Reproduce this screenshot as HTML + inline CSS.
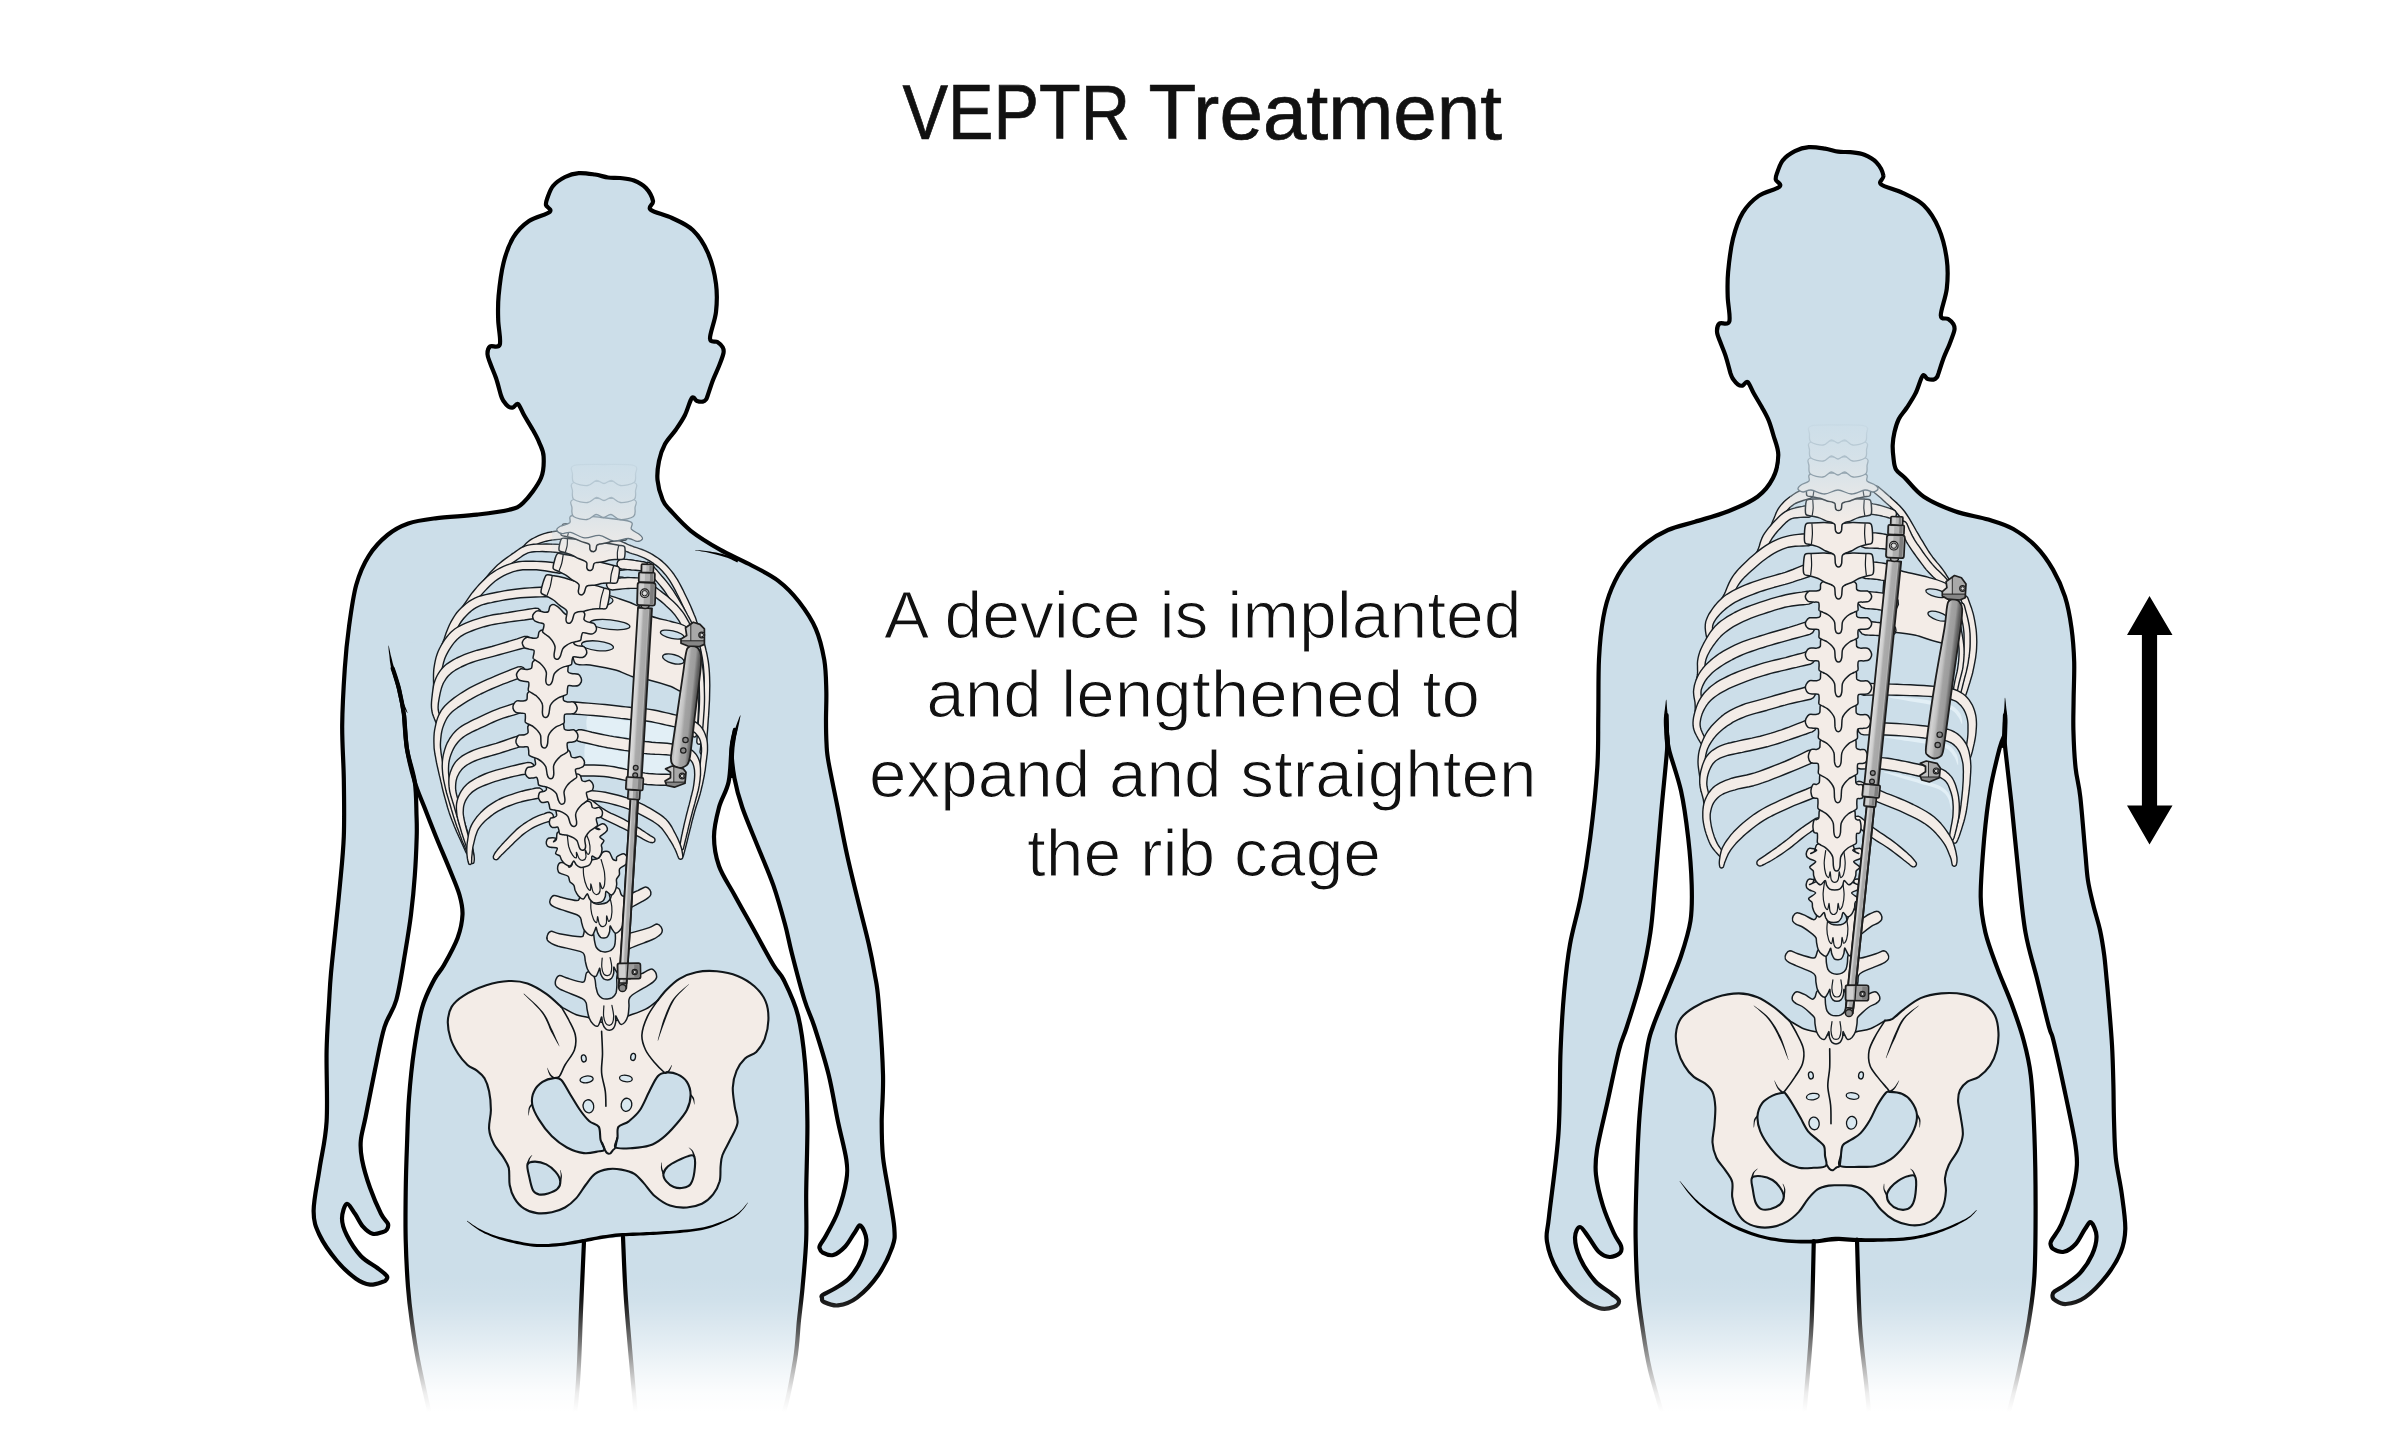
<!DOCTYPE html>
<html lang="en"><head><meta charset="utf-8"><title>VEPTR Treatment</title>
<style>
html,body{margin:0;padding:0;background:#fff}
body{width:2400px;height:1440px;overflow:hidden;position:relative;font-family:"Liberation Sans",sans-serif}
svg{position:absolute;left:0;top:0;display:block}
text{font-family:"Liberation Sans",sans-serif;fill:#111}
</style></head><body>
<svg width="2400" height="1440" viewBox="0 0 2400 1440">
<defs>
<linearGradient id="fade" x1="0" y1="1276" x2="0" y2="1412" gradientUnits="userSpaceOnUse">
<stop offset="0" stop-color="#fff" stop-opacity="0"/><stop offset="0.18" stop-color="#fff" stop-opacity="0.09"/><stop offset="0.32" stop-color="#fff" stop-opacity="0.25"/><stop offset="0.5" stop-color="#fff" stop-opacity="0.48"/><stop offset="0.68" stop-color="#fff" stop-opacity="0.72"/><stop offset="0.86" stop-color="#fff" stop-opacity="0.93"/><stop offset="1" stop-color="#fff" stop-opacity="1"/>
</linearGradient>
</defs>

<g fill="#ccdee9" stroke="none"><path d="M392.7 668.3C393.8 671.8 397.1 681.2 399 689C400.9 696.8 402.7 705 404 715C405.3 725 405.2 737.8 407 749C408.8 760.2 413.2 771 414.8 782C416.4 793 416.2 805.9 416.5 815C416.8 824.1 417 826.6 416.7 836.7C416.4 846.8 415.8 862.6 414.8 875.6C413.9 888.6 412.6 901.5 411 914.5C409.4 927.5 407.4 939.2 405 953.5C402.6 967.8 399.7 987.8 396.3 1000C392.9 1012.2 388.1 1015.4 384.5 1027C380.9 1038.6 378.1 1054.7 375 1069.7C371.9 1084.7 368 1105.2 365.6 1117C363.2 1128.8 361.4 1133.5 360.8 1140.6C360.2 1147.7 360.5 1151.6 362 1159.5C363.5 1167.4 366.8 1178.8 370 1187.8C373.2 1196.8 378 1207.8 381 1213.8C384 1219.8 387.1 1221.3 388 1224C388.9 1226.7 387.3 1228.7 386.5 1230C385.7 1231.3 385.3 1231.4 383 1232C380.7 1232.6 375.9 1234.7 372.6 1233.8C369.3 1232.9 365.9 1230 363 1226.7C360.1 1223.4 357.7 1217.6 355 1213.8C352.3 1210 348.9 1203.2 346.7 1204C344.5 1204.8 342 1213.3 342 1218.5C342 1223.7 343.6 1228.8 346.7 1235C349.8 1241.2 355.7 1250.5 360.8 1256C365.9 1261.5 373.1 1264.7 377.4 1268C381.7 1271.3 385.4 1274 386.8 1276C388.2 1278 386.6 1279 386 1280C385.4 1281 385.7 1281 383 1281.8C380.3 1282.6 374.5 1285.1 370 1284.6C365.5 1284.1 361.5 1282.6 356 1278.7C350.5 1274.8 343.1 1268.3 337 1261C330.9 1253.7 323.4 1243.3 319.5 1235C315.6 1226.7 313.6 1222 313.6 1211C313.6 1200 317.3 1183.9 319.5 1169C321.7 1154.1 325.4 1141.4 326.6 1121.7C327.8 1102 326.2 1071.1 326.6 1050.8C327 1030.5 328.5 1013 329.2 1000C329.9 987 330 984 331 973C332 962 333.5 948.6 335 934C336.5 919.4 338.4 901.6 339.9 885.4C341.4 869.2 343.1 854.5 343.8 836.7C344.5 818.9 344.1 797 343.8 778.4C343.5 759.8 342 743.4 342.2 725C342.4 706.6 343.7 684.7 344.8 668.3C345.9 651.9 347.1 640.6 349 626.7C350.9 612.8 353 596.8 356.2 585C359.5 573.2 363.5 564.1 368.8 555.8C374 547.5 380.9 540.4 387.5 535C394.1 529.6 400.3 526.3 408.3 523.5C416.3 520.7 423.9 519.8 435.4 518.3C446.8 516.8 464.9 516 477 514.6C489.1 513.2 500.6 511.9 508.3 510C516 508.1 517.5 508.3 523 503C528.5 497.7 537.6 485.8 541 478C544.4 470.2 543.9 462.3 543.6 456.3C543.3 450.3 540.8 446.5 539 442C537.2 437.5 535.1 434 532.6 429.5C530.1 425 526.4 419.2 524 415C521.6 410.8 519.8 405.2 518 404C516.2 402.8 514.6 407.1 513 407.5C511.4 407.9 509.9 407.5 508.3 406.4C506.7 405.3 504.7 402.8 503.5 401C502.3 399.2 502.2 399.3 501 395.5C499.8 391.7 497.8 383.2 496 378C494.2 372.8 491.9 368 490.5 364C489.1 360 487.6 357.1 487.5 354.2C487.4 351.3 487.9 348.1 490 346.5C492.1 344.9 498.4 348.9 499.8 344.5C501.2 340.1 498.4 328.1 498.2 320C498 311.9 497.7 305.3 498.6 295.8C499.5 286.3 501.1 272.7 503.5 263C505.9 253.3 509 244.5 513.2 237.5C517.5 230.5 522.9 225.2 529 221C535.1 216.8 546.9 214.7 549.7 212C552.5 209.3 546.4 207.2 546 205C545.6 202.8 546 201.8 547.2 198.6C548.4 195.4 550 189.6 553 186C556 182.4 560.7 179.2 565 177C569.3 174.8 573.8 173.5 578.8 173.1C583.8 172.7 590.1 173.8 595 174.5C599.9 175.2 603.8 176.9 608 177.5C612.2 178.1 615.8 177.5 620.1 178C624.4 178.5 629.7 178.8 634 180.5C638.3 182.2 642.8 184.6 646 188C649.2 191.4 652.2 197.4 653 201C653.8 204.6 647.3 206.8 650.5 209.6C653.7 212.4 664.9 214.6 672 218C679.1 221.4 687 224.4 693 230.2C699 236 704.2 244.1 708 253C711.8 261.9 714.7 273.9 716 283.7C717.3 293.5 717 302.9 716 312C715 321.1 709.8 333.4 710 338.4C710.2 343.4 715.3 340.6 717.4 342C719.5 343.4 721.5 345.2 722.5 347C723.5 348.8 724.1 349.8 723.5 353C722.9 356.2 720.8 361.5 719 366C717.2 370.5 714.9 375.1 713 380C711.1 384.9 708.9 392.2 707.7 395.5C706.5 398.8 706.8 398.5 706 399.5C705.2 400.5 704.3 401.4 702.8 401.6C701.3 401.9 698.8 401.6 697 401C695.2 400.4 693.9 395.7 691.9 398C689.9 400.3 687.6 409.8 685 415C682.4 420.2 679.3 424.7 676 429.5C672.7 434.3 667.8 438.8 665 444C662.2 449.2 660.2 455 659 461C657.8 467 656.9 473.5 657.5 480C658.1 486.5 660.6 495 662.7 500C664.8 505 665.3 504.9 670 510C674.7 515.1 682.5 524.2 690.8 530.8C699.1 537.4 710.3 544.1 720 549.6C729.7 555.1 739.3 558.8 749 564C758.7 569.2 770 574.5 778.3 580.8C786.6 587.1 792.8 593.7 799 601.7C805.2 609.7 811.6 619 815.8 628.8C820 638.5 822.5 649.8 824.3 660C826 670.2 826 680 826.3 690C826.6 700 826 710.8 826 720C826 729.2 826.2 738 826.6 745C827 752 826.7 751.6 828.5 762C830.3 772.4 834.5 791.8 837.6 807.5C840.7 823.2 843.7 839.8 847.3 856C850.9 872.2 855.4 890.2 859 904.8C862.6 919.4 866.1 932.3 868.7 943.7C871.3 955.1 872.9 963.6 874.5 973C876.1 982.4 877 983.1 878.4 1000C879.8 1016.9 882.5 1054.2 883 1074.5C883.5 1094.8 881.7 1108 881.7 1121.7C881.7 1135.5 881.8 1145.2 883 1157C884.2 1168.8 886.9 1180.7 888.8 1192.5C890.7 1204.3 893.7 1219 894.3 1228C894.9 1237 895.1 1239 892.4 1246.8C889.7 1254.6 884.1 1266.5 878.2 1275C872.3 1283.5 863.7 1292.5 857 1297.6C850.3 1302.7 843.5 1304.7 838 1305.4C832.5 1306.1 826.6 1303.2 823.9 1302C821.2 1300.8 822.2 1299.2 822 1298C821.8 1296.8 820.4 1296.7 822.7 1295C825 1293.3 831.2 1290.9 835.7 1288C840.2 1285.1 845.6 1282.4 849.9 1277.5C854.2 1272.6 859 1264.9 861.7 1258.6C864.5 1252.3 866.6 1245.2 866.4 1239.7C866.2 1234.2 862.5 1226.8 860.5 1225.6C858.5 1224.4 857.2 1229.2 854.6 1232.7C852 1236.2 848.5 1243.1 845 1246.8C841.5 1250.5 837 1254 833.3 1255C829.6 1256 825 1253.9 822.7 1252.7C820.4 1251.5 819.9 1249.4 819.5 1248C819.1 1246.6 819.3 1246.7 820.4 1244.5C821.5 1242.3 823.4 1240.5 826.3 1235C829.2 1229.5 834.7 1220.5 838 1211.4C841.3 1202.4 844.9 1189.4 846.3 1180.7C847.7 1172 847.7 1169.3 846.3 1159.5C844.9 1149.7 841 1135.9 838 1121.7C835 1107.5 832.5 1090.3 828.6 1074.5C824.7 1058.7 818.5 1039.4 814.5 1027C810.5 1014.6 808.3 1012.2 804.5 1000C800.7 987.8 795.1 966.1 791.9 953.5C788.6 940.9 788.1 935.6 785 924.3C781.9 912.9 777.9 898.4 773.4 885.4C768.9 872.4 763 859.5 757.8 846.5C752.6 833.5 746.2 818.9 742.3 807.5C738.4 796.1 736.3 788.1 734.5 778.4C732.7 768.6 731.5 757.1 731.6 749C731.7 740.9 734.4 733.2 735 730"/><path d="M404 715C404.5 720.7 405.2 737.8 407 749C408.8 760.2 411.9 772.2 414.8 782C417.7 791.8 421 798.4 424.5 807.5C428 816.6 431.8 826.3 436 836.7C440.2 847.1 445.9 860.1 449.8 869.8C453.7 879.5 457.4 887.5 459.5 895C461.6 902.5 462.8 907.4 462.5 914.5C462.2 921.6 460.7 929.5 457.6 937.9C454.5 946.3 447.9 958 444 965C440.1 972 437.7 972.8 434 980C430.3 987.2 425.3 996.2 422 1008C418.7 1019.8 416.2 1035.8 414 1050.8C411.8 1065.8 410.2 1082.3 409 1098C407.8 1113.7 407.6 1129.2 407 1145C406.4 1160.8 405.9 1176.7 405.7 1192.5C405.5 1208.3 405.3 1224 405.7 1239.7C406.1 1255.5 407 1273.6 408 1287C409 1300.4 409.9 1307.8 411.6 1320C413.3 1332.2 414.9 1344.2 418 1360C421.1 1375.8 426.3 1398.3 430 1415C433.7 1431.7 438.3 1452.5 440 1460L570 1460C571.3 1447.1 576.1 1407.8 577.9 1382.8C579.7 1357.8 580 1333.6 581 1310C582 1286.4 583.5 1252.5 584 1241L623 1237C623.5 1247.5 624.3 1275.7 626 1300C627.7 1324.3 630.7 1356.1 633 1382.8C635.3 1409.5 638.8 1447.1 640 1460L760 1460C763.8 1452.6 777 1432.3 782.8 1415.6C788.6 1398.9 792.3 1375.9 795 1360C797.7 1344.1 797.7 1332.2 799 1320C800.3 1307.8 801.4 1300.4 802.6 1287C803.8 1273.6 805.6 1255.5 806.2 1239.7C806.8 1224 806 1212.2 806.2 1192.5C806.4 1172.8 807.6 1143.4 807.4 1121.7C807.2 1100 806.6 1080.3 805 1062.6C803.4 1044.9 801.5 1029.2 798 1015.4C794.5 1001.6 787.9 988.4 783.8 980C779.6 971.6 778.4 973.3 773.4 965C768.4 956.7 760.5 941.7 754 930C747.5 918.3 740.3 905.7 734.5 895C728.7 884.3 722.4 875.7 719 866C715.6 856.3 714 846.5 714 836.7C714 827 716.6 816.6 719 807.5C721.4 798.4 726.5 791.8 728.6 782C730.7 772.2 730.5 757.7 731.6 749C732.7 740.3 734.4 733.2 735 730"/><path d="M387.7 638.3L740 700L740 734L399 719Z"/></g>
<g fill="#ccdee9" stroke="none"><path d="M1666.6 715C1666.7 718.3 1666.9 729 1667 735C1667.1 741 1668 737.5 1667 750.7C1666 763.9 1663 792 1661 814.4C1659 836.8 1656.8 865.3 1655 885C1653.2 904.7 1652.7 916.7 1650.4 932.5C1648.1 948.3 1644.9 964 1641 979.7C1637.1 995.5 1630.5 1015.3 1626.8 1027C1623.1 1038.7 1622.2 1037.5 1619 1050C1615.8 1062.5 1611.2 1085.3 1607.5 1102C1603.8 1118.7 1598.9 1137.8 1597 1150C1595.1 1162.2 1595 1165.7 1596 1175C1597 1184.3 1600 1196.3 1603 1206C1606 1215.7 1610.8 1226.4 1613.8 1233C1616.8 1239.6 1620 1242.5 1621 1245.8C1622 1249.1 1621.9 1251.1 1620 1253C1618.1 1254.9 1613.1 1257.2 1609.6 1257C1606.1 1256.8 1602.5 1255.2 1599 1252C1595.5 1248.8 1591.9 1241.7 1588.8 1237.5C1585.6 1233.3 1582.3 1227 1580 1227C1577.7 1227 1575 1232.3 1575 1237.5C1575 1242.7 1576.7 1250.8 1580 1258C1583.3 1265.2 1589.7 1275 1595 1281C1600.3 1287 1607.7 1290.4 1611.7 1293.8C1615.7 1297.1 1618.7 1298.8 1619 1301C1619.3 1303.2 1617.1 1305.8 1613.8 1307C1610.4 1308.2 1605 1309.9 1599 1308C1593 1306.1 1584.9 1302 1578 1295.8C1571.1 1289.6 1562.7 1279.8 1557.5 1270.8C1552.3 1261.8 1548.4 1250.7 1547 1241.7C1545.6 1232.7 1547.1 1234.8 1549 1216.7C1550.9 1198.6 1556.6 1160.8 1558.5 1133C1560.4 1105.2 1559.6 1073.6 1560.6 1050C1561.5 1026.4 1562.6 1009.1 1564.2 991.5C1565.8 973.9 1567.2 960 1570 944.3C1572.8 928.5 1577.4 914.7 1580.8 897C1584.2 879.3 1587.5 859.6 1590.2 838C1593 816.4 1596 787.7 1597.3 767.2C1598.6 746.7 1598 733 1598.3 715C1598.6 697 1598.2 675.2 1599 659C1599.8 642.8 1601.2 629.3 1603.3 617.5C1605.4 605.7 1607.9 597.3 1611.7 588.3C1615.5 579.3 1620.1 570.9 1626 563.3C1631.9 555.7 1640 548 1647 542.5C1654 537 1660 533.5 1668 530C1676 526.5 1685 524.8 1695 521.7C1705 518.6 1717.9 515.4 1728.3 511.2C1738.7 507.1 1750 502.2 1757.5 496.7C1765 491.2 1769.5 484.9 1773 478C1776.5 471.1 1778.2 462.1 1778.3 455C1778.4 447.9 1775 440.9 1773.4 435.2C1771.8 429.5 1770.6 425.2 1768.8 420.7C1766.9 416.1 1764.8 412.5 1762.3 408C1759.8 403.4 1756.1 397.5 1753.7 393.2C1751.2 388.9 1749.5 383.3 1747.6 382C1745.8 380.8 1744.2 385.2 1742.6 385.6C1741 386 1739.5 385.6 1737.9 384.5C1736.3 383.4 1734.3 380.8 1733 379C1731.8 377.1 1731.8 377.3 1730.5 373.4C1729.3 369.5 1727.3 360.9 1725.5 355.6C1723.7 350.2 1721.4 345.4 1720 341.3C1718.5 337.3 1717 334.3 1717 331.4C1716.9 328.4 1717.4 325.2 1719.5 323.5C1721.5 321.9 1728 326 1729.3 321.5C1730.7 317 1727.9 304.9 1727.7 296.6C1727.5 288.3 1727.2 281.6 1728.1 272C1729 262.3 1730.6 248.5 1733 238.6C1735.5 228.7 1738.5 219.8 1742.8 212.7C1747.1 205.6 1752.6 200.2 1758.7 195.9C1764.8 191.6 1776.7 189.5 1779.5 186.8C1782.4 184 1776.2 181.9 1775.8 179.6C1775.4 177.4 1775.8 176.4 1777 173.1C1778.2 169.9 1779.9 164 1782.8 160.3C1785.8 156.7 1790.6 153.4 1794.9 151.2C1799.2 149 1803.8 147.6 1808.8 147.2C1813.8 146.8 1820.2 147.9 1825.1 148.6C1830 149.4 1834 151.1 1838.2 151.7C1842.4 152.3 1846 151.7 1850.3 152.2C1854.7 152.7 1860 153 1864.3 154.7C1868.7 156.4 1873.2 158.9 1876.4 162.4C1879.6 165.8 1882.7 171.9 1883.4 175.6C1884.2 179.2 1877.7 181.4 1880.9 184.3C1884.1 187.2 1895.4 189.4 1902.6 192.9C1909.7 196.4 1917.6 199.3 1923.7 205.3C1929.7 211.2 1934.9 219.4 1938.8 228.5C1942.6 237.5 1945.5 249.7 1946.8 259.7C1948.2 269.7 1947.8 279.2 1946.8 288.5C1945.8 297.7 1940.6 310.2 1940.8 315.3C1941 320.4 1946.1 317.5 1948.2 319C1950.3 320.4 1952.3 322.2 1953.4 324.1C1954.4 325.9 1955 326.9 1954.4 330.2C1953.8 333.4 1951.6 338.8 1949.8 343.4C1948.1 348 1945.7 352.6 1943.8 357.6C1941.9 362.6 1939.6 370.1 1938.5 373.4C1937.3 376.7 1937.6 376.4 1936.8 377.4C1935.9 378.5 1935.1 379.3 1933.5 379.6C1932 379.8 1929.5 379.6 1927.7 379C1925.9 378.4 1924.6 373.6 1922.6 375.9C1920.6 378.3 1918.3 387.9 1915.6 393.2C1913 398.6 1909.4 403.7 1906.6 408C1903.8 412.3 1900.8 415 1898.8 419C1896.8 423 1895.5 427.7 1894.5 432C1893.5 436.3 1892.9 440.7 1892.7 445C1892.5 449.3 1893 453.9 1893.5 458C1894 462.1 1894.1 466.2 1896 469.5C1897.9 472.8 1900.4 473.5 1905 478C1909.6 482.5 1915.4 491.2 1923.8 496.7C1932.1 502.2 1944.2 507.4 1955 511.2C1965.8 515.1 1978.6 516.6 1988.3 519.6C1998 522.6 2005.3 524.5 2013.3 529C2021.3 533.5 2029.6 539.9 2036.2 546.7C2042.9 553.5 2048.2 561.3 2053 569.6C2057.8 577.9 2061.9 587 2065 596.7C2068.1 606.4 2070 617.1 2071.5 628C2073 638.9 2073.8 650 2074.2 662C2074.5 674 2073.7 688.7 2073.6 700C2073.5 711.3 2073.1 718.7 2073.4 730C2073.7 741.3 2074.4 756.8 2075.6 768C2076.8 779.2 2078.7 782.9 2080.3 797C2081.9 811.1 2084 839 2085.3 852.8C2086.6 866.6 2086.6 871.3 2087.9 880C2089.2 888.7 2091.3 896.7 2093.3 905C2095.3 913.3 2098.2 921.7 2100 930C2101.8 938.3 2103.1 946.7 2104.2 955C2105.3 963.3 2105.9 972 2106.7 980C2107.5 988 2107.9 992.5 2108.8 1003.3C2109.7 1014.1 2111.2 1031.4 2112 1045C2112.8 1058.6 2113.1 1072.5 2113.4 1085C2113.7 1097.5 2113.6 1107.8 2114 1120C2114.4 1132.2 2114.5 1145.8 2115.8 1158C2117.1 1170.2 2120.1 1181.7 2121.7 1193.5C2123.3 1205.3 2125.5 1219.2 2125.3 1229C2125.1 1238.8 2123.8 1244.7 2120.6 1252.5C2117.4 1260.3 2112.3 1268.5 2106.4 1276C2100.5 1283.5 2091.7 1292.7 2085 1297.4C2078.3 1302.1 2071.1 1303.6 2066 1304C2060.9 1304.4 2056.8 1301.1 2054.5 1299.7C2052.2 1298.3 2052.5 1296.9 2052.5 1295.5C2052.5 1294.1 2052.2 1293.3 2054.5 1291.5C2056.8 1289.7 2061.7 1287.6 2066 1284.4C2070.3 1281.2 2076.1 1277.5 2080.4 1272.6C2084.7 1267.7 2089.3 1261 2092 1254.9C2094.7 1248.8 2096.7 1241.4 2096.5 1236C2096.3 1230.6 2092.9 1223.5 2091 1222.3C2089.1 1221.1 2087.6 1225.4 2085 1229C2082.4 1232.6 2079.2 1240.2 2075.7 1244C2072.2 1247.8 2067.6 1251 2063.9 1251.8C2060.2 1252.6 2055.5 1250.3 2053.3 1249C2051.1 1247.7 2050.7 1245.6 2050.5 1244C2050.3 1242.4 2050.2 1242.8 2052 1239.5C2053.8 1236.2 2058.2 1231.7 2061.5 1224C2064.8 1216.3 2069.4 1203.3 2072 1193.5C2074.6 1183.7 2076.5 1174 2076.9 1165C2077.3 1156 2076.7 1152.2 2074.5 1139.2C2072.3 1126.2 2067.4 1103.7 2063.9 1087.2C2060.4 1070.7 2055.8 1050 2053.3 1040C2050.8 1030 2051.7 1037 2049 1027C2046.3 1017 2041.2 995.5 2037.3 979.7C2033.4 964 2028.6 950.2 2025.5 932.5C2022.4 914.8 2020.8 895 2018.5 873.4C2016.2 851.8 2013.6 823 2011.4 802.6C2009.2 782.2 2006.7 762 2005.5 750.7C2004.3 739.4 2004.6 741 2004.5 735C2004.4 729 2004.9 718.3 2005 715"/><path d="M1667 735C1667.4 737.6 1667 741.4 1669.3 750.7C1671.6 760 1677.8 776.2 1681 790.8C1684.2 805.3 1686.4 822.3 1688.2 838C1690 853.7 1691.3 871.2 1691.7 885C1692.1 898.8 1692.3 908.9 1690.5 920.7C1688.7 932.5 1684.9 944.2 1681 956C1677.1 967.8 1671.7 979.7 1667 991.5C1662.3 1003.3 1656.1 1017.2 1652.8 1027C1649.5 1036.8 1649.2 1035.8 1647 1050C1644.8 1064.2 1641.5 1091.7 1639.8 1112.5C1638.1 1133.3 1637.4 1154.2 1636.7 1175C1636 1195.8 1635.4 1218.4 1635.6 1237.5C1635.8 1256.6 1636.5 1274 1637.7 1289.6C1638.9 1305.2 1641 1317.6 1643 1331C1645 1344.4 1646.5 1355.2 1650 1370C1653.5 1384.8 1659.8 1405 1664 1420C1668.2 1435 1673.2 1453.3 1675 1460L1800 1460C1801.1 1447.8 1804.8 1409.5 1806.7 1387C1808.6 1364.5 1810.3 1349.3 1811.5 1325C1812.7 1300.7 1813.4 1255 1813.8 1241L1857 1239.7C1857.5 1253.9 1858.4 1300.5 1860 1325C1861.6 1349.5 1864.2 1364.5 1866.5 1387C1868.8 1409.5 1872.8 1447.8 1874 1460L1995 1460C1997.2 1452.5 2004 1429.9 2008 1415C2012 1400.1 2015.6 1385.9 2019 1370.6C2022.4 1355.3 2025.9 1339.2 2028.5 1323.4C2031.1 1307.6 2033.2 1295.7 2034.4 1276C2035.6 1256.3 2035.6 1228.9 2035.6 1205.3C2035.6 1181.7 2035.2 1156.2 2034.4 1134.5C2033.6 1112.8 2032.7 1091.4 2030.8 1075.4C2028.9 1059.4 2026.4 1050.7 2023.2 1038.7C2020 1026.7 2015.7 1015.1 2011.4 1003.3C2007.1 991.5 2001.5 979.7 1997.2 967.9C1992.9 956.1 1988.2 944.3 1985.4 932.5C1982.7 920.7 1980.9 912.8 1980.7 897C1980.5 881.2 1982.7 855.7 1984.2 838C1985.8 820.3 1987.4 805.8 1990 790.8C1992.6 775.8 1997.2 757.6 1999.6 748.3C2002 739 2003.7 737.2 2004.5 735"/><path d="M1661.6 685L2010 685L2009.5 739L1662 739Z"/></g>
<path d="M561.3 1006.9C558.8 1004.7 551.9 997.7 546.3 993.8C540.6 989.8 533.8 985.6 527.5 983.4C521.3 981.3 515.6 980.7 508.8 981C501.9 981.3 493.8 982.9 486.3 985.3C478.8 987.8 469.5 992 463.8 995.6C458 999.2 454.2 1002.5 451.6 1006.9C448.9 1011.3 448 1016.6 447.8 1021.9C447.7 1027.2 448.9 1033.4 450.6 1038.8C452.3 1044.1 455.3 1049.4 458.1 1053.8C460.9 1058.1 464.4 1062.2 467.5 1065C470.6 1067.8 474.1 1068.4 476.9 1070.6C479.7 1072.8 482.3 1074.7 484.4 1078.1C486.4 1081.6 488 1085.9 489.1 1091.3C490.2 1096.6 490.9 1103.8 490.9 1110C490.9 1116.3 488.6 1123.1 489.1 1128.8C489.5 1134.4 491.4 1139.1 493.8 1143.8C496.1 1148.4 500.6 1152.8 503.1 1156.9C505.6 1160.9 507.7 1163.4 508.8 1168.1C509.8 1172.8 508.8 1180 509.7 1185C510.6 1190 512 1194.2 514.4 1198.1C516.7 1202 520 1205.9 523.8 1208.4C527.5 1210.9 532.2 1212.5 536.9 1213.1C541.6 1213.8 547.2 1213.1 551.9 1212.2C556.6 1211.3 560.9 1209.8 565 1207.5C569.1 1205.2 572.8 1201.9 576.3 1198.1C579.7 1194.4 582.5 1189.1 585.6 1185C588.8 1180.9 591.3 1176.4 595 1173.8C598.8 1171.1 603.8 1169.8 608.1 1169.1C612.5 1168.4 616.9 1168.8 621.3 1169.6C625.6 1170.4 630.6 1171.5 634.4 1173.8C638.1 1176 640.3 1179.4 643.8 1183.1C647.2 1186.9 650.6 1192.5 655 1196.3C659.4 1200 664.7 1203.8 670 1205.6C675.3 1207.5 681.6 1207.8 686.9 1207.5C692.2 1207.2 697.5 1205.9 701.9 1203.8C706.3 1201.6 710.2 1198.1 713.1 1194.4C716.1 1190.6 718.4 1185.9 719.7 1181.3C720.9 1176.6 720.2 1170.6 720.6 1166.3C721.1 1161.9 720.9 1159.4 722.5 1155C724.1 1150.6 727.5 1145.3 730 1140C732.5 1134.7 736.7 1128.8 737.5 1123.1C738.3 1117.5 735.5 1112.2 734.7 1106.3C733.9 1100.3 732.5 1093.4 732.8 1087.5C733.1 1081.6 734.5 1075.5 736.6 1070.6C738.6 1065.8 741.7 1061.6 745 1058.4C748.3 1055.3 753 1055.2 756.3 1051.9C759.5 1048.6 762.7 1044.1 764.7 1038.8C766.7 1033.4 768.3 1026.3 768.4 1020C768.6 1013.8 768 1006.9 765.6 1001.3C763.3 995.6 759.1 990.5 754.4 986.3C749.7 982 743.8 978.4 737.5 975.9C731.3 973.4 723.8 971.9 716.9 971.3C710 970.6 702.5 970.9 696.3 972.2C690 973.4 684.4 975.8 679.4 978.8C674.4 981.7 669.8 986.4 666.3 990C662.7 993.6 659.2 998.6 657.8 1000.3L657.8 1000.3C655.8 1001.8 650.8 1006.5 645.6 1009.1C640.5 1011.8 633.4 1014.4 626.9 1016.3C620.3 1018.1 612.8 1019.8 606.3 1020C599.7 1020.2 592.5 1018.1 587.5 1017.2C582.5 1016.3 580.6 1016.5 576.3 1014.8C571.9 1013 563.8 1008.2 561.3 1006.9ZM553.8 1078.1C550.6 1078.4 545.8 1079.7 542.5 1081.9C539.2 1084.1 535.8 1087.5 534.1 1091.3C532.3 1095 531.4 1099.7 532.2 1104.4C533 1109.1 535.5 1114.1 538.8 1119.4C542 1124.7 547.2 1131.6 551.9 1136.3C556.6 1140.9 561.6 1144.7 566.9 1147.5C572.2 1150.3 578.4 1152.5 583.8 1153.1C589.1 1153.8 595.3 1151.9 598.8 1151.3C602.2 1150.6 604.1 1151.3 604.4 1149.4C604.7 1147.5 601.6 1143.8 600.6 1140C599.7 1136.3 600.6 1130 598.8 1126.9C596.9 1123.8 592.5 1124.1 589.4 1121.3C586.3 1118.4 583.1 1114.4 580 1110C576.9 1105.6 573.8 1100 570.6 1095C567.5 1090 564.1 1082.8 561.3 1080C558.4 1077.2 556.9 1077.8 553.8 1078.1ZM666.3 1072.5C669.5 1072.2 674.1 1072.8 677.5 1074.4C680.9 1075.9 684.7 1078.4 686.9 1081.9C689.1 1085.3 690.6 1090.3 690.6 1095C690.6 1099.7 689.4 1105 686.9 1110C684.4 1115 679.7 1120.3 675.6 1125C671.6 1129.7 666.9 1134.7 662.5 1138.1C658.1 1141.6 654.4 1144 649.4 1145.6C644.4 1147.3 638.1 1147.8 632.5 1148.1C626.9 1148.4 618.1 1149.2 615.6 1147.5C613.1 1145.8 617 1141.6 617.5 1138.1C618 1134.7 616.6 1129.7 618.4 1126.9C620.3 1124.1 625.2 1124.1 628.8 1121.3C632.3 1118.4 636.6 1115 640 1110C643.4 1105 646.4 1096.9 649.4 1091.3C652.3 1085.6 655 1079.4 657.8 1076.3C660.6 1073.1 663 1072.8 666.3 1072.5ZM527.5 1164.4C528.4 1161.7 531.9 1161.6 535 1161.6C538.1 1161.6 542.8 1162.7 546.3 1164.4C549.7 1166.1 553.3 1169.1 555.6 1171.9C558 1174.7 560 1178.4 560.3 1181.3C560.6 1184.1 559.5 1186.7 557.5 1188.8C555.5 1190.8 551.3 1192.5 548.1 1193.4C545 1194.4 541.3 1194.8 538.8 1194.4C536.3 1193.9 534.7 1193.4 533.1 1190.6C531.6 1187.8 530.3 1181.9 529.4 1177.5C528.4 1173.1 526.6 1167 527.5 1164.4ZM694.4 1156.9C693.4 1154.2 691.6 1155.3 688.8 1155.9C685.9 1156.6 680.9 1158.9 677.5 1160.6C674.1 1162.3 670.5 1164.1 668.1 1166.3C665.8 1168.4 663.8 1171.3 663.4 1173.8C663.1 1176.3 664.5 1179.1 666.3 1181.3C668 1183.4 670.9 1185.8 673.8 1186.9C676.6 1188 680.3 1188.3 683.1 1187.8C685.9 1187.3 688.8 1186.7 690.6 1184.1C692.5 1181.4 693.8 1176.4 694.4 1171.9C695 1167.3 695.3 1159.5 694.4 1156.9Z" fill="#f3ece7" fill-rule="evenodd" stroke="none"/>
<path d="M597.8 1125C598.1 1126.6 599 1131.4 599.7 1134.4C600.4 1137.3 601.3 1140.3 602.1 1142.8C603 1145.4 603.9 1148 604.8 1149.8C605.6 1151.5 606.3 1152.5 607.2 1153.1C608.1 1153.7 609.4 1153.8 610.4 1153.3C611.3 1152.8 612 1151.3 612.8 1150.3C613.6 1149.3 614.5 1149.5 615.3 1147.5C616 1145.5 616.6 1141.6 617.1 1138.1C617.7 1134.7 618.2 1128.8 618.4 1126.9" fill="#f3ece7" stroke="none"/>
<path d="M602.1 1142.8C602.6 1144 603.9 1148 604.8 1149.8C605.6 1151.5 606.3 1152.5 607.2 1153.1C608.1 1153.7 609.4 1153.8 610.4 1153.3C611.3 1152.8 612 1151.3 612.8 1150.3C613.6 1149.3 614.5 1149.5 615.3 1147.5C616 1145.5 616.8 1139.7 617.1 1138.1" fill="none" stroke="#10161a" stroke-width="2" stroke-linejoin="round" stroke-linecap="round"/>
<g fill="none" stroke="#10161a" stroke-width="2.1" stroke-linecap="round" stroke-linejoin="round">
<path d="M561.3 1006.9C558.8 1004.7 551.9 997.7 546.3 993.8C540.6 989.8 533.8 985.6 527.5 983.4C521.3 981.3 515.6 980.7 508.8 981C501.9 981.3 493.8 982.9 486.3 985.3C478.8 987.8 469.5 992 463.8 995.6C458 999.2 454.2 1002.5 451.6 1006.9C448.9 1011.3 448 1016.6 447.8 1021.9C447.7 1027.2 448.9 1033.4 450.6 1038.8C452.3 1044.1 455.3 1049.4 458.1 1053.8C460.9 1058.1 464.4 1062.2 467.5 1065C470.6 1067.8 474.1 1068.4 476.9 1070.6C479.7 1072.8 482.3 1074.7 484.4 1078.1C486.4 1081.6 488 1085.9 489.1 1091.3C490.2 1096.6 490.9 1103.8 490.9 1110C490.9 1116.3 488.6 1123.1 489.1 1128.8C489.5 1134.4 491.4 1139.1 493.8 1143.8C496.1 1148.4 500.6 1152.8 503.1 1156.9C505.6 1160.9 507.7 1163.4 508.8 1168.1C509.8 1172.8 508.8 1180 509.7 1185C510.6 1190 512 1194.2 514.4 1198.1C516.7 1202 520 1205.9 523.8 1208.4C527.5 1210.9 532.2 1212.5 536.9 1213.1C541.6 1213.8 547.2 1213.1 551.9 1212.2C556.6 1211.3 560.9 1209.8 565 1207.5C569.1 1205.2 572.8 1201.9 576.3 1198.1C579.7 1194.4 582.5 1189.1 585.6 1185C588.8 1180.9 591.3 1176.4 595 1173.8C598.8 1171.1 603.8 1169.8 608.1 1169.1C612.5 1168.4 616.9 1168.8 621.3 1169.6C625.6 1170.4 630.6 1171.5 634.4 1173.8C638.1 1176 640.3 1179.4 643.8 1183.1C647.2 1186.9 650.6 1192.5 655 1196.3C659.4 1200 664.7 1203.8 670 1205.6C675.3 1207.5 681.6 1207.8 686.9 1207.5C692.2 1207.2 697.5 1205.9 701.9 1203.8C706.3 1201.6 710.2 1198.1 713.1 1194.4C716.1 1190.6 718.4 1185.9 719.7 1181.3C720.9 1176.6 720.2 1170.6 720.6 1166.3C721.1 1161.9 720.9 1159.4 722.5 1155C724.1 1150.6 727.5 1145.3 730 1140C732.5 1134.7 736.7 1128.8 737.5 1123.1C738.3 1117.5 735.5 1112.2 734.7 1106.3C733.9 1100.3 732.5 1093.4 732.8 1087.5C733.1 1081.6 734.5 1075.5 736.6 1070.6C738.6 1065.8 741.7 1061.6 745 1058.4C748.3 1055.3 753 1055.2 756.3 1051.9C759.5 1048.6 762.7 1044.1 764.7 1038.8C766.7 1033.4 768.3 1026.3 768.4 1020C768.6 1013.8 768 1006.9 765.6 1001.3C763.3 995.6 759.1 990.5 754.4 986.3C749.7 982 743.8 978.4 737.5 975.9C731.3 973.4 723.8 971.9 716.9 971.3C710 970.6 702.5 970.9 696.3 972.2C690 973.4 684.4 975.8 679.4 978.8C674.4 981.7 669.8 986.4 666.3 990C662.7 993.6 659.2 998.6 657.8 1000.3"/>
<path d="M553.8 1078.1C550.6 1078.4 545.8 1079.7 542.5 1081.9C539.2 1084.1 535.8 1087.5 534.1 1091.3C532.3 1095 531.4 1099.7 532.2 1104.4C533 1109.1 535.5 1114.1 538.8 1119.4C542 1124.7 547.2 1131.6 551.9 1136.3C556.6 1140.9 561.6 1144.7 566.9 1147.5C572.2 1150.3 578.4 1152.5 583.8 1153.1C589.1 1153.8 595.3 1151.9 598.8 1151.3C602.2 1150.6 604.1 1151.3 604.4 1149.4C604.7 1147.5 601.6 1143.8 600.6 1140C599.7 1136.3 600.6 1130 598.8 1126.9C596.9 1123.8 592.5 1124.1 589.4 1121.3C586.3 1118.4 583.1 1114.4 580 1110C576.9 1105.6 573.8 1100 570.6 1095C567.5 1090 564.1 1082.8 561.3 1080C558.4 1077.2 556.9 1077.8 553.8 1078.1Z"/>
<path d="M666.3 1072.5C669.5 1072.2 674.1 1072.8 677.5 1074.4C680.9 1075.9 684.7 1078.4 686.9 1081.9C689.1 1085.3 690.6 1090.3 690.6 1095C690.6 1099.7 689.4 1105 686.9 1110C684.4 1115 679.7 1120.3 675.6 1125C671.6 1129.7 666.9 1134.7 662.5 1138.1C658.1 1141.6 654.4 1144 649.4 1145.6C644.4 1147.3 638.1 1147.8 632.5 1148.1C626.9 1148.4 618.1 1149.2 615.6 1147.5C613.1 1145.8 617 1141.6 617.5 1138.1C618 1134.7 616.6 1129.7 618.4 1126.9C620.3 1124.1 625.2 1124.1 628.8 1121.3C632.3 1118.4 636.6 1115 640 1110C643.4 1105 646.4 1096.9 649.4 1091.3C652.3 1085.6 655 1079.4 657.8 1076.3C660.6 1073.1 663 1072.8 666.3 1072.5Z"/>
<path d="M527.5 1164.4C528.4 1161.7 531.9 1161.6 535 1161.6C538.1 1161.6 542.8 1162.7 546.3 1164.4C549.7 1166.1 553.3 1169.1 555.6 1171.9C558 1174.7 560 1178.4 560.3 1181.3C560.6 1184.1 559.5 1186.7 557.5 1188.8C555.5 1190.8 551.3 1192.5 548.1 1193.4C545 1194.4 541.3 1194.8 538.8 1194.4C536.3 1193.9 534.7 1193.4 533.1 1190.6C531.6 1187.8 530.3 1181.9 529.4 1177.5C528.4 1173.1 526.6 1167 527.5 1164.4Z"/>
<path d="M694.4 1156.9C693.4 1154.2 691.6 1155.3 688.8 1155.9C685.9 1156.6 680.9 1158.9 677.5 1160.6C674.1 1162.3 670.5 1164.1 668.1 1166.3C665.8 1168.4 663.8 1171.3 663.4 1173.8C663.1 1176.3 664.5 1179.1 666.3 1181.3C668 1183.4 670.9 1185.8 673.8 1186.9C676.6 1188 680.3 1188.3 683.1 1187.8C685.9 1187.3 688.8 1186.7 690.6 1184.1C692.5 1181.4 693.8 1176.4 694.4 1171.9C695 1167.3 695.3 1159.5 694.4 1156.9Z"/>
</g>
<g fill="none" stroke="#10161a" stroke-width="1.6" stroke-linecap="round">
<path d="M561.3 1006.9C563.8 1008.2 571.9 1013 576.3 1014.8C580.6 1016.5 582.5 1015.8 587.5 1017.2C592.5 1018.6 599.7 1023.2 606.3 1023C612.8 1022.8 620.3 1018.6 626.9 1016.3C633.4 1013.9 640.5 1011.8 645.6 1009.1C650.8 1006.5 655.8 1001.8 657.8 1000.3"/>
<path d="M561.3 1006.9C562.5 1009.1 566.4 1015.3 568.8 1020C571.1 1024.7 574.4 1030 575.3 1035C576.3 1040 576.1 1045 574.4 1050C572.7 1055 567.5 1060.6 565 1065C562.5 1069.4 561.3 1074.1 559.4 1076.3C557.5 1078.4 554.7 1077.8 553.8 1078.1"/>
<path d="M657.8 1000.3C656.1 1003 650.2 1010.5 647.5 1016.3C644.8 1022 642.2 1029.4 641.9 1035C641.6 1040.6 643.4 1045.3 645.6 1050C647.8 1054.7 651.9 1059.4 655 1063.1C658.1 1066.9 662.5 1070.9 664.4 1072.5C666.3 1074.1 665.9 1072.5 666.3 1072.5"/>
<path d="M601.6 1031.3C601.7 1035 602.5 1046.9 602.5 1053.8C602.5 1060.6 601.1 1066.3 601.6 1072.5C602 1078.8 604.6 1085.6 605.3 1091.3C606 1096.9 605.8 1103.8 605.9 1106.3"/>
</g>
<g fill="#10161a" stroke="none">
<path d="M523.6 993.9L525.7 996L528.7 998.9L532.2 1002.3L535.8 1006L539.2 1009.6L541.9 1013L543.9 1016.1L545.6 1019.3L547.1 1022.5L548.4 1025.6L549.6 1028.7L551 1031.7L552.6 1034.5L554.2 1037.4L555.7 1040.2L557.1 1042.7L558.3 1044.8L559.2 1046.3L559.5 1046.2L558.8 1044.5L557.9 1042.3L556.7 1039.7L555.4 1036.8L554.1 1033.8L552.8 1030.8L551.4 1028L550.1 1024.9L548.7 1021.7L547.2 1018.5L545.3 1015.2L543.1 1012L540.2 1008.7L536.7 1005.1L532.9 1001.6L529.2 998.3L526.1 995.6L523.9 993.6Z"/>
<path d="M688.6 984.3L686.9 985.7L684.4 987.8L681.5 990.2L678.5 993L675.6 995.9L673.1 998.9L671.1 1002.1L669.3 1005.5L667.7 1009L666.2 1012.6L664.8 1016.2L663.4 1019.7L662.2 1023.4L661.1 1027.4L660 1031.4L659 1035.2L658.2 1038.3L657.7 1040.6L658 1040.7L658.8 1038.5L659.8 1035.4L661.1 1031.8L662.4 1027.9L663.9 1024L665.3 1020.3L666.6 1016.8L668 1013.3L669.4 1009.7L670.9 1006.2L672.6 1002.9L674.4 999.8L676.6 996.8L679.3 993.8L682.2 990.9L684.9 988.3L687.2 986.1L688.9 984.5Z"/>
<path d="M547 1067.9L547.3 1068.6L547.6 1069.7L548 1071L548.4 1072.4L548.9 1073.6L549.4 1074.8L550 1075.7L550.8 1076.5L551.5 1077.3L552.2 1077.9L552.7 1078.5L553.1 1078.9L554.4 1077.4L554 1077L553.3 1076.6L552.6 1076L551.9 1075.4L551.2 1074.7L550.6 1074L550 1073.1L549.4 1071.9L548.8 1070.7L548.2 1069.5L547.7 1068.5L547.3 1067.8Z"/>
<path d="M671.7 1064.9L671.4 1065.6L670.8 1066.5L670.3 1067.5L669.6 1068.6L669 1069.5L668.5 1070.2L668.1 1070.6L667.6 1070.9L667.1 1071.2L666.6 1071.3L666.1 1071.5L665.8 1071.6L666.7 1073.4L667 1073.2L667.4 1073L667.9 1072.7L668.5 1072.3L669.1 1071.7L669.6 1071L670.1 1070.1L670.6 1069.1L671 1067.9L671.5 1066.7L671.8 1065.8L672 1065.1Z"/>
<path d="M531.4 1103.7L531.2 1104.1L530.7 1104.6L530.2 1105.2L529.6 1106L529.1 1106.9L528.7 1107.9L528.5 1109.1L528.4 1110.6L528.3 1112.1L528.3 1113.5L528.3 1114.7L528.3 1115.6L528.6 1115.6L528.8 1114.8L528.9 1113.6L529.2 1112.2L529.4 1110.7L529.7 1109.4L530 1108.3L530.4 1107.6L530.9 1106.9L531.5 1106.3L532 1105.8L532.5 1105.4L532.9 1105Z"/>
<path d="M689.9 1095.6L690.2 1096L690.8 1096.5L691.3 1097.1L691.9 1097.7L692.4 1098.4L692.8 1099L693.1 1099.8L693.4 1100.8L693.7 1101.9L693.9 1102.9L694.1 1103.8L694.2 1104.4L694.5 1104.4L694.5 1103.7L694.5 1102.8L694.5 1101.7L694.4 1100.6L694.3 1099.5L694.1 1098.5L693.7 1097.6L693.2 1096.7L692.6 1096L692.1 1095.3L691.7 1094.8L691.4 1094.4Z"/>
<path d="M528.5 1164.7L528.6 1164L528.8 1163.1L529 1162L529.3 1160.9L529.6 1159.9L529.9 1159L530.3 1158.3L530.7 1157.5L531.2 1156.8L531.7 1156.1L532 1155.5L532.3 1155.1L532.1 1154.9L531.7 1155.2L531.2 1155.7L530.6 1156.3L530 1157L529.4 1157.7L528.8 1158.5L528.4 1159.4L527.9 1160.5L527.5 1161.6L527.1 1162.6L526.8 1163.5L526.5 1164.1Z"/>
<path d="M695.3 1156.6L695.1 1156L694.8 1155.1L694.4 1154.1L694 1153L693.6 1151.9L693 1150.9L692.3 1150.1L691.6 1149.4L690.8 1148.7L690 1148.2L689.3 1147.7L688.9 1147.4L688.7 1147.6L689 1148.1L689.6 1148.6L690.3 1149.3L690.9 1150L691.5 1150.8L692 1151.6L692.3 1152.4L692.6 1153.4L692.9 1154.5L693.1 1155.6L693.3 1156.5L693.4 1157.2Z"/>
<path d="M561.3 1181.4L561.3 1180.8L561.5 1180L561.6 1178.9L561.8 1177.8L561.9 1176.7L561.9 1175.6L561.7 1174.6L561.5 1173.5L561.2 1172.4L560.9 1171.4L560.7 1170.6L560.5 1170L560.2 1170L560.2 1170.7L560.3 1171.5L560.5 1172.5L560.6 1173.6L560.7 1174.7L560.7 1175.6L560.5 1176.6L560.3 1177.6L560.1 1178.6L559.8 1179.6L559.5 1180.4L559.3 1181.1Z"/>
<path d="M664.4 1173.4L664.1 1172.8L663.7 1172L663.3 1171L662.8 1170L662.4 1169L662.2 1168L662 1167.1L661.9 1166L661.8 1165L661.8 1164L661.8 1163.1L661.7 1162.5L661.4 1162.5L661.3 1163.1L661.2 1163.9L661.1 1164.9L661 1166L660.9 1167.2L661 1168.2L661.1 1169.3L661.4 1170.4L661.8 1171.6L662.1 1172.6L662.3 1173.5L662.5 1174.1Z"/>
</g>
<ellipse cx="583.8" cy="1058.4" rx="2.4" ry="3.6" transform="rotate(-10 583.8 1058.4)" fill="#d9e8f0" stroke="#10161a" stroke-width="1.3"/>
<ellipse cx="586.6" cy="1079.4" rx="6.6" ry="3.4" transform="rotate(-8 586.6 1079.4)" fill="#d9e8f0" stroke="#10161a" stroke-width="1.3"/>
<ellipse cx="588.4" cy="1106.3" rx="5.3" ry="6.6" transform="rotate(-10 588.4 1106.3)" fill="#d9e8f0" stroke="#10161a" stroke-width="1.3"/>
<ellipse cx="633.1" cy="1056.9" rx="2.4" ry="3.6" transform="rotate(10 633.1 1056.9)" fill="#d9e8f0" stroke="#10161a" stroke-width="1.3"/>
<ellipse cx="625.9" cy="1078.5" rx="6.4" ry="3.2" transform="rotate(8 625.9 1078.5)" fill="#d9e8f0" stroke="#10161a" stroke-width="1.3"/>
<ellipse cx="626.5" cy="1104.8" rx="5.3" ry="6.6" transform="rotate(10 626.5 1104.8)" fill="#d9e8f0" stroke="#10161a" stroke-width="1.3"/>
<path d="M1789.4 1020.6C1786.9 1018.4 1779.7 1011.4 1774.4 1007.5C1769.1 1003.6 1763.4 999.5 1757.5 997.2C1751.6 994.8 1745.6 993.4 1738.8 993.4C1731.9 993.4 1723.8 994.8 1716.3 997.2C1708.8 999.5 1699.7 1003.9 1693.8 1007.5C1687.8 1011.1 1683.6 1014.4 1680.6 1018.8C1677.7 1023.1 1676.4 1028.4 1675.9 1033.8C1675.5 1039.1 1676.4 1045.3 1677.8 1050.6C1679.2 1055.9 1681.7 1061.3 1684.4 1065.6C1687 1070 1690.3 1073.9 1693.8 1076.9C1697.2 1079.8 1701.9 1080.9 1705 1083.4C1708.1 1085.9 1710.8 1088 1712.5 1091.9C1714.2 1095.8 1715 1101.3 1715.3 1106.9C1715.6 1112.5 1714.8 1119.7 1714.4 1125.6C1713.9 1131.6 1712.2 1137.2 1712.5 1142.5C1712.8 1147.8 1714.1 1152.8 1716.3 1157.5C1718.4 1162.2 1723 1166.6 1725.6 1170.6C1728.3 1174.7 1731.1 1177.5 1732.2 1181.9C1733.3 1186.3 1731.6 1192.2 1732.2 1196.9C1732.8 1201.6 1733.9 1205.9 1735.9 1210C1738 1214.1 1740.8 1218.4 1744.4 1221.3C1748 1224.1 1752.8 1225.9 1757.5 1226.9C1762.2 1227.8 1767.5 1227.8 1772.5 1226.9C1777.5 1225.9 1783.1 1223.8 1787.5 1221.3C1791.9 1218.8 1795.3 1215.6 1798.8 1211.9C1802.2 1208.1 1805 1202.5 1808.1 1198.8C1811.3 1195 1814.1 1191.6 1817.5 1189.4C1820.9 1187.2 1825.1 1186.3 1828.8 1185.6C1832.4 1184.9 1835.9 1185.3 1839.6 1185.3C1843.4 1185.3 1847.4 1184.9 1851.3 1185.6C1855.1 1186.3 1859.1 1187.3 1862.5 1189.4C1865.9 1191.4 1868.8 1194.4 1871.9 1197.8C1875 1201.3 1877.5 1206.3 1881.3 1210C1885 1213.8 1889.7 1217.8 1894.4 1220.3C1899.1 1222.8 1904.4 1224.4 1909.4 1225C1914.4 1225.6 1920 1225.3 1924.4 1224.1C1928.8 1222.8 1932.5 1220.5 1935.6 1217.5C1938.8 1214.5 1941.4 1210.6 1943.1 1206.3C1944.8 1201.9 1945.6 1195.9 1945.9 1191.3C1946.3 1186.6 1944.5 1182.5 1945 1178.1C1945.5 1173.8 1946.6 1169.7 1948.8 1165C1950.9 1160.3 1955.8 1155 1958.1 1150C1960.5 1145 1962.3 1140.3 1962.8 1135C1963.3 1129.7 1961.7 1123.8 1960.9 1118.1C1960.2 1112.5 1958.3 1105.9 1958.1 1101.3C1958 1096.6 1958.4 1093.3 1960 1090C1961.6 1086.7 1964.4 1083.8 1967.5 1081.6C1970.6 1079.4 1975 1079.5 1978.8 1076.9C1982.5 1074.2 1987 1070 1990 1065.6C1993 1061.3 1995.2 1056.3 1996.6 1050.6C1998 1045 1998.8 1037.8 1998.4 1031.9C1998.1 1025.9 1997.3 1020 1994.7 1015C1992 1010 1987.7 1005.3 1982.5 1001.9C1977.3 998.4 1970.6 995.8 1963.8 994.4C1956.9 993 1948.4 992.8 1941.3 993.4C1934.1 994.1 1926.9 995.5 1920.6 998.1C1914.4 1000.8 1908.4 1005.9 1903.8 1009.4C1899.1 1012.8 1895.6 1016.9 1892.5 1018.8C1889.4 1020.6 1886.3 1020.3 1885 1020.6L1885 1020.6C1882.7 1021.9 1875.8 1026.6 1870.9 1028.5C1866.1 1030.4 1861.7 1031 1855.9 1031.9C1850.2 1032.8 1842.8 1033.8 1836.3 1033.8C1829.7 1033.8 1821.9 1032.7 1816.6 1031.9C1811.3 1031.1 1808.9 1030.9 1804.4 1029.1C1799.8 1027.2 1791.9 1022 1789.4 1020.6ZM1782.8 1092.8C1780.6 1093.1 1775.9 1093.9 1772.5 1095.6C1769.1 1097.3 1764.7 1099.7 1762.2 1103.1C1759.7 1106.6 1757.8 1111.6 1757.5 1116.3C1757.2 1120.9 1758.1 1125.9 1760.3 1131.3C1762.5 1136.6 1766.7 1143.1 1770.6 1148.1C1774.5 1153.1 1779.1 1158 1783.8 1161.3C1788.4 1164.5 1793.8 1166.7 1798.8 1167.8C1803.8 1168.9 1809.2 1168.1 1813.8 1167.8C1818.3 1167.5 1824.1 1168 1825.9 1165.9C1827.8 1163.9 1825.3 1158.9 1825 1155.6C1824.7 1152.3 1825.3 1148.9 1824.1 1146.3C1822.8 1143.6 1820.2 1142.2 1817.5 1139.7C1814.8 1137.2 1810.9 1134.8 1808.1 1131.3C1805.3 1127.7 1803.1 1122.5 1800.6 1118.1C1798.1 1113.8 1795.6 1109.1 1793.1 1105C1790.6 1100.9 1787.3 1095.8 1785.6 1093.8C1783.9 1091.7 1785 1092.5 1782.8 1092.8ZM1889.7 1091.9C1892.3 1092 1898.3 1092.2 1901.9 1093.8C1905.5 1095.3 1908.8 1097.8 1911.3 1101.3C1913.8 1104.7 1916.4 1109.7 1916.9 1114.4C1917.3 1119.1 1916.3 1124.1 1914.1 1129.4C1911.9 1134.7 1907.7 1141.3 1903.8 1146.3C1899.8 1151.3 1895.3 1156.1 1890.6 1159.4C1885.9 1162.7 1880.9 1164.7 1875.6 1165.9C1870.3 1167.2 1864.7 1166.9 1858.8 1166.9C1852.8 1166.9 1843 1167.8 1840 1165.9C1837 1164.1 1840.5 1159.1 1840.9 1155.6C1841.4 1152.2 1841.1 1148 1842.8 1145.3C1844.5 1142.7 1848.3 1141.7 1851.3 1139.7C1854.2 1137.7 1857.5 1136.4 1860.6 1133.1C1863.8 1129.8 1867.2 1124.7 1870 1120C1872.8 1115.3 1874.8 1109.5 1877.5 1105C1880.2 1100.5 1883.9 1095 1885.9 1092.8C1888 1090.6 1887 1091.7 1889.7 1091.9ZM1751.9 1178.1C1753.3 1175.9 1757.8 1175.9 1761.3 1176.3C1764.7 1176.6 1769.4 1178.1 1772.5 1180C1775.6 1181.9 1778.1 1184.7 1780 1187.5C1781.9 1190.3 1783.8 1194.1 1783.8 1196.9C1783.8 1199.7 1782.2 1202.3 1780 1204.4C1777.8 1206.4 1773.8 1208.3 1770.6 1209.1C1767.5 1209.8 1763.8 1210.2 1761.3 1209.1C1758.8 1208 1757 1205.8 1755.6 1202.5C1754.2 1199.2 1753.4 1193.4 1752.8 1189.4C1752.2 1185.3 1750.5 1180.3 1751.9 1178.1ZM1915 1176.3C1913.6 1174.1 1910.3 1175.5 1907.5 1176.3C1904.7 1177 1900.9 1179.1 1898.1 1180.9C1895.3 1182.8 1892.5 1185.2 1890.6 1187.5C1888.8 1189.8 1887 1192.3 1886.9 1195C1886.7 1197.7 1887.8 1201.1 1889.7 1203.4C1891.6 1205.8 1895.2 1208.1 1898.1 1209.1C1901.1 1210 1905 1210 1907.5 1209.1C1910 1208.1 1911.7 1206.7 1913.1 1203.4C1914.5 1200.2 1915.6 1193.9 1915.9 1189.4C1916.3 1184.8 1916.4 1178.4 1915 1176.3Z" fill="#f3ece7" fill-rule="evenodd" stroke="none"/>
<path d="M1823.1 1144.4C1823.4 1146.3 1824.4 1152.2 1825 1155.6C1825.6 1159.1 1826.1 1162.8 1826.9 1165C1827.7 1167.3 1828.7 1168.3 1829.7 1169.1C1830.7 1170 1831.7 1170.6 1832.9 1170.3C1834 1169.9 1835.5 1168 1836.6 1167.3C1837.8 1166.5 1838.9 1167.9 1839.6 1165.9C1840.3 1164 1840.3 1159.2 1840.9 1155.6C1841.6 1152 1843 1146.3 1843.4 1144.4" fill="#f3ece7" stroke="none"/>
<path d="M1826.9 1165C1827.3 1165.7 1828.7 1168.3 1829.7 1169.1C1830.7 1170 1831.7 1170.6 1832.9 1170.3C1834 1169.9 1835.5 1168 1836.6 1167.3C1837.8 1166.5 1838.9 1167.9 1839.6 1165.9C1840.3 1164 1840.7 1157.3 1840.9 1155.6" fill="none" stroke="#10161a" stroke-width="2" stroke-linejoin="round" stroke-linecap="round"/>
<g fill="none" stroke="#10161a" stroke-width="2.1" stroke-linecap="round" stroke-linejoin="round">
<path d="M1789.4 1020.6C1786.9 1018.4 1779.7 1011.4 1774.4 1007.5C1769.1 1003.6 1763.4 999.5 1757.5 997.2C1751.6 994.8 1745.6 993.4 1738.8 993.4C1731.9 993.4 1723.8 994.8 1716.3 997.2C1708.8 999.5 1699.7 1003.9 1693.8 1007.5C1687.8 1011.1 1683.6 1014.4 1680.6 1018.8C1677.7 1023.1 1676.4 1028.4 1675.9 1033.8C1675.5 1039.1 1676.4 1045.3 1677.8 1050.6C1679.2 1055.9 1681.7 1061.3 1684.4 1065.6C1687 1070 1690.3 1073.9 1693.8 1076.9C1697.2 1079.8 1701.9 1080.9 1705 1083.4C1708.1 1085.9 1710.8 1088 1712.5 1091.9C1714.2 1095.8 1715 1101.3 1715.3 1106.9C1715.6 1112.5 1714.8 1119.7 1714.4 1125.6C1713.9 1131.6 1712.2 1137.2 1712.5 1142.5C1712.8 1147.8 1714.1 1152.8 1716.3 1157.5C1718.4 1162.2 1723 1166.6 1725.6 1170.6C1728.3 1174.7 1731.1 1177.5 1732.2 1181.9C1733.3 1186.3 1731.6 1192.2 1732.2 1196.9C1732.8 1201.6 1733.9 1205.9 1735.9 1210C1738 1214.1 1740.8 1218.4 1744.4 1221.3C1748 1224.1 1752.8 1225.9 1757.5 1226.9C1762.2 1227.8 1767.5 1227.8 1772.5 1226.9C1777.5 1225.9 1783.1 1223.8 1787.5 1221.3C1791.9 1218.8 1795.3 1215.6 1798.8 1211.9C1802.2 1208.1 1805 1202.5 1808.1 1198.8C1811.3 1195 1814.1 1191.6 1817.5 1189.4C1820.9 1187.2 1825.1 1186.3 1828.8 1185.6C1832.4 1184.9 1835.9 1185.3 1839.6 1185.3C1843.4 1185.3 1847.4 1184.9 1851.3 1185.6C1855.1 1186.3 1859.1 1187.3 1862.5 1189.4C1865.9 1191.4 1868.8 1194.4 1871.9 1197.8C1875 1201.3 1877.5 1206.3 1881.3 1210C1885 1213.8 1889.7 1217.8 1894.4 1220.3C1899.1 1222.8 1904.4 1224.4 1909.4 1225C1914.4 1225.6 1920 1225.3 1924.4 1224.1C1928.8 1222.8 1932.5 1220.5 1935.6 1217.5C1938.8 1214.5 1941.4 1210.6 1943.1 1206.3C1944.8 1201.9 1945.6 1195.9 1945.9 1191.3C1946.3 1186.6 1944.5 1182.5 1945 1178.1C1945.5 1173.8 1946.6 1169.7 1948.8 1165C1950.9 1160.3 1955.8 1155 1958.1 1150C1960.5 1145 1962.3 1140.3 1962.8 1135C1963.3 1129.7 1961.7 1123.8 1960.9 1118.1C1960.2 1112.5 1958.3 1105.9 1958.1 1101.3C1958 1096.6 1958.4 1093.3 1960 1090C1961.6 1086.7 1964.4 1083.8 1967.5 1081.6C1970.6 1079.4 1975 1079.5 1978.8 1076.9C1982.5 1074.2 1987 1070 1990 1065.6C1993 1061.3 1995.2 1056.3 1996.6 1050.6C1998 1045 1998.8 1037.8 1998.4 1031.9C1998.1 1025.9 1997.3 1020 1994.7 1015C1992 1010 1987.7 1005.3 1982.5 1001.9C1977.3 998.4 1970.6 995.8 1963.8 994.4C1956.9 993 1948.4 992.8 1941.3 993.4C1934.1 994.1 1926.9 995.5 1920.6 998.1C1914.4 1000.8 1908.4 1005.9 1903.8 1009.4C1899.1 1012.8 1895.6 1016.9 1892.5 1018.8C1889.4 1020.6 1886.3 1020.3 1885 1020.6"/>
<path d="M1782.8 1092.8C1780.6 1093.1 1775.9 1093.9 1772.5 1095.6C1769.1 1097.3 1764.7 1099.7 1762.2 1103.1C1759.7 1106.6 1757.8 1111.6 1757.5 1116.3C1757.2 1120.9 1758.1 1125.9 1760.3 1131.3C1762.5 1136.6 1766.7 1143.1 1770.6 1148.1C1774.5 1153.1 1779.1 1158 1783.8 1161.3C1788.4 1164.5 1793.8 1166.7 1798.8 1167.8C1803.8 1168.9 1809.2 1168.1 1813.8 1167.8C1818.3 1167.5 1824.1 1168 1825.9 1165.9C1827.8 1163.9 1825.3 1158.9 1825 1155.6C1824.7 1152.3 1825.3 1148.9 1824.1 1146.3C1822.8 1143.6 1820.2 1142.2 1817.5 1139.7C1814.8 1137.2 1810.9 1134.8 1808.1 1131.3C1805.3 1127.7 1803.1 1122.5 1800.6 1118.1C1798.1 1113.8 1795.6 1109.1 1793.1 1105C1790.6 1100.9 1787.3 1095.8 1785.6 1093.8C1783.9 1091.7 1785 1092.5 1782.8 1092.8Z"/>
<path d="M1889.7 1091.9C1892.3 1092 1898.3 1092.2 1901.9 1093.8C1905.5 1095.3 1908.8 1097.8 1911.3 1101.3C1913.8 1104.7 1916.4 1109.7 1916.9 1114.4C1917.3 1119.1 1916.3 1124.1 1914.1 1129.4C1911.9 1134.7 1907.7 1141.3 1903.8 1146.3C1899.8 1151.3 1895.3 1156.1 1890.6 1159.4C1885.9 1162.7 1880.9 1164.7 1875.6 1165.9C1870.3 1167.2 1864.7 1166.9 1858.8 1166.9C1852.8 1166.9 1843 1167.8 1840 1165.9C1837 1164.1 1840.5 1159.1 1840.9 1155.6C1841.4 1152.2 1841.1 1148 1842.8 1145.3C1844.5 1142.7 1848.3 1141.7 1851.3 1139.7C1854.2 1137.7 1857.5 1136.4 1860.6 1133.1C1863.8 1129.8 1867.2 1124.7 1870 1120C1872.8 1115.3 1874.8 1109.5 1877.5 1105C1880.2 1100.5 1883.9 1095 1885.9 1092.8C1888 1090.6 1887 1091.7 1889.7 1091.9Z"/>
<path d="M1751.9 1178.1C1753.3 1175.9 1757.8 1175.9 1761.3 1176.3C1764.7 1176.6 1769.4 1178.1 1772.5 1180C1775.6 1181.9 1778.1 1184.7 1780 1187.5C1781.9 1190.3 1783.8 1194.1 1783.8 1196.9C1783.8 1199.7 1782.2 1202.3 1780 1204.4C1777.8 1206.4 1773.8 1208.3 1770.6 1209.1C1767.5 1209.8 1763.8 1210.2 1761.3 1209.1C1758.8 1208 1757 1205.8 1755.6 1202.5C1754.2 1199.2 1753.4 1193.4 1752.8 1189.4C1752.2 1185.3 1750.5 1180.3 1751.9 1178.1Z"/>
<path d="M1915 1176.3C1913.6 1174.1 1910.3 1175.5 1907.5 1176.3C1904.7 1177 1900.9 1179.1 1898.1 1180.9C1895.3 1182.8 1892.5 1185.2 1890.6 1187.5C1888.8 1189.8 1887 1192.3 1886.9 1195C1886.7 1197.7 1887.8 1201.1 1889.7 1203.4C1891.6 1205.8 1895.2 1208.1 1898.1 1209.1C1901.1 1210 1905 1210 1907.5 1209.1C1910 1208.1 1911.7 1206.7 1913.1 1203.4C1914.5 1200.2 1915.6 1193.9 1915.9 1189.4C1916.3 1184.8 1916.4 1178.4 1915 1176.3Z"/>
</g>
<g fill="none" stroke="#10161a" stroke-width="1.6" stroke-linecap="round">
<path d="M1789.4 1020.6C1791.9 1022 1799.8 1027.2 1804.4 1029.1C1808.9 1030.9 1811.3 1030.7 1816.6 1031.9C1821.9 1033 1829.7 1036 1836.3 1036C1842.8 1036 1850.2 1033.1 1855.9 1031.9C1861.7 1030.6 1866.1 1030.4 1870.9 1028.5C1875.8 1026.6 1882.7 1021.9 1885 1020.6"/>
<path d="M1789.4 1020.6C1790.6 1022.8 1794.5 1029.1 1796.9 1033.8C1799.2 1038.4 1802.5 1043.8 1803.4 1048.8C1804.4 1053.8 1803.9 1059.1 1802.5 1063.8C1801.1 1068.4 1797.8 1072.5 1795 1076.9C1792.2 1081.3 1787.7 1087.3 1785.6 1090C1783.6 1092.7 1783.3 1092.3 1782.8 1092.8"/>
<path d="M1885 1020.6C1883.4 1023.1 1878.3 1030.6 1875.6 1035.6C1873 1040.6 1870 1045.6 1869.1 1050.6C1868.1 1055.6 1868.6 1061.3 1870 1065.6C1871.4 1070 1874.7 1073.1 1877.5 1076.9C1880.3 1080.6 1884.8 1085.6 1886.9 1088.1C1888.9 1090.6 1889.2 1091.3 1889.7 1091.9"/>
<path d="M1829.7 1048.8C1829.7 1051.9 1830 1061.3 1829.7 1067.5C1829.4 1073.8 1827.7 1080 1827.8 1086.3C1828 1092.5 1830.1 1098.8 1830.6 1105C1831.2 1111.3 1830.9 1120.6 1831 1123.8"/>
</g>
<g fill="#10161a" stroke="none">
<path d="M1753.7 1005.7L1755.3 1007.2L1757.6 1009.1L1760.2 1011.4L1763.1 1013.9L1765.8 1016.6L1768.1 1019.3L1770.2 1022L1772.2 1024.9L1774 1028L1775.8 1031.2L1777.5 1034.5L1779.1 1037.9L1780.9 1041.6L1782.7 1045.8L1784.4 1050.1L1785.9 1054.2L1787.3 1057.6L1788.3 1060.1L1788.6 1060L1787.8 1057.4L1786.8 1053.9L1785.5 1049.7L1784 1045.3L1782.5 1041L1780.9 1037.1L1779.2 1033.7L1777.4 1030.3L1775.6 1027.1L1773.6 1024L1771.5 1021L1769.4 1018.2L1766.8 1015.6L1763.9 1013L1760.8 1010.6L1758 1008.5L1755.6 1006.8L1753.8 1005.5Z"/>
<path d="M1918.7 1005.5L1916.9 1006.8L1914.4 1008.5L1911.5 1010.6L1908.5 1013L1905.6 1015.6L1903.1 1018.3L1901.1 1021.1L1899.4 1024.1L1897.8 1027.3L1896.4 1030.5L1894.9 1033.8L1893.5 1037.1L1892 1040.7L1890.5 1044.7L1889 1048.8L1887.7 1052.5L1886.6 1055.8L1885.8 1058.1L1886.1 1058.2L1887.1 1056L1888.5 1052.9L1890.1 1049.2L1891.8 1045.3L1893.6 1041.4L1895.3 1037.9L1896.7 1034.6L1898.1 1031.3L1899.5 1028L1900.9 1024.9L1902.6 1022L1904.4 1019.2L1906.6 1016.6L1909.3 1013.9L1912.1 1011.4L1914.9 1009.1L1917.2 1007.2L1918.8 1005.7Z"/>
<path d="M1774.2 1080.7L1774.6 1081.6L1775 1082.8L1775.6 1084.3L1776.2 1085.8L1776.9 1087.3L1777.6 1088.5L1778.3 1089.6L1779.2 1090.6L1780.1 1091.6L1781 1092.4L1781.7 1093L1782.1 1093.6L1783.5 1092.1L1782.9 1091.6L1782.2 1091L1781.3 1090.3L1780.4 1089.5L1779.5 1088.6L1778.7 1087.7L1777.9 1086.7L1777.1 1085.3L1776.3 1083.9L1775.6 1082.5L1775 1081.4L1774.5 1080.6Z"/>
<path d="M1898.9 1080.5L1898.3 1081.4L1897.6 1082.5L1896.6 1083.9L1895.7 1085.4L1894.7 1086.7L1893.8 1087.7L1893 1088.5L1892.1 1089.2L1891.2 1089.8L1890.4 1090.3L1889.7 1090.7L1889.1 1091.1L1890.3 1092.7L1890.7 1092.3L1891.4 1091.8L1892.2 1091.2L1893.1 1090.4L1894.1 1089.6L1894.9 1088.6L1895.7 1087.4L1896.5 1085.9L1897.4 1084.4L1898.1 1082.9L1898.8 1081.6L1899.2 1080.7Z"/>
<path d="M1756.8 1115.6L1756.5 1116L1756.1 1116.5L1755.5 1117.1L1754.9 1117.9L1754.4 1118.8L1754 1119.8L1753.8 1121L1753.7 1122.4L1753.6 1123.9L1753.6 1125.4L1753.6 1126.6L1753.6 1127.5L1753.9 1127.5L1754.1 1126.7L1754.3 1125.4L1754.5 1124L1754.7 1122.6L1755 1121.2L1755.4 1120.2L1755.7 1119.5L1756.2 1118.8L1756.8 1118.2L1757.3 1117.7L1757.9 1117.3L1758.2 1116.9Z"/>
<path d="M1916 1114.9L1916.4 1115.5L1916.9 1116.2L1917.5 1117.1L1918.1 1118.1L1918.6 1119.2L1919 1120.1L1919.2 1121.3L1919.4 1122.6L1919.4 1124.1L1919.5 1125.5L1919.5 1126.7L1919.5 1127.5L1919.8 1127.5L1920 1126.7L1920.1 1125.5L1920.3 1124.1L1920.4 1122.6L1920.5 1121.2L1920.4 1119.9L1920.1 1118.6L1919.6 1117.4L1919 1116.3L1918.5 1115.3L1918 1114.5L1917.7 1113.9Z"/>
<path d="M1752.8 1178.4L1753 1177.7L1753.1 1176.8L1753.3 1175.8L1753.6 1174.7L1753.9 1173.7L1754.3 1172.8L1754.7 1172.1L1755.3 1171.3L1756 1170.6L1756.7 1169.9L1757.2 1169.3L1757.6 1168.9L1757.4 1168.6L1756.9 1169L1756.3 1169.4L1755.5 1170L1754.7 1170.7L1753.9 1171.4L1753.2 1172.2L1752.7 1173.1L1752.2 1174.2L1751.8 1175.3L1751.5 1176.4L1751.2 1177.2L1750.9 1177.8Z"/>
<path d="M1915.9 1175.9L1915.7 1175.4L1915.4 1174.7L1915 1173.8L1914.6 1172.9L1914.1 1172L1913.6 1171.2L1913.1 1170.6L1912.5 1170.1L1911.9 1169.6L1911.3 1169.2L1910.8 1168.9L1910.4 1168.6L1910.2 1168.9L1910.5 1169.2L1910.9 1169.6L1911.4 1170.1L1911.8 1170.7L1912.3 1171.3L1912.6 1171.9L1912.9 1172.6L1913.2 1173.4L1913.5 1174.4L1913.7 1175.3L1913.9 1176L1914.1 1176.6Z"/>
<path d="M1784.7 1197L1784.8 1196.2L1785 1195L1785.1 1193.6L1785.3 1192.1L1785.3 1190.6L1785.3 1189.3L1785 1188.2L1784.6 1187L1784.2 1186L1783.7 1185L1783.3 1184.3L1783 1183.7L1782.7 1183.8L1782.8 1184.4L1783.1 1185.3L1783.5 1186.2L1783.8 1187.3L1784 1188.4L1784.1 1189.4L1784 1190.6L1783.8 1191.9L1783.5 1193.4L1783.2 1194.7L1783 1195.9L1782.8 1196.7Z"/>
<path d="M1887.8 1194.5L1887.3 1193.9L1886.8 1193.1L1886.2 1192.2L1885.6 1191.1L1885 1190.1L1884.6 1189.2L1884.4 1188.3L1884.3 1187.3L1884.3 1186.2L1884.3 1185.2L1884.3 1184.4L1884.2 1183.8L1883.9 1183.7L1883.8 1184.3L1883.7 1185.2L1883.5 1186.2L1883.4 1187.3L1883.4 1188.4L1883.5 1189.5L1883.8 1190.6L1884.2 1191.8L1884.8 1192.9L1885.3 1194L1885.7 1194.9L1886 1195.5Z"/>
</g>
<ellipse cx="1810.9" cy="1075.4" rx="2.4" ry="3.6" transform="rotate(-10 1810.9 1075.4)" fill="#d9e8f0" stroke="#10161a" stroke-width="1.3"/>
<ellipse cx="1812.8" cy="1096.6" rx="6.4" ry="3.2" transform="rotate(-8 1812.8 1096.6)" fill="#d9e8f0" stroke="#10161a" stroke-width="1.3"/>
<ellipse cx="1814.1" cy="1123.4" rx="5.1" ry="6.4" transform="rotate(-10 1814.1 1123.4)" fill="#d9e8f0" stroke="#10161a" stroke-width="1.3"/>
<ellipse cx="1861" cy="1075.4" rx="2.4" ry="3.6" transform="rotate(10 1861 1075.4)" fill="#d9e8f0" stroke="#10161a" stroke-width="1.3"/>
<ellipse cx="1852.6" cy="1096" rx="6.4" ry="3.2" transform="rotate(8 1852.6 1096)" fill="#d9e8f0" stroke="#10161a" stroke-width="1.3"/>
<ellipse cx="1851.6" cy="1122.8" rx="5.1" ry="6.4" transform="rotate(10 1851.6 1122.8)" fill="#d9e8f0" stroke="#10161a" stroke-width="1.3"/>
<path d="M587.8 716C589.7 714.4 599.6 716.6 604.4 717.2C609.2 717.8 623.8 720.4 628.9 721C634 721.6 642.9 721.6 647.8 722.2C652.7 722.8 668.3 723.6 671 726C673.7 728.4 673.7 741.1 671 742.8C668.3 744.5 652.7 741.2 647.8 740.6C642.9 740 634 738.2 628.9 737.4C623.8 736.6 609.2 734.8 604.4 734C599.6 733.2 589.7 732.6 587.8 730.5C585.9 728.4 585.9 717.6 587.8 716Z" fill="#e2eff6"/>
<path d="M586 743C588.1 741.2 599.4 747.2 604.4 748.3C609.4 749.4 623.8 751.8 628.9 752.6C634 753.4 643.1 754.4 647.8 754.8C652.5 755.2 666.7 753.8 668.9 756C671.1 758.2 669.2 771.6 666.7 773.5C664.2 775.4 652.2 773 647.8 772.5C643.4 772 634 770.4 628.9 769.5C623.8 768.6 609.4 765.6 604.4 765C599.4 764.4 588.1 766.6 586 764C583.9 761.4 583.9 744.8 586 743Z" fill="#e2eff6"/>
<path d="M700.1 646.5L700.4 648.5L701 651.2L701.6 654.5L702.3 658L702.8 661.7L703.3 665.3L703.6 669L703.9 672.9L704.1 676.9L704.2 681.1L704.3 685.5L704.3 690L704.2 694.7L704 699.7L703.7 704.8L703.4 710L703.1 715.1L702.8 719.8L702.4 724.5L702.1 729.2L701.7 733.7L701.4 737.9L701 741.7L700.8 744.7L700.6 747L700.4 748.6L700.3 749.6L700.2 750.3L700.1 751L700 751.6L700.2 752.9L700.9 753.9L702.1 754.5L703.4 754.3L704.4 753.6L705 752.4L705.1 751.9L705.3 751.4L705.5 750.5L705.7 749.3L706 747.6L706.2 745.3L706.5 742.2L706.9 738.4L707.2 734.2L707.6 729.6L707.9 724.9L708.2 720.2L708.6 715.4L708.9 710.4L709.2 705.2L709.5 699.9L709.6 694.9L709.7 690L709.8 685.5L709.7 681L709.6 676.7L709.4 672.5L709.1 668.5L708.7 664.7L708.2 660.9L707.5 657L706.8 653.4L706 650.2L705.4 647.5L704.9 645.5L704.4 644.3L703.3 643.6L702 643.6L700.8 644.1L700.1 645.2Z" fill="#f3ece7" stroke="#161d22" stroke-width="1.4" stroke-linejoin="round"/>
<path d="M695.5 652.3L695.9 654.8L696.4 658.2L697 662.3L697.6 666.7L698.1 671.1L698.5 675.2L698.8 679.2L699.1 683.3L699.3 687.5L699.4 691.7L699.5 695.8L699.5 700L699.4 704.2L699.2 708.5L698.9 712.8L698.6 717.1L698.3 721.1L698 724.8L697.8 728.3L697.5 731.7L697.3 734.8L697.1 737.7L696.9 740L696.8 741.8L697 742.9L697.7 743.8L698.8 744.2L699.9 744L700.8 743.3L701.2 742.2L701.4 740.5L701.7 738.1L702 735.3L702.4 732.1L702.7 728.7L703 725.2L703.3 721.5L703.6 717.4L703.9 713.2L704.2 708.8L704.4 704.4L704.5 700L704.5 695.8L704.4 691.5L704.3 687.3L704.1 683L703.8 678.9L703.5 674.8L703.1 670.5L702.5 666L701.9 661.6L701.3 657.5L700.8 654.1L700.5 651.7L700 650.5L698.9 649.7L697.7 649.5L696.5 650L695.7 651.1Z" fill="#f3ece7" stroke="#161d22" stroke-width="1.4" stroke-linejoin="round"/>
<path d="M691.8 662.2L692.1 665.3L692.5 669.6L693 674.7L693.6 680L694 685.3L694.3 690.1L694.4 694.4L694.3 698.7L694.3 702.9L694.1 707.1L693.9 711.1L693.8 714.9L693.6 718.7L693.4 722.6L693.1 726.4L692.9 729.8L692.6 732.7L692.5 734.8L692.7 735.9L693.4 736.6L694.3 737L695.4 736.8L696.1 736.1L696.5 735.2L696.7 733.1L697 730.2L697.3 726.7L697.7 722.9L698 719L698.2 715.1L698.4 711.3L698.6 707.2L698.7 703.1L698.8 698.8L698.9 694.4L698.7 689.9L698.5 685L698 679.7L697.5 674.2L697 669.1L696.5 664.9L696.2 661.8L695.8 660.7L694.9 659.9L693.8 659.8L692.7 660.2L691.9 661.1Z" fill="#f3ece7" stroke="#161d22" stroke-width="1.4" stroke-linejoin="round"/>
<path d="M610.6 544.2L611.7 544.7L613.2 545.4L615 546.2L616.9 547.1L618.8 547.9L620.6 548.7L622 549.4L623.4 550L624.7 550.6L626.2 551.3L627.8 552L629.7 552.8L632 553.6L634.5 554.4L637.1 555.2L639.6 556.1L642.1 557.1L644.5 558.1L646.8 559.4L649.2 560.7L651.5 562.2L653.8 563.7L656.1 565.4L658.2 567.1L660.2 569L662.2 571L664.1 573.2L666 575.4L667.8 577.8L669.6 580.4L671.4 583.3L673.1 586.3L674.9 589.6L676.6 593L678.3 596.3L679.9 599.5L681.4 602.7L682.8 605.9L684.3 609.1L685.6 612.1L686.8 614.9L687.8 617.3L688.6 619.3L689.2 621L689.7 622.4L690.1 623.7L690.4 624.7L690.7 625.5L691.7 627L693.3 627.8L695.1 627.7L696.6 626.7L697.4 625.1L697.3 623.3L697.1 622.5L696.7 621.5L696.3 620.2L695.8 618.6L695.1 616.8L694.2 614.7L693.2 612.2L692 609.4L690.7 606.3L689.2 603L687.7 599.7L686.1 596.5L684.5 593.2L682.9 589.8L681.1 586.4L679.3 583L677.4 579.6L675.4 576.6L673.5 573.7L671.5 571.1L669.4 568.6L667.3 566.2L665.1 564L662.8 561.9L660.4 559.9L657.9 558L655.3 556.3L652.7 554.7L650.1 553.2L647.5 551.9L644.8 550.6L642 549.5L639.3 548.6L636.7 547.7L634.3 547L632.3 546.2L630.5 545.5L629 544.9L627.6 544.3L626.3 543.6L625 543L623.4 542.3L621.7 541.5L619.8 540.7L617.9 539.8L616.1 539L614.5 538.3L613.4 537.8L611.6 537.5L610 538.2L608.8 539.6L608.5 541.4L609.2 543Z" fill="#f3ece7" stroke="#161d22" stroke-width="1.4" stroke-linejoin="round"/>
<path d="M645.2 568.5L646 569.4L647 570.5L648.3 571.9L649.6 573.4L651.1 575.1L652.7 576.9L654.3 578.8L656.2 580.9L658.1 583.1L660 585.4L661.9 587.7L663.7 590L665.4 592.4L667 594.9L668.7 597.4L670.3 600L671.9 602.6L673.5 605.2L675.1 607.9L676.6 610.6L678.2 613.4L679.7 616.1L681 618.5L682.2 620.7L683.2 622.5L684 624L684.6 625.4L685.2 626.6L685.6 627.6L686 628.3L687.3 629.8L689.1 630.4L691 630.1L692.5 628.8L693.1 627L692.8 625.1L692.4 624.3L692 623.4L691.4 622.1L690.7 620.7L689.8 619L688.8 617.1L687.6 615L686.3 612.5L684.8 609.8L683.2 606.9L681.5 604.1L679.9 601.4L678.3 598.7L676.7 596.1L675 593.4L673.3 590.7L671.5 588.1L669.7 585.6L667.8 583.1L665.8 580.6L663.8 578.2L661.8 576L660 573.9L658.3 571.9L656.8 570.1L655.2 568.4L653.8 566.8L652.6 565.5L651.6 564.3L650.8 563.5L649.2 562.4L647.2 562.3L645.5 563.2L644.4 564.8L644.3 566.8Z" fill="#f3ece7" stroke="#161d22" stroke-width="1.4" stroke-linejoin="round"/>
<path d="M645.6 589.7L646.4 590.3L647.4 591.1L648.6 592L650 593L651.5 594.2L653.1 595.4L654.7 596.7L656.6 598L658.4 599.4L660.4 600.9L662.2 602.4L664.1 604L665.9 605.7L667.8 607.4L669.7 609.2L671.5 611.1L673.2 612.9L674.7 614.7L676.1 616.6L677.5 618.6L678.9 620.7L680.1 622.8L681.1 624.6L681.9 626.1L682.3 627.1L682.5 627.8L682.6 628.4L682.6 629L682.7 629.7L682.7 630.4L683.5 632.3L685.1 633.7L687.1 634L689 633.2L690.4 631.6L690.7 629.6L690.6 629.2L690.6 628.6L690.6 627.5L690.3 626.1L689.9 624.4L689.1 622.7L688.1 620.8L687 618.8L685.7 616.6L684.2 614.2L682.6 611.9L680.9 609.7L679.1 607.6L677.3 605.5L675.3 603.5L673.3 601.6L671.3 599.8L669.3 598L667.4 596.3L665.3 594.6L663.3 593.1L661.4 591.6L659.6 590.3L657.9 589L656.4 587.8L654.9 586.7L653.5 585.6L652.2 584.7L651.2 583.9L650.4 583.3L648.5 582.5L646.4 582.8L644.8 584.1L644 586L644.3 588.1Z" fill="#f3ece7" stroke="#161d22" stroke-width="1.4" stroke-linejoin="round"/>
<path d="M597 594C602.3 591.9 614.3 597.3 620 599C625.7 600.7 635.7 604.7 640 607C644.3 609.3 648.1 614.6 652.2 616.5C656.3 618.4 666.4 620 671 621.5C675.6 623 684.2 623.7 686.5 627.5C688.8 631.3 688.6 643.7 688.5 650C688.4 656.3 686.9 668.9 686 674.4C685.1 679.9 684 689.4 682 691C680 692.6 675.4 688 671 686.5C666.6 685 654.2 681.3 649 680C643.8 678.7 636.5 677.8 632 676.5C627.5 675.2 621.1 671.5 615.5 670C609.9 668.5 595.4 665.9 590 665C584.6 664.1 577.4 666.3 575 663C572.6 659.7 571.3 646.4 572 640C572.7 633.6 576.7 621.1 580 615C583.3 608.9 591.7 596.1 597 594Z" fill="#f3ece7" stroke="#161d22" stroke-width="1.4" stroke-linejoin="round"/>
<ellipse cx="672.2" cy="634.6" rx="12" ry="3.8" transform="rotate(12 672.2 634.6)" fill="#ccdee9" stroke="#161d22" stroke-width="1.3"/>
<ellipse cx="673.3" cy="659" rx="11" ry="4.4" transform="rotate(15 673.3 659)" fill="#ccdee9" stroke="#161d22" stroke-width="1.3"/>
<ellipse cx="610" cy="624.6" rx="20" ry="4.8" transform="rotate(6 610 624.6)" fill="#ccdee9" stroke="#161d22" stroke-width="1.3"/>
<ellipse cx="597.5" cy="645.8" rx="16" ry="4.8" transform="rotate(6 597.5 645.8)" fill="#ccdee9" stroke="#161d22" stroke-width="1.3"/>
<ellipse cx="604.5" cy="601" rx="8.5" ry="4.2" transform="rotate(-5 604.5 601)" fill="#ccdee9" stroke="#161d22" stroke-width="1.3"/>
<ellipse cx="616" cy="581" rx="10" ry="4" transform="rotate(-8 616 581)" fill="#ccdee9" stroke="#161d22" stroke-width="1.3"/>
<ellipse cx="623" cy="567.5" rx="8" ry="2.6" transform="rotate(-5 623 567.5)" fill="#ccdee9" stroke="#161d22" stroke-width="1.3"/>
<path d="M621.5 569L622.6 569.1L624 569.2L625.8 569.4L627.6 569.6L629.6 569.8L631.4 570L633.4 570.1L635.7 570.3L638 570.5L640.2 570.7L642.1 570.9L643.4 571L645.7 570.6L647.6 569.2L648.5 567.1L648.1 564.8L646.7 562.9L644.6 562L643.3 561.8L641.4 561.5L639.2 561.1L636.9 560.7L634.6 560.4L632.6 560L630.6 559.8L628.6 559.6L626.7 559.4L625 559.3L623.5 559.1L622.5 559L619.9 559.4L617.9 561.1L617 563.5L617.4 566.1L619.1 568.1Z" fill="#f3ece7" stroke="#161d22" stroke-width="1.4" stroke-linejoin="round"/>
<path d="M612.6 590L614.4 589.8L616.8 589.5L619.6 589.2L622.6 588.9L625.5 588.6L628.2 588.5L630.8 588.4L633.8 588.4L636.8 588.4L639.6 588.5L642 588.5L643.8 588.5L646.3 587.9L648.2 586.2L649 583.7L648.4 581.2L646.7 579.3L644.2 578.5L642.5 578.3L640.1 578.1L637.2 577.9L634.1 577.7L630.9 577.6L627.8 577.5L624.8 577.7L621.6 577.9L618.4 578.2L615.5 578.6L613.1 578.8L611.4 579L608.8 580.1L607 582.3L606.5 585.1L607.6 587.7L609.8 589.5Z" fill="#f3ece7" stroke="#161d22" stroke-width="1.4" stroke-linejoin="round"/>
<path d="M573.5 714L576.9 714.3L581.6 714.6L587.2 715.1L593.1 715.5L598.8 716L603.8 716.5L608.2 716.9L612.5 717.4L616.6 717.9L620.6 718.4L624.5 718.8L628.3 719.3L631.9 719.6L635.3 719.9L638.6 720.2L641.7 720.4L644.7 720.8L648 721.2L651.4 721.8L655.2 722.6L659 723.4L662.8 724.3L666.4 725.1L669.7 725.8L672.5 726.4L675.1 726.9L677.3 727.4L679.4 727.8L681.4 728.2L683.4 728.8L685.5 729.2L687.5 729.7L689.2 730.1L690.8 730.5L692.1 731L693.3 731.6L694.4 732.3L695.5 733.3L696.5 734.4L697.5 735.6L698.5 737L699.3 738.3L699.9 739.7L700.4 741.2L700.8 742.8L701.1 744.5L701.3 746.3L701.5 748.1L701.5 749.8L701.5 751.6L701.3 753.4L701.1 755.4L700.9 757.5L700.6 759.7L700.4 762L700.1 764.3L699.9 766.8L699.5 769.3L699.2 771.8L698.7 774.5L698.2 777.3L697.6 780.2L697 783.2L696.3 786.2L695.6 789.3L694.8 792.3L694 795.2L693.1 798.2L692.2 801.2L691.2 804.2L690.3 807.2L689.4 810.3L688.6 813.3L687.8 816.4L687.1 819.4L686.4 822.5L685.7 825.4L685 828.4L684.3 831.4L683.6 834.5L682.9 837.5L682.3 840.4L681.7 843.1L681.2 845.5L680.8 847.6L680.4 849.4L680.1 851.1L679.9 852.5L679.7 853.7L679.5 854.6L679.6 855.6L680.2 856.5L681.1 857L682.1 856.9L683 856.3L683.5 855.4L683.7 854.6L684 853.4L684.4 852L684.8 850.4L685.3 848.6L685.8 846.5L686.4 844.2L687.1 841.5L687.8 838.6L688.5 835.6L689.3 832.6L690 829.6L690.8 826.7L691.5 823.7L692.2 820.7L693 817.7L693.8 814.7L694.6 811.7L695.5 808.8L696.4 805.8L697.4 802.8L698.4 799.8L699.3 796.8L700.2 793.7L701 790.6L701.7 787.5L702.5 784.4L703.1 781.3L703.7 778.4L704.3 775.5L704.7 772.7L705.2 770.1L705.5 767.5L705.8 765L706.1 762.6L706.4 760.3L706.7 758.2L706.9 756.1L707.2 754.1L707.4 752L707.5 750L707.5 747.9L707.5 745.9L707.4 743.8L707.2 741.8L706.9 739.7L706.4 737.7L705.7 735.7L705 733.7L704.1 731.7L703.1 729.8L701.9 727.9L700.4 726.1L698.7 724.4L696.8 722.9L694.8 721.7L692.7 720.7L690.6 719.8L688.6 719L686.6 718.2L684.5 717.5L682.3 716.8L680 716.2L677.7 715.5L675.1 714.9L672.3 714.2L669.1 713.4L665.5 712.6L661.6 711.7L657.6 710.8L653.7 710L649.8 709.4L646.2 708.9L642.8 708.5L639.5 708.2L636.3 707.9L633 707.7L629.5 707.3L625.8 706.9L622 706.5L618 706L613.9 705.5L609.5 705L605 704.5L599.8 704.1L594.1 703.6L588.1 703.1L582.6 702.7L577.8 702.3L574.5 702L571.4 702.6L569.1 704.6L568 707.5L568.6 710.6L570.6 712.9Z" fill="#f3ece7" stroke="#161d22" stroke-width="1.4" stroke-linejoin="round"/>
<path d="M578.6 741.3L581.3 742L584.9 742.8L589.3 743.8L594 744.9L598.8 746L603.2 746.9L607.5 747.7L611.8 748.4L616.1 749.1L620.2 749.7L624.2 750.4L628 750.9L631.4 751.5L634.5 752L637.6 752.5L640.6 752.9L643.8 753.4L647.2 753.8L650.9 754.1L654.8 754.3L658.8 754.4L662.6 754.6L666.1 754.8L669.4 755.1L672.4 755.4L675.3 755.6L677.9 755.9L680.3 756.3L682.4 756.7L684.2 757.2L685.8 757.6L687.2 758.2L688.4 758.7L689.4 759.4L690.4 760.1L691.3 761L692.1 762.1L692.8 763.4L693.3 764.8L693.8 766.4L694.2 768.3L694.5 770.2L694.6 772.3L694.7 774.6L694.6 777L694.4 779.6L694.1 782.1L693.8 784.6L693.4 787L693 789.3L692.4 791.7L691.8 794.2L691.1 796.7L690.5 799.4L689.8 802.1L689.1 804.9L688.3 807.7L687.6 810.6L686.8 813.5L686.1 816.4L685.4 819.3L684.7 822.2L684 825.1L683.4 828L682.7 830.8L682.2 833.5L681.6 836.2L681.1 838.9L680.6 841.6L680.2 844L679.8 846.1L679.5 847.6L679.6 848.6L680.2 849.5L681.1 850L682.1 849.9L683 849.3L683.5 848.4L683.8 846.9L684.3 844.9L684.9 842.5L685.5 839.9L686.2 837.2L686.8 834.5L687.5 831.9L688.1 829.1L688.8 826.2L689.5 823.3L690.2 820.5L690.9 817.6L691.7 814.8L692.4 811.9L693.2 809L694 806.2L694.8 803.4L695.5 800.6L696.2 798L696.9 795.5L697.5 793L698.2 790.5L698.7 788L699.2 785.4L699.6 782.8L700 780.1L700.2 777.5L700.5 774.8L700.5 772.2L700.5 769.8L700.4 767.5L700.2 765.3L699.9 763.1L699.4 761L698.6 758.9L697.7 757L696.6 755.1L695.3 753.4L693.7 751.8L692 750.3L690 749L687.8 747.8L685.3 746.9L682.6 746L679.8 745.4L676.9 744.8L673.8 744.2L670.6 743.7L667.1 743.3L663.3 743L659.4 742.7L655.5 742.5L651.8 742.2L648.4 741.8L645.3 741.5L642.3 741.1L639.4 740.6L636.5 740.1L633.3 739.6L629.8 739.1L626 738.5L622.1 737.9L617.9 737.2L613.7 736.6L609.6 735.9L605.6 735.1L601.3 734.2L596.7 733.2L592 732.2L587.7 731.1L584 730.3L581.4 729.7L578.3 729.8L575.6 731.4L574.2 734.1L574.3 737.2L575.9 739.9Z" fill="#f3ece7" stroke="#161d22" stroke-width="1.4" stroke-linejoin="round"/>
<path d="M575 776L578.3 776L582.8 776L588.2 776L593.8 776L599.2 776.2L603.9 776.5L608.1 777L612.2 777.7L616.2 778.4L620.2 779.3L624.1 780.1L627.8 780.9L631.2 781.6L634.3 782.2L637.3 782.9L640.3 783.5L643.6 784L647.2 784.5L651.5 784.8L656.1 785.1L660.9 785.2L665.4 785.3L669.2 785.4L671.8 785.5L674.6 784.8L676.7 782.9L677.5 780.2L676.8 777.4L674.9 775.3L672.2 774.5L669.4 774.4L665.7 774.3L661.2 774.2L656.6 774.1L652.2 773.8L648.4 773.5L645.2 773.1L642.3 772.6L639.5 772.1L636.6 771.5L633.4 770.8L630 770.1L626.3 769.4L622.5 768.5L618.4 767.7L614.1 766.8L609.6 766.1L604.9 765.5L599.7 765.2L594 765L588.2 765L582.8 765L578.2 765L575 765L572.3 765.7L570.2 767.7L569.5 770.5L570.2 773.2L572.2 775.3Z" fill="#f3ece7" stroke="#161d22" stroke-width="1.4" stroke-linejoin="round"/>
<path d="M582.6 800L584.9 800.2L588.1 800.4L591.8 800.7L595.7 801L599.7 801.5L603.5 802.1L607.3 802.9L611.3 803.9L615.5 805L619.6 806.1L623.6 807.4L627.2 808.6L630.6 809.9L633.7 811.2L636.8 812.6L639.7 814.1L642.6 815.6L645.4 817.2L648.1 818.7L650.8 820.2L653.4 821.7L655.7 823.3L657.8 824.8L659.7 826.4L661.4 828L662.9 829.8L664.4 831.8L665.8 833.8L667.2 835.9L668.5 838L669.8 840L671 841.9L672.2 843.9L673.2 845.7L674.1 847.5L675 849.2L675.7 850.8L676.4 852.4L677 853.9L677.5 855.4L678 856.6L678.4 857.6L679 858.6L680 859.2L681.2 859.2L682.2 858.6L682.8 857.6L682.8 856.4L682.7 855.5L682.6 854.2L682.3 852.6L682 850.7L681.6 848.8L681 846.8L680.3 844.8L679.5 842.8L678.6 840.6L677.7 838.4L676.6 836.2L675.5 834L674.3 831.8L673.1 829.5L671.8 827L670.2 824.5L668.4 822L666.3 819.6L663.9 817.4L661.3 815.4L658.7 813.6L655.9 811.8L653.1 810.1L650.2 808.4L647.3 806.8L644.3 805.2L641.1 803.6L637.8 802.1L634.3 800.6L630.6 799.2L626.7 797.8L622.5 796.5L618.1 795.3L613.8 794.2L609.5 793.2L605.3 792.3L601.1 791.6L596.8 791.1L592.6 790.7L588.8 790.4L585.7 790.2L583.4 790L580.9 790.5L578.9 792.2L578 794.6L578.5 797.1L580.2 799.1Z" fill="#f3ece7" stroke="#161d22" stroke-width="1.4" stroke-linejoin="round"/>
<path d="M586.4 806.9L587.9 808L590 809.6L592.5 811.6L595.3 813.7L598.2 815.7L601.2 817.6L604.3 819.3L607.4 820.9L610.6 822.4L613.8 823.9L616.9 825.3L619.8 826.8L622.6 828.2L625.6 829.7L628.4 831.2L631.2 832.6L633.8 834L636.1 835.3L638.2 836.4L640.2 837.4L641.9 838.4L643.5 839.3L645 840.1L646.4 840.8L647.6 841.4L648.7 841.8L649.6 842.1L650.3 842.3L650.8 842.5L651.2 842.5L652.6 842.7L654 842.2L654.8 841.1L655 839.7L654.5 838.3L653.4 837.5L653 837.2L652.5 836.9L652 836.6L651.3 836.2L650.5 835.8L649.6 835.2L648.4 834.4L647.1 833.5L645.6 832.5L643.9 831.3L642 830.1L639.9 828.7L637.6 827.3L635 825.8L632.3 824.2L629.5 822.5L626.6 820.9L623.6 819.2L620.6 817.7L617.4 816.2L614.2 814.7L611.1 813.3L608.2 811.8L605.6 810.4L603 808.7L600.3 806.8L597.6 804.8L595.2 802.9L593.1 801.3L591.6 800.1L589.5 799.3L587.4 799.6L585.6 800.9L584.8 803L585.1 805.1Z" fill="#f3ece7" stroke="#161d22" stroke-width="1.4" stroke-linejoin="round"/>
<path d="M565.5 529.9L563.5 530.2L560.7 530.6L557.4 531L553.7 531.5L550.2 532.1L546.9 532.8L544 533.7L541.2 534.6L538.6 535.7L536.1 536.8L533.8 538L531.6 539.1L529.7 540.4L528 541.7L526.5 543.1L525.3 544.3L524.2 545.4L523 546.5L521.8 547.6L520.4 548.8L519.1 550L517.9 551.1L516.8 552L516.1 552.7L515.4 553.7L515.2 555L515.7 556.2L516.8 557L518.1 557.1L519.2 556.6L520.1 556L521.2 555.2L522.5 554.3L523.9 553.3L525.4 552.2L526.9 551.1L528.3 550.1L529.6 549L530.8 547.9L532.1 547L533.4 546.1L535 545.3L536.9 544.4L539 543.5L541.3 542.7L543.7 541.9L546.2 541.2L548.7 540.6L551.5 540.1L554.8 539.7L558.3 539.4L561.6 539.2L564.4 539L566.5 538.9L568.6 538L570.1 536.2L570.5 533.9L569.6 531.8L567.8 530.3Z" fill="#f3ece7" stroke="#161d22" stroke-width="1.4" stroke-linejoin="round"/>
<path d="M566.2 544.7L563.6 544.6L559.8 544.4L555.3 544.3L550.6 544.1L546.1 544L542.2 544.1L539.1 544.1L536.2 544.1L533.5 544.3L530.9 544.6L528.2 545.1L525.4 545.9L522.7 547L520.1 548.4L517.8 550L515.5 551.6L513.3 553.2L511.1 554.7L508.9 556.3L506.6 557.9L504.2 559.6L501.9 561.4L499.7 563.2L497.5 565L495.5 566.9L493.6 568.9L491.7 570.9L490 572.8L488.4 574.7L486.8 576.6L485.2 578.5L483.6 580.5L482.1 582.5L480.7 584.3L479.6 585.8L478.8 586.9L478.2 588.3L478.3 589.8L479.2 591.1L480.6 591.7L482.2 591.6L483.4 590.7L484.4 589.7L485.6 588.3L487.1 586.6L488.7 584.8L490.4 583L492 581.2L493.6 579.5L495.3 577.6L497 575.8L498.8 574L500.6 572.3L502.5 570.6L504.4 568.9L506.5 567.3L508.7 565.6L510.9 564L513.2 562.4L515.5 560.9L517.7 559.3L519.9 557.7L522 556.2L524 554.9L526 553.8L528 552.9L529.9 552.4L532 552L534.1 551.7L536.5 551.6L539.2 551.6L542.2 551.5L545.9 551.7L550.2 551.9L554.8 552.2L559.3 552.6L563.1 552.9L565.8 553.1L567.9 552.7L569.6 551.2L570.2 549.1L569.8 547L568.3 545.3Z" fill="#f3ece7" stroke="#161d22" stroke-width="1.4" stroke-linejoin="round"/>
<path d="M560.7 563.3L558.1 563.1L554.5 562.8L550.3 562.3L545.7 561.8L541.1 561.5L536.9 561.4L533.2 561.2L529.5 561.1L525.8 561.2L522.1 561.4L518.4 561.8L514.6 562.6L510.9 563.6L507.2 564.9L503.5 566.4L500 568.2L496.5 570L493.2 572.1L490.1 574.3L487.1 576.8L484.3 579.4L481.7 582L479.2 584.6L476.9 587.1L474.7 589.7L472.7 592.2L470.8 594.7L469.1 597.1L467.4 599.6L465.7 602.1L463.9 604.7L462 607.5L460.2 610.2L458.4 613L456.7 615.5L455.2 617.9L453.8 620.1L452.5 622.3L451.3 624.4L450.2 626.2L449.3 627.7L448.7 628.8L448.2 630.3L448.6 631.8L449.6 633L451.1 633.4L452.6 633.1L453.7 632.1L454.5 631L455.5 629.6L456.7 627.9L458.1 626L459.5 623.9L461 621.8L462.6 619.6L464.4 617.1L466.3 614.5L468.3 611.9L470.2 609.3L472.1 606.7L474 604.3L475.7 601.9L477.5 599.6L479.2 597.3L481.1 595.1L483.1 592.9L485.4 590.4L487.7 588L490.2 585.5L492.7 583.2L495.3 581L498 579.1L500.8 577.4L503.8 575.7L507 574.2L510.2 572.9L513.4 571.7L516.6 570.8L519.7 570.2L522.8 569.8L526.1 569.7L529.4 569.6L532.9 569.7L536.5 569.8L540.4 570.2L544.7 570.8L549.1 571.5L553.2 572.2L556.8 572.8L559.3 573.3L561.9 572.9L564 571.3L565 569L564.6 566.4L563 564.3Z" fill="#f3ece7" stroke="#161d22" stroke-width="1.4" stroke-linejoin="round"/>
<path d="M547.8 586.7L544.7 586.9L540.3 587.2L535.2 587.5L529.7 587.9L524.3 588.3L519.6 588.8L515.4 589.3L511.5 589.8L507.8 590.3L504.1 590.9L500.5 591.6L496.9 592.3L493.3 593L489.5 593.8L485.7 594.6L482 595.5L478.3 596.7L474.8 598.1L471.6 599.8L468.6 601.7L465.9 603.7L463.4 605.9L461.1 608L458.9 610.2L456.9 612.5L455.2 614.9L453.6 617.3L452.1 619.8L450.8 622.2L449.5 624.8L448.3 627.5L447.1 630.4L446 633.3L445 636.2L444.1 638.9L443.1 641.6L442.1 644.3L441 647.1L440 649.9L439 652.4L438.2 654.6L437.6 656.2L437.4 657.9L438.1 659.4L439.4 660.4L441.1 660.7L442.6 660L443.6 658.7L444.4 657.1L445.3 655L446.4 652.5L447.6 649.8L448.9 647L450.1 644.4L451.2 641.7L452.4 639L453.5 636.2L454.6 633.5L455.8 631L457.1 628.6L458.4 626.3L459.6 624.1L460.9 622L462.3 620.1L463.8 618.2L465.5 616.4L467.4 614.5L469.4 612.6L471.5 610.8L473.7 609.1L476.1 607.6L478.6 606.3L481.3 605.2L484.4 604.2L487.8 603.3L491.4 602.6L495 601.8L498.7 601.1L502.2 600.4L505.7 599.8L509.2 599.2L512.7 598.7L516.5 598.2L520.4 597.8L525 597.5L530.2 597.2L535.6 597L540.7 596.9L545.1 596.8L548.2 596.7L550.7 595.9L552.4 594L553 591.5L552.2 589L550.3 587.3Z" fill="#f3ece7" stroke="#161d22" stroke-width="1.4" stroke-linejoin="round"/>
<path d="M535.3 608.1L532.3 608.6L528.1 609.3L523.1 610.1L517.9 610.9L512.7 611.7L508.2 612.5L504.2 613.1L500.4 613.7L496.7 614.2L493.1 614.8L489.3 615.6L485.5 616.5L481.5 617.6L477.5 618.8L473.4 620.2L469.4 621.6L465.7 623.1L462.4 624.6L459.5 626.1L457 627.5L454.7 629L452.6 630.7L450.6 632.5L448.7 634.6L446.7 637L444.7 639.7L442.8 642.6L441.1 645.5L439.5 648.5L438.1 651.5L437 654.5L436 657.6L435.3 660.6L434.7 663.6L434.2 666.6L433.8 669.4L433.6 672.3L433.5 675.1L433.5 677.8L433.5 680.4L433.6 682.9L433.5 685.3L433.5 687.8L433.3 690.6L433.1 693.4L433 696L432.9 698.2L432.8 699.8L433 701.1L433.8 702.2L435.1 702.7L436.4 702.5L437.5 701.7L438 700.4L438.3 698.9L438.7 696.7L439.2 694.1L439.7 691.4L440.1 688.5L440.5 685.8L440.7 683.1L440.9 680.5L441 678L441.1 675.5L441.4 673L441.8 670.6L442.3 668L442.9 665.3L443.5 662.7L444.3 660.1L445.2 657.5L446.3 655.1L447.6 652.7L449 650.1L450.6 647.6L452.3 645.1L454 642.9L455.7 641L457.3 639.3L458.8 637.9L460.3 636.7L462 635.6L464 634.4L466.4 633.2L469.4 631.9L472.8 630.5L476.5 629.2L480.3 627.9L484.2 626.7L487.9 625.7L491.4 624.9L494.8 624.2L498.3 623.6L501.8 623.1L505.6 622.5L509.6 621.9L514.2 621.3L519.3 620.6L524.5 620L529.5 619.3L533.7 618.8L536.7 618.5L539.2 617.4L540.9 615.3L541.2 612.6L540.1 610.1L538 608.4Z" fill="#f3ece7" stroke="#161d22" stroke-width="1.4" stroke-linejoin="round"/>
<path d="M524.4 636.4L521.4 637.4L517.2 638.8L512.1 640.3L506.8 642L501.4 643.7L496.4 645.2L491.8 646.5L487 647.7L482.1 649L477.3 650.2L472.7 651.6L468.3 653.1L464.2 654.7L460.4 656.3L456.7 658L453.2 659.9L450 661.8L447 663.8L444.4 666L442.2 668.3L440.3 670.6L438.6 673.1L437.2 675.5L436 678L434.9 680.7L434 683.6L433.4 686.4L433 689.1L432.6 691.8L432.3 694.4L432 697L431.7 699.6L431.5 702.3L431.4 705L431.5 707.7L431.8 710.5L432.4 713.4L433.4 716.3L434.5 719.1L435.6 721.6L436.5 723.6L437.2 725.1L438.1 726.3L439.5 726.9L441 726.7L442.2 725.8L442.8 724.4L442.6 722.9L442.1 721.4L441.2 719.2L440.3 716.8L439.4 714.2L438.6 711.7L438.2 709.5L438.1 707.4L438.2 705.2L438.4 702.9L438.8 700.5L439.2 698.1L439.7 695.6L440.2 693.1L440.8 690.7L441.4 688.3L442.2 686L443 683.9L444 682L445.2 680.1L446.4 678.2L447.7 676.5L449.2 674.9L450.9 673.4L453 671.8L455.3 670.2L458.1 668.6L461.1 667L464.4 665.5L468 663.9L471.7 662.5L475.7 661.1L480 659.9L484.7 658.6L489.5 657.4L494.3 656.1L499.2 654.8L504.2 653.4L509.7 651.9L515.1 650.4L520.2 649L524.5 647.8L527.6 647L530 645.5L531.3 643L531.3 640.1L529.8 637.7L527.3 636.4Z" fill="#f3ece7" stroke="#161d22" stroke-width="1.4" stroke-linejoin="round"/>
<path d="M518 666.9L515.5 667.9L512.1 669.2L507.9 670.9L503.5 672.6L499.1 674.4L495 676.2L491.2 677.8L487.4 679.4L483.5 681.1L479.8 682.8L476.1 684.6L472.6 686.3L469.2 688.2L465.9 690.1L462.7 692.1L459.7 694L456.8 696L454.1 697.9L451.6 699.9L449.3 701.7L447.1 703.7L445 705.7L443.1 708L441.3 710.4L439.8 713.1L438.5 715.8L437.4 718.6L436.5 721.4L435.8 724.3L435.2 727.1L434.6 730.1L434.2 733L434 736.1L433.9 739.1L433.9 742.1L434 745.1L434.1 748.1L434.5 751.1L434.9 754L435.5 756.9L436 759.8L436.5 762.5L437.1 765.3L437.7 768L438.3 770.7L438.9 773.3L439.5 775.9L440.2 778.6L440.8 781.4L441.5 784.2L442.1 787.1L442.8 790L443.5 792.8L444.3 795.7L445.1 798.6L445.9 801.5L446.7 804.3L447.5 807.2L448.4 810.1L449.3 812.9L450.3 815.7L451.3 818.4L452.3 821.1L453.4 823.8L454.4 826.4L455.5 829L456.6 831.7L457.8 834.3L459 837L460.2 839.5L461.3 841.9L462.2 844L463.1 845.9L463.8 847.6L464.6 849.2L465.2 850.7L465.7 851.8L466.1 852.7L466.7 853.6L467.7 854L468.7 853.9L469.6 853.3L470 852.3L469.9 851.3L469.6 850.4L469.2 849.1L468.8 847.6L468.2 845.9L467.5 844.1L466.8 842L465.9 839.8L464.9 837.4L463.8 834.9L462.7 832.2L461.5 829.6L460.5 827L459.5 824.4L458.5 821.8L457.5 819.2L456.5 816.5L455.6 813.8L454.7 811.1L453.8 808.4L452.9 805.6L452.1 802.8L451.3 799.9L450.5 797.1L449.7 794.3L449 791.5L448.3 788.6L447.7 785.8L447.1 783L446.4 780.1L445.8 777.4L445.2 774.6L444.6 772L444 769.3L443.5 766.7L442.9 764.1L442.5 761.5L442 758.7L441.5 755.9L441.1 753.1L440.8 750.3L440.5 747.6L440.4 744.9L440.5 742.2L440.7 739.4L441 736.7L441.3 734L441.8 731.4L442.4 728.9L443.2 726.4L444.1 724L445.1 721.7L446.2 719.5L447.4 717.4L448.7 715.6L450.1 713.9L451.7 712.3L453.4 710.8L455.4 709.3L457.5 707.7L459.9 706.1L462.5 704.3L465.2 702.6L468 700.8L471.1 699.1L474.2 697.3L477.4 695.7L480.7 694L484.2 692.3L487.8 690.7L491.5 689L495.3 687.4L499 685.8L503 684.2L507.4 682.6L511.8 680.9L515.9 679.4L519.4 678.1L522 677.1L524.3 675.5L525.4 672.9L525.1 670L523.5 667.7L520.9 666.6Z" fill="#f3ece7" stroke="#161d22" stroke-width="1.4" stroke-linejoin="round"/>
<path d="M516.4 702.8L514.2 703.5L511.2 704.4L507.6 705.6L503.7 706.9L499.8 708.2L496.1 709.6L492.8 710.9L489.4 712.4L486.1 713.8L482.9 715.3L479.8 716.8L476.7 718.3L473.7 719.7L470.7 721.2L467.6 722.8L464.6 724.4L461.7 726.1L459.1 728L456.7 730L454.7 732L452.8 734.1L451.2 736.3L449.7 738.5L448.4 740.8L447.1 743.2L446 745.8L445.1 748.4L444.3 751.1L443.6 753.7L443.1 756.2L442.7 758.7L442.4 761.2L442.3 763.7L442.2 766.1L442.3 768.6L442.5 771.2L442.7 773.8L443.1 776.6L443.5 779.3L444.1 782.1L444.7 784.9L445.3 787.6L445.9 790.3L446.6 793L447.4 795.7L448.2 798.4L449 801.1L449.8 803.8L450.6 806.5L451.4 809.4L452.3 812.2L453.1 815.1L454 818L454.9 820.8L455.9 823.7L456.9 826.7L458 829.6L459.1 832.5L460.1 835.3L461.1 837.9L462 840.4L463 842.8L464 845L464.9 847.1L465.7 849.1L466.3 850.8L466.9 852.3L467.4 853.6L467.9 854.8L468.2 855.9L468.5 856.8L468.8 857.4L469.3 858.2L470 858.7L470.9 858.7L471.7 858.2L472.2 857.5L472.2 856.6L472.1 855.9L472 854.9L471.8 853.8L471.5 852.5L471.1 850.9L470.7 849.2L470.1 847.4L469.3 845.4L468.5 843.2L467.7 840.9L466.8 838.6L465.9 836.1L465 833.5L464 830.7L463 827.9L462 824.9L461 822L460.1 819.2L459.2 816.4L458.4 813.5L457.5 810.7L456.8 807.8L456 805L455.2 802.2L454.4 799.5L453.6 796.8L452.8 794.1L452 791.5L451.3 789L450.7 786.4L450.2 783.7L449.7 781.1L449.3 778.4L448.9 775.8L448.6 773.3L448.5 770.8L448.5 768.5L448.6 766.2L448.7 764.1L449 762L449.4 759.9L449.9 757.8L450.6 755.6L451.4 753.4L452.3 751.2L453.3 749.1L454.4 747.1L455.6 745.2L456.9 743.5L458.3 741.8L459.7 740.3L461.3 738.8L463 737.4L464.9 736L467.1 734.7L469.5 733.3L472.2 731.9L475.2 730.5L478.2 729.2L481.3 727.7L484.3 726.3L487.4 724.8L490.5 723.4L493.6 722L496.7 720.7L499.9 719.4L503.2 718.2L507 717L510.8 715.8L514.4 714.8L517.4 713.9L519.6 713.2L522 711.7L523.4 709.2L523.2 706.4L521.7 704L519.2 702.6Z" fill="#f3ece7" stroke="#161d22" stroke-width="1.4" stroke-linejoin="round"/>
<path d="M519.3 735.4L516.7 736.3L513.2 737.5L509.1 738.9L504.6 740.5L500.2 742L496.2 743.3L492.5 744.4L488.6 745.5L484.7 746.6L480.9 747.7L477.2 748.8L473.7 750.1L470.6 751.5L467.7 752.9L464.9 754.3L462.3 755.9L459.9 757.7L457.6 759.7L455.6 761.9L453.9 764.4L452.5 766.8L451.4 769.4L450.4 771.9L449.7 774.4L449.1 776.9L448.9 779.5L448.8 782L448.9 784.5L449.1 786.9L449.4 789.3L449.8 791.8L450.4 794.2L451 796.6L451.8 798.9L452.5 801.3L453.3 803.8L454.1 806.4L454.9 809.2L455.7 812.1L456.6 815L457.5 817.9L458.4 820.8L459.3 823.7L460.3 826.6L461.3 829.5L462.2 832.4L463.1 835.2L464 837.8L464.9 840.4L465.9 842.9L466.7 845.3L467.5 847.6L468.2 849.7L468.8 851.5L469.3 853.2L469.6 854.7L469.9 856L470.1 857.3L470.2 858.3L470.4 859.1L470.7 859.9L471.3 860.4L472.1 860.6L472.9 860.3L473.4 859.7L473.6 858.9L473.6 858.1L473.7 857L473.7 855.7L473.6 854.1L473.5 852.4L473.2 850.5L472.7 848.4L472.1 846.2L471.3 843.8L470.6 841.3L469.8 838.8L469 836.2L468.1 833.5L467.2 830.7L466.3 827.9L465.4 825L464.5 822.1L463.6 819.2L462.7 816.3L461.9 813.4L461 810.5L460.2 807.7L459.4 804.9L458.7 802.2L458 799.7L457.3 797.3L456.7 795L456.2 792.8L455.8 790.7L455.6 788.7L455.6 786.5L455.7 784.4L455.9 782.4L456.2 780.5L456.7 778.6L457.3 776.8L458.2 775L459.1 773.2L460.3 771.4L461.5 769.8L462.9 768.3L464.4 766.9L466 765.7L467.8 764.5L469.9 763.3L472.2 762.1L474.7 761L477.5 759.9L480.5 758.8L483.9 757.7L487.6 756.7L491.4 755.6L495.4 754.5L499.4 753.3L503.5 752L508 750.6L512.5 749.1L516.7 747.8L520.2 746.6L522.7 745.8L525.1 744.2L526.4 741.7L526.2 738.9L524.6 736.5L522.1 735.2Z" fill="#f3ece7" stroke="#161d22" stroke-width="1.4" stroke-linejoin="round"/>
<path d="M527.9 762.4L525.7 762.9L522.8 763.5L519.2 764.3L515.4 765.2L511.4 766.1L507.6 767.1L503.9 768.1L500.1 769.1L496.1 770.2L492.2 771.4L488.4 772.7L484.8 774L481.5 775.5L478.3 777L475.2 778.6L472.3 780.3L469.5 782.1L466.9 784.2L464.7 786.4L462.8 788.8L461.2 791.2L459.8 793.7L458.7 796.1L457.8 798.6L457.1 801L456.6 803.5L456.4 805.9L456.4 808.3L456.5 810.7L456.8 813.3L457.1 815.9L457.7 818.7L458.4 821.5L459.2 824.3L460 827L460.8 829.7L461.6 832.5L462.5 835.3L463.4 838.1L464.4 840.9L465.2 843.4L466 845.8L466.8 848L467.6 850L468.3 851.9L469 853.6L469.5 855.1L470 856.5L470.3 857.7L470.5 858.8L470.7 859.8L470.8 860.6L470.9 861.4L471 862L471.2 862.8L471.8 863.3L472.5 863.5L473.3 863.3L473.8 862.7L474 862L474.1 861.4L474.2 860.6L474.3 859.6L474.3 858.4L474.2 857L474 855.5L473.7 853.9L473.3 852.2L472.8 850.4L472.2 848.4L471.6 846.4L471 844.2L470.2 841.8L469.4 839.2L468.6 836.5L467.7 833.7L466.9 830.9L466.2 828.3L465.5 825.6L464.9 822.8L464.3 820.1L463.8 817.5L463.4 815L463.2 812.7L463.3 810.6L463.4 808.5L463.6 806.6L464 804.9L464.5 803.2L465.2 801.4L466.1 799.6L467.2 797.8L468.4 796.1L469.8 794.4L471.3 792.9L473.1 791.4L475 790.1L477.3 788.7L479.8 787.4L482.6 786.2L485.5 785L488.6 783.8L491.8 782.6L495.4 781.4L499.1 780.3L502.8 779.2L506.6 778.2L510.2 777.3L513.8 776.4L517.6 775.6L521.4 774.8L525 774.2L527.9 773.6L530.1 773.2L532.7 771.9L534.2 769.5L534.4 766.7L533.1 764.1L530.7 762.6Z" fill="#f3ece7" stroke="#161d22" stroke-width="1.4" stroke-linejoin="round"/>
<path d="M536.9 787.9L535 788.3L532.4 788.9L529.2 789.5L525.6 790.3L522 791.2L518.6 792.2L515.4 793.2L512 794.3L508.6 795.4L505.2 796.7L501.9 798L498.8 799.5L495.8 801.1L493 802.8L490.3 804.6L487.7 806.4L485.2 808.4L482.9 810.4L480.7 812.6L478.6 814.9L476.5 817.3L474.7 819.8L473 822.4L471.5 825.1L470.2 828.1L469.3 831.2L468.6 834.2L468.1 837.1L467.7 839.9L467.3 842.4L467 844.8L466.9 847.1L466.8 849.3L466.8 851.3L466.9 853.2L467 855L467.2 856.7L467.4 858.4L467.7 859.9L468 861.3L468.3 862.3L468.5 863.1L468.8 863.9L469.4 864.4L470.1 864.5L470.9 864.2L471.4 863.6L471.5 862.9L471.6 862L471.6 860.9L471.7 859.6L471.7 858.1L471.8 856.6L472 855L472.2 853.3L472.3 851.6L472.6 849.7L472.8 847.7L473.2 845.7L473.7 843.6L474.3 841.2L474.9 838.6L475.6 835.9L476.5 833.4L477.4 831L478.5 828.9L479.9 826.9L481.4 824.9L483.1 823L485 821.1L487 819.3L489.1 817.6L491.2 815.9L493.4 814.2L495.7 812.7L498.1 811.2L500.6 809.8L503.2 808.5L506 807.2L508.9 806L512 804.8L515.2 803.7L518.3 802.7L521.4 801.8L524.5 801L527.9 800.3L531.2 799.6L534.4 799L537.1 798.5L539.1 798.1L541.5 796.9L543 794.7L543.1 791.9L541.9 789.5L539.7 788Z" fill="#f3ece7" stroke="#161d22" stroke-width="1.4" stroke-linejoin="round"/>
<path d="M547.5 812.5L546 813L544 813.8L541.4 814.7L538.6 815.7L535.8 816.9L533.1 818.2L530.6 819.6L528.2 821L525.7 822.6L523.3 824.2L520.9 826L518.5 827.9L516.1 829.9L513.8 832.2L511.5 834.5L509.3 836.7L507.2 838.9L505.3 840.9L503.6 842.8L501.9 844.6L500.3 846.4L498.9 848L497.6 849.5L496.6 850.9L495.7 852L495 853L494.5 853.9L494.1 854.6L493.9 855.1L493.7 855.4L493.3 856.8L493.5 858.2L494.4 859.3L495.8 859.7L497.2 859.5L498.3 858.6L498.6 858.2L499 857.8L499.4 857.3L499.9 856.7L500.6 856L501.4 855.1L502.6 854L503.9 852.7L505.4 851.2L507.1 849.6L508.8 847.9L510.7 846.1L512.6 844.2L514.7 842.1L516.9 840L519.1 837.9L521.3 835.9L523.5 834.1L525.7 832.5L527.9 831L530.2 829.5L532.4 828.2L534.7 826.9L536.9 825.8L539.2 824.8L541.7 823.8L544.3 822.9L546.8 822.1L548.9 821.5L550.5 820.9L552.4 819.6L553.4 817.5L553.2 815.2L551.9 813.3L549.8 812.3Z" fill="#f3ece7" stroke="#161d22" stroke-width="1.4" stroke-linejoin="round"/>
<path d="M1888 697.2L1890.4 697.8L1893.7 698.4L1897.7 699.1L1901.9 699.8L1906.1 700.5L1909.8 701.2L1913.1 701.7L1916.3 702.2L1919.4 702.7L1922.6 703.3L1925.7 703.8L1928.9 704.5L1932.5 705.1L1936.2 705.7L1939.9 706.4L1943.5 707.1L1946.6 707.9L1949.2 708.8L1951.3 709.8L1952.9 710.9L1954.3 712.1L1955.5 713.3L1956.5 714.6L1957.5 715.9L1958.5 717.2L1959.4 718.7L1960.1 720.3L1960.7 721.8L1961.3 723.1L1961.8 724.1L1962.2 723.9L1962.2 722.9L1962.2 721.5L1962 719.7L1961.7 717.9L1961.2 715.9L1960.5 714.1L1959.4 712.5L1958.3 711L1956.9 709.4L1955.3 707.9L1953.2 706.4L1950.8 705.2L1947.8 704.1L1944.4 703.2L1940.7 702.5L1936.9 701.8L1933.1 701.2L1929.7 700.5L1926.4 700L1923.2 699.5L1920 699L1916.8 698.6L1913.6 698.2L1910.2 697.8L1906.4 697.5L1902.2 697.3L1897.9 697.1L1893.9 696.9L1890.5 696.8L1888 696.8Z" fill="#e2eff6"/>
<path d="M1884 737.2L1886.3 737.7L1889.4 738.2L1893.2 738.8L1897.2 739.5L1901.2 740.1L1904.8 740.7L1908.1 741.1L1911.4 741.5L1914.6 742L1917.8 742.4L1921 742.9L1924.4 743.5L1928 744.1L1931.8 744.7L1935.7 745.3L1939.3 746L1942.6 746.9L1945.2 747.8L1947.2 748.9L1948.9 750.1L1950.2 751.4L1951.4 752.8L1952.5 754.4L1953.5 755.9L1954.5 757.3L1955.4 759L1956.1 760.8L1956.7 762.5L1957.3 764L1957.8 765.1L1958.2 764.9L1958.2 763.8L1958.2 762.2L1958 760.3L1957.8 758.3L1957.3 756.1L1956.5 754.1L1955.5 752.4L1954.4 750.7L1953 748.9L1951.4 747.2L1949.3 745.6L1946.8 744.2L1943.7 743.1L1940.2 742.1L1936.4 741.4L1932.5 740.7L1928.6 740.1L1925 739.5L1921.6 739L1918.3 738.6L1915.1 738.2L1911.8 737.9L1908.5 737.6L1905.2 737.3L1901.5 737.1L1897.4 737L1893.4 736.8L1889.6 736.8L1886.3 736.7L1884 736.8Z" fill="#e2eff6"/>
<path d="M1883.9 772.2L1885.6 772.9L1887.8 773.6L1890.5 774.5L1893.4 775.4L1896.5 776.4L1899.6 777.4L1902.8 778.4L1906.3 779.4L1909.9 780.4L1913.5 781.5L1917.1 782.6L1920.5 783.7L1923.9 784.7L1927.4 785.6L1930.8 786.5L1933.9 787.4L1936.8 788.4L1939.2 789.6L1941.2 790.7L1942.9 791.9L1944.4 793.2L1945.6 794.6L1946.7 796.1L1947.6 797.6L1948.6 799.5L1949.3 801.7L1949.9 804.2L1950.4 806.6L1950.8 808.6L1951.3 810L1951.7 810L1951.8 808.5L1951.8 806.4L1951.7 803.9L1951.5 801.3L1951.1 798.7L1950.4 796.4L1949.3 794.4L1948.1 792.6L1946.7 790.9L1945 789.3L1943.1 787.9L1940.8 786.4L1938.1 785.2L1935 784.1L1931.7 783.1L1928.3 782.2L1924.9 781.3L1921.5 780.3L1918 779.3L1914.4 778.3L1910.8 777.3L1907.1 776.3L1903.6 775.4L1900.4 774.6L1897.2 773.9L1894 773.3L1890.9 772.8L1888.1 772.3L1885.8 772L1884.1 771.8Z" fill="#e2eff6"/>
<path d="M1961.2 600.2L1961.8 601.9L1962.7 604.1L1963.7 606.8L1964.7 609.7L1965.6 612.6L1966.4 615.4L1967.1 618.1L1967.7 621.1L1968.2 624.1L1968.7 627.1L1969.1 630.1L1969.4 633.1L1969.6 636L1969.7 639L1969.8 641.9L1969.7 644.8L1969.6 647.8L1969.4 650.7L1969.1 653.7L1968.7 656.8L1968.1 659.9L1967.6 663L1967 665.9L1966.4 668.8L1965.8 671.4L1965.2 673.9L1964.6 676.4L1964 678.7L1963.4 681L1962.9 683.1L1962.3 685.1L1961.8 687.1L1961.3 689L1960.8 690.7L1960.4 692.1L1960.1 693.1L1960.1 694.7L1960.8 696L1962.1 696.9L1963.7 696.9L1965 696.2L1965.9 694.9L1966.2 693.9L1966.7 692.5L1967.3 690.8L1967.9 688.9L1968.5 686.9L1969.1 684.9L1969.8 682.8L1970.4 680.6L1971.1 678.2L1971.9 675.6L1972.6 673L1973.2 670.2L1973.8 667.3L1974.4 664.3L1975 661.1L1975.6 657.8L1976 654.5L1976.4 651.3L1976.6 648.1L1976.7 645L1976.8 641.9L1976.7 638.8L1976.6 635.6L1976.4 632.5L1976.1 629.3L1975.6 626.1L1975.1 622.9L1974.5 619.7L1973.9 616.6L1973.2 613.6L1972.3 610.6L1971.3 607.4L1970.2 604.4L1969.2 601.7L1968.4 599.4L1967.8 597.8L1966.7 596.3L1965.1 595.6L1963.3 595.7L1961.8 596.8L1961.1 598.4Z" fill="#f3ece7" stroke="#161d22" stroke-width="1.4" stroke-linejoin="round"/>
<path d="M1958.5 606.7L1959.1 609L1959.9 612.2L1960.9 615.9L1961.9 619.8L1962.7 623.6L1963.3 627.1L1963.7 630.4L1964 633.6L1964.1 636.9L1964.1 640.1L1964.1 643.3L1964 646.5L1963.8 649.5L1963.5 652.6L1963.2 655.6L1962.7 658.6L1962.2 661.6L1961.7 664.5L1961.3 667.3L1960.7 670L1960.1 672.8L1959.4 675.4L1958.9 678L1958.3 680.4L1957.8 682.6L1957.4 684.9L1957 686.9L1956.6 688.8L1956.3 690.3L1956.1 691.4L1956.1 692.7L1956.8 693.8L1957.9 694.4L1959.2 694.4L1960.3 693.7L1960.9 692.6L1961.2 691.4L1961.6 689.9L1962.1 688.1L1962.6 686L1963.1 683.9L1963.7 681.6L1964.3 679.3L1964.9 676.8L1965.7 674.1L1966.4 671.4L1967 668.5L1967.7 665.5L1968.2 662.6L1968.6 659.6L1969.1 656.4L1969.5 653.3L1969.8 650L1970 646.7L1970.1 643.4L1970.1 640.1L1970.1 636.7L1970 633.3L1969.7 629.8L1969.3 626.3L1968.6 622.5L1967.7 618.4L1966.7 614.4L1965.7 610.6L1964.9 607.5L1964.3 605.3L1963.5 603.9L1962.2 603.1L1960.7 603.1L1959.3 603.9L1958.5 605.2Z" fill="#f3ece7" stroke="#161d22" stroke-width="1.4" stroke-linejoin="round"/>
<path d="M1956 628.4L1956.4 630.6L1957 633.7L1957.6 637.3L1958.2 641.1L1958.7 644.8L1959 648.1L1959.1 651.2L1959.1 654.3L1958.9 657.3L1958.7 660.3L1958.4 663.2L1958 666L1957.6 668.8L1957.1 671.5L1956.5 674.2L1955.9 676.7L1955.3 679.2L1954.8 681.5L1954.4 683.7L1954 685.7L1953.7 687.6L1953.4 689.2L1953.2 690.6L1953 691.6L1953.1 692.6L1953.7 693.5L1954.6 694L1955.6 693.9L1956.5 693.3L1957 692.4L1957.2 691.4L1957.5 690L1957.9 688.4L1958.3 686.5L1958.7 684.6L1959.2 682.5L1959.8 680.3L1960.4 677.9L1961.1 675.3L1961.8 672.5L1962.5 669.7L1963 666.8L1963.3 663.8L1963.7 660.8L1963.9 657.6L1964.1 654.4L1964.1 651.2L1964 647.9L1963.7 644.3L1963.2 640.3L1962.5 636.4L1961.9 632.8L1961.3 629.8L1961 627.6L1960.4 626.4L1959.4 625.7L1958.1 625.5L1956.9 626.1L1956.2 627.1Z" fill="#f3ece7" stroke="#161d22" stroke-width="1.4" stroke-linejoin="round"/>
<path d="M1873.5 491.8L1874.8 493L1876.6 494.5L1878.7 496.3L1881.1 498.3L1883.4 500.4L1885.6 502.5L1887.9 504.5L1890.2 506.5L1892.4 508.5L1894.6 510.7L1896.8 513L1899 515.7L1901.2 518.8L1903.5 522.5L1905.8 526.4L1908.1 530.5L1910.4 534.5L1912.6 538.3L1914.7 541.8L1916.8 545.3L1918.8 548.7L1920.8 552.1L1922.8 555.3L1924.9 558.4L1927.1 561.4L1929.4 564.2L1931.6 566.9L1933.7 569.4L1935.6 571.7L1937.2 573.8L1938.6 575.8L1939.9 577.7L1941 579.5L1942 581L1942.8 582.4L1943.4 583.4L1944.7 584.7L1946.5 585.1L1948.2 584.6L1949.5 583.3L1949.9 581.5L1949.4 579.8L1948.8 578.8L1947.9 577.4L1946.9 575.8L1945.7 573.9L1944.4 571.8L1942.8 569.6L1941 567.3L1939.1 564.9L1936.9 562.4L1934.8 559.8L1932.7 557.2L1930.7 554.4L1928.7 551.5L1926.8 548.4L1924.8 545.1L1922.8 541.7L1920.7 538.3L1918.6 534.7L1916.4 531L1914.2 527L1911.8 522.9L1909.5 518.9L1907 515L1904.6 511.5L1902.1 508.5L1899.6 505.8L1897.2 503.4L1894.8 501.3L1892.5 499.3L1890.4 497.3L1888.1 495.2L1885.7 493.1L1883.3 491L1881.2 489.2L1879.4 487.7L1878.1 486.6L1876.5 485.8L1874.6 485.9L1873.2 486.9L1872.4 488.5L1872.5 490.4Z" fill="#f3ece7" stroke="#161d22" stroke-width="1.4" stroke-linejoin="round"/>
<path d="M1899.3 526.6L1900 528.1L1900.9 530.1L1901.9 532.5L1903.1 535.1L1904.3 537.6L1905.5 539.9L1906.5 541.8L1907.4 543.4L1908.4 545L1909.5 546.7L1910.8 548.6L1912.3 550.8L1914.2 553.5L1916.4 556.6L1918.9 560L1921.4 563.4L1923.9 566.7L1926.2 569.6L1928.6 572.2L1931 574.7L1933.2 576.9L1935.4 578.9L1937.2 580.6L1938.6 582.1L1939.7 583.2L1940.5 584.2L1941.1 584.9L1941.5 585.4L1941.9 586L1942.2 586.5L1943.9 587.7L1945.9 588L1947.9 587.2L1949.1 585.5L1949.4 583.5L1948.6 581.5L1948.3 581.2L1947.9 580.7L1947.4 580L1946.6 579L1945.7 577.9L1944.4 576.5L1942.8 574.9L1940.9 573.1L1938.8 571.1L1936.6 569L1934.5 566.8L1932.4 564.4L1930.2 561.7L1927.8 558.6L1925.3 555.3L1922.9 552L1920.8 548.9L1918.9 546.2L1917.4 544.1L1916.2 542.3L1915.2 540.8L1914.3 539.4L1913.5 537.9L1912.5 536.1L1911.5 534.1L1910.4 531.7L1909.2 529.2L1908.2 526.8L1907.3 524.8L1906.7 523.4L1905.3 521.8L1903.4 521L1901.4 521.3L1899.8 522.7L1899 524.6Z" fill="#f3ece7" stroke="#161d22" stroke-width="1.4" stroke-linejoin="round"/>
<path d="M1886 566C1888.6 557.9 1896.2 569.5 1901.8 571C1907.4 572.5 1921.7 575.4 1927.8 577.2C1933.9 579 1944.7 581.5 1947.5 584.8C1950.3 588.1 1948.8 597.8 1948.7 602.2C1948.6 606.6 1947.3 612.1 1947 617.5C1946.7 622.9 1950.6 640.6 1946.4 643C1942.2 645.4 1922.6 636.7 1915.6 635.3C1908.6 633.9 1898.7 632.8 1894.2 632.3C1889.7 631.8 1883.1 640.3 1882 631.5C1880.9 622.7 1883.4 574.1 1886 566Z" fill="#f3ece7" stroke="#161d22" stroke-width="1.4" stroke-linejoin="round"/>
<ellipse cx="1936" cy="593.2" rx="10.5" ry="3.6" transform="rotate(15 1936 593.2)" fill="#ccdee9" stroke="#161d22" stroke-width="1.3"/>
<ellipse cx="1938" cy="616.2" rx="10.5" ry="4" transform="rotate(18 1938 616.2)" fill="#ccdee9" stroke="#161d22" stroke-width="1.3"/>
<path d="M1865.1 513.4L1866.7 513.6L1868.8 513.9L1871.4 514.2L1874 514.6L1876.6 515L1878.9 515.4L1881 515.8L1883.2 516.4L1885.5 516.9L1887.6 517.5L1889.4 518L1890.7 518.3L1893 518.4L1895.1 517.3L1896.3 515.3L1896.4 513L1895.3 510.9L1893.3 509.7L1892.1 509.2L1890.4 508.6L1888.3 507.9L1885.9 507.1L1883.5 506.3L1881.1 505.6L1878.6 505L1875.9 504.4L1873.1 503.9L1870.6 503.3L1868.4 502.9L1866.9 502.6L1864.1 502.8L1861.8 504.5L1860.6 507.1L1860.8 509.9L1862.5 512.2Z" fill="#f3ece7" stroke="#161d22" stroke-width="1.4" stroke-linejoin="round"/>
<path d="M1865.5 548L1867.1 548L1869.3 548.1L1871.9 548.1L1874.6 548.2L1877.1 548.3L1879.2 548.5L1881.1 548.6L1882.9 548.8L1884.7 549L1886.4 549.2L1887.8 549.3L1888.9 549.4L1892.5 549L1895.4 546.9L1896.9 543.6L1896.5 540L1894.4 537.1L1891.1 535.6L1890.1 535.3L1888.7 535L1887 534.7L1885.1 534.3L1883 533.9L1880.8 533.5L1878.4 533.2L1875.7 532.9L1872.9 532.7L1870.3 532.4L1868.1 532.2L1866.5 532L1862.5 532.8L1859.3 535.6L1858 539.5L1858.8 543.5L1861.6 546.7Z" fill="#f3ece7" stroke="#161d22" stroke-width="1.4" stroke-linejoin="round"/>
<path d="M1865.4 578.5L1866.7 578.6L1868.5 578.7L1870.6 578.9L1872.8 579L1875 579.2L1876.9 579.4L1878.9 579.7L1881.1 580.1L1883.3 580.4L1885.4 580.8L1887.2 581.1L1888.5 581.4L1892.9 581L1896.5 578.5L1898.4 574.5L1898 570.1L1895.5 566.5L1891.5 564.6L1890.2 564.4L1888.4 564.1L1886.2 563.7L1883.8 563.3L1881.4 562.9L1879.1 562.6L1876.7 562.3L1874.3 562.1L1871.9 561.9L1869.7 561.7L1867.9 561.6L1866.6 561.5L1862.3 562.3L1859 565.2L1857.5 569.4L1858.3 573.7L1861.2 577Z" fill="#f3ece7" stroke="#161d22" stroke-width="1.4" stroke-linejoin="round"/>
<path d="M1865.4 608.5L1866.7 608.6L1868.5 608.7L1870.6 608.9L1872.8 609L1875 609.2L1876.9 609.4L1878.9 609.7L1881.1 610.1L1883.3 610.4L1885.4 610.8L1887.2 611.1L1888.5 611.4L1892.9 611L1896.5 608.5L1898.4 604.5L1898 600.1L1895.5 596.5L1891.5 594.6L1890.2 594.4L1888.4 594.1L1886.2 593.7L1883.8 593.3L1881.4 592.9L1879.1 592.6L1876.7 592.3L1874.3 592.1L1871.9 591.9L1869.7 591.7L1867.9 591.6L1866.6 591.5L1862.3 592.3L1859 595.2L1857.5 599.4L1858.3 603.7L1861.2 607Z" fill="#f3ece7" stroke="#161d22" stroke-width="1.4" stroke-linejoin="round"/>
<path d="M1865.4 635L1866.7 635L1868.5 635.1L1870.7 635.2L1873 635.3L1875.3 635.4L1877.5 635.5L1879.6 635.6L1881.9 635.7L1884.2 635.8L1886.4 635.9L1888.2 636L1889.5 636L1892.6 635.4L1894.9 633.4L1896 630.5L1895.4 627.4L1893.4 625.1L1890.5 624L1889.2 623.8L1887.4 623.6L1885.3 623.3L1883 623.1L1880.7 622.8L1878.5 622.5L1876.4 622.3L1874.1 622L1871.8 621.7L1869.7 621.4L1867.9 621.2L1866.6 621L1863 621.7L1860.2 624L1859 627.4L1859.7 631L1862 633.8Z" fill="#f3ece7" stroke="#161d22" stroke-width="1.4" stroke-linejoin="round"/>
<path d="M1863.9 695.2L1866.8 695.1L1870.5 695.1L1875 695L1880.1 695L1885.4 695L1890.8 695.1L1896.7 695.2L1903.3 695.4L1910.2 695.6L1917 695.8L1923.3 696.1L1928.9 696.4L1933.8 696.8L1938.2 697.2L1942.1 697.6L1945.6 698.1L1948.7 698.7L1951.4 699.5L1953.7 700.3L1955.6 701.2L1957.2 702.2L1958.6 703.4L1960 704.7L1961.3 706.1L1962.5 707.7L1963.7 709.4L1964.7 711.3L1965.6 713.4L1966.4 715.6L1967 717.7L1967.5 719.8L1967.8 722L1968 724.3L1968 726.8L1968 729.3L1968 731.7L1967.9 734.2L1967.7 736.8L1967.4 739.4L1967 741.9L1966.7 744.3L1966.4 746.5L1966.1 748.6L1965.7 750.5L1965.4 752.3L1965 753.9L1964.8 755.2L1964.6 756.3L1964.6 757.8L1965.4 759.2L1966.8 759.9L1968.3 759.9L1969.7 759.1L1970.4 757.7L1970.7 756.8L1971.2 755.5L1971.7 753.8L1972.2 752L1972.7 750L1973.2 747.9L1973.7 745.6L1974.3 743.2L1974.8 740.5L1975.3 737.8L1975.7 735L1976 732.3L1976.2 729.6L1976.4 726.9L1976.5 724.2L1976.4 721.4L1976.2 718.5L1975.8 715.7L1975.2 713L1974.4 710.2L1973.4 707.5L1972.2 704.8L1970.7 702.3L1969.1 699.9L1967.3 697.8L1965.4 695.8L1963.2 694L1960.7 692.3L1957.9 690.8L1954.6 689.5L1951.1 688.5L1947.4 687.8L1943.4 687.2L1939.2 686.8L1934.7 686.4L1929.7 686L1923.9 685.5L1917.4 685.2L1910.6 684.8L1903.6 684.6L1897.1 684.3L1891.2 684.1L1885.7 683.9L1880.2 683.7L1875.2 683.6L1870.6 683.4L1866.9 683.3L1864.1 683.2L1861.1 684L1858.8 686.1L1858 689.1L1858.8 692.1L1860.9 694.4Z" fill="#f3ece7" stroke="#161d22" stroke-width="1.4" stroke-linejoin="round"/>
<path d="M1864 734.9L1866.9 734.9L1870.8 734.9L1875.4 734.9L1880.4 734.9L1885.6 735L1890.7 735.2L1896 735.5L1901.6 735.9L1907.5 736.4L1913.3 736.9L1918.9 737.4L1924.1 738L1928.8 738.4L1933.4 738.8L1937.5 739.3L1941.3 739.8L1944.5 740.4L1947.2 741.2L1949.5 742.1L1951.4 743L1953 744.1L1954.5 745.4L1955.9 746.8L1957.2 748.4L1958.4 750.1L1959.5 752.1L1960.4 754.2L1961.2 756.6L1961.9 759.1L1962.5 761.6L1963 764.1L1963.2 766.6L1963.3 769.2L1963.4 771.9L1963.3 774.8L1963.3 777.6L1963.2 780.5L1963 783.5L1962.8 786.5L1962.6 789.5L1962.3 792.6L1962 795.6L1961.7 798.7L1961.3 801.8L1961 804.9L1960.6 808L1960.2 811L1959.7 813.9L1959.1 816.8L1958.3 819.7L1957.6 822.7L1956.8 825.5L1956 828.1L1955.4 830.5L1954.8 832.6L1954.3 834.6L1953.7 836.4L1953.3 838L1952.9 839.3L1952.7 840.3L1952.6 841.4L1953.1 842.5L1954.1 843.1L1955.2 843.2L1956.3 842.7L1956.9 841.7L1957.3 840.8L1957.9 839.5L1958.5 838L1959.2 836.2L1959.9 834.2L1960.6 832.1L1961.4 829.7L1962.2 827.1L1963.1 824.2L1964 821.2L1964.8 818.2L1965.5 815.1L1966.2 812L1966.7 808.9L1967.2 805.7L1967.6 802.6L1968 799.5L1968.4 796.4L1968.8 793.3L1969.2 790.2L1969.5 787.1L1969.9 784L1970.1 781L1970.3 778L1970.5 775L1970.7 772.1L1970.8 769.2L1970.9 766.3L1970.7 763.3L1970.5 760.4L1970.1 757.5L1969.6 754.6L1969 751.6L1968.1 748.6L1967 745.7L1965.6 743L1963.9 740.5L1962.1 738.2L1960 736L1957.5 733.9L1954.6 732L1951.2 730.4L1947.4 729.2L1943.3 728.3L1939.1 727.6L1934.6 727.1L1930.1 726.6L1925.3 726L1920.1 725.5L1914.5 724.9L1908.5 724.4L1902.5 723.9L1896.7 723.5L1891.3 723.2L1886 723L1880.6 722.9L1875.4 722.9L1870.7 722.9L1866.8 722.9L1864 722.9L1861 723.7L1858.8 725.9L1858 728.9L1858.8 731.9L1861 734.1Z" fill="#f3ece7" stroke="#161d22" stroke-width="1.4" stroke-linejoin="round"/>
<path d="M1860.7 769L1862.9 769L1865.9 768.9L1869.3 768.9L1873 768.8L1876.7 768.9L1880 769L1883.1 769.3L1886.2 769.7L1889.3 770.2L1892.6 770.7L1895.9 771.3L1899.2 771.9L1902.9 772.7L1906.9 773.5L1911 774.4L1914.8 775.3L1918.1 776L1920.5 776.5L1923.4 776.4L1925.9 774.8L1927.3 772.1L1927.2 769.2L1925.6 766.7L1922.9 765.3L1920.6 764.8L1917.4 764L1913.5 763.2L1909.3 762.3L1905.2 761.4L1901.4 760.7L1897.9 760L1894.5 759.4L1891.2 758.8L1887.8 758.3L1884.3 757.9L1880.8 757.6L1877 757.4L1873.1 757.3L1869.2 757.4L1865.6 757.4L1862.6 757.5L1860.5 757.6L1857.6 758.4L1855.6 760.5L1854.9 763.4L1855.7 766.3L1857.8 768.3Z" fill="#f3ece7" stroke="#161d22" stroke-width="1.4" stroke-linejoin="round"/>
<path d="M1934.3 775.5L1935.3 775.8L1936.6 776.2L1938 776.6L1939.4 777.1L1940.6 777.7L1941.7 778.3L1942.8 779L1943.9 779.8L1944.9 780.6L1945.8 781.5L1946.7 782.6L1947.6 784L1948.5 785.8L1949.4 788L1950.3 790.5L1951.2 793L1951.9 795.7L1952.4 798.2L1952.8 800.8L1953 803.4L1953.2 806.2L1953.2 808.9L1953.1 811.6L1953 814.3L1952.8 816.8L1952.4 819.5L1952 822.1L1951.5 824.7L1951 827.1L1950.6 829.3L1950.3 831.1L1950 832.8L1949.8 834.3L1949.6 835.6L1949.4 836.7L1949.3 837.5L1949.3 838.7L1950 839.6L1951 840.2L1952.2 840.2L1953.1 839.5L1953.7 838.5L1954 837.7L1954.3 836.7L1954.7 835.4L1955.1 833.9L1955.5 832.2L1956 830.3L1956.5 828.3L1957 825.9L1957.6 823.2L1958.2 820.5L1958.7 817.6L1959 814.7L1959.2 811.9L1959.3 809L1959.3 806L1959.2 803.1L1958.9 800.1L1958.6 797.2L1958.1 794.3L1957.4 791.4L1956.6 788.5L1955.8 785.7L1954.8 783.1L1953.8 780.8L1952.7 778.7L1951.5 776.9L1950.2 775.4L1948.9 774L1947.6 772.9L1946.3 771.7L1944.7 770.6L1942.9 769.6L1941.2 768.8L1939.7 768.1L1938.5 767.5L1937.7 767.1L1935.4 766.8L1933.2 767.7L1931.8 769.6L1931.5 771.9L1932.4 774.1Z" fill="#f3ece7" stroke="#161d22" stroke-width="1.4" stroke-linejoin="round"/>
<path d="M1856.6 792.2L1858.8 793.3L1861.9 794.7L1865.6 796.5L1869.7 798.4L1874 800.3L1878.1 802.2L1882.3 803.9L1886.7 805.7L1891.1 807.4L1895.5 809.1L1899.8 810.9L1904 812.8L1908.2 814.8L1912.5 816.8L1916.6 818.9L1920.6 821.1L1924.2 823.3L1927.5 825.6L1930.5 828L1933.5 830.7L1936.2 833.6L1938.7 836.5L1941.1 839.4L1943.1 842.1L1944.8 844.6L1946.2 847.2L1947.4 849.8L1948.5 852.4L1949.4 854.8L1950.3 856.9L1950.9 858.5L1951.3 859.9L1951.5 861.1L1951.7 862.2L1951.9 863.3L1952.1 864.1L1952.4 865.2L1953.3 866L1954.4 866.2L1955.5 865.9L1956.3 865L1956.5 863.9L1956.7 863.2L1956.9 862.2L1957 860.9L1957 859.2L1956.9 857.3L1956.5 855.1L1956.1 852.8L1955.5 850.2L1954.7 847.2L1953.7 844L1952.4 840.6L1950.7 837.3L1948.7 834L1946.4 830.6L1943.9 827.1L1941 823.6L1937.8 820.2L1934.3 817L1930.4 814.1L1926.3 811.5L1921.9 809L1917.5 806.7L1913.2 804.5L1908.8 802.4L1904.4 800.4L1899.8 798.5L1895.3 796.7L1890.9 794.9L1886.6 793.3L1882.7 791.6L1878.7 789.8L1874.5 788L1870.5 786.1L1866.8 784.3L1863.7 782.9L1861.4 781.8L1858.5 781.3L1855.7 782.3L1853.8 784.6L1853.3 787.5L1854.3 790.3Z" fill="#f3ece7" stroke="#161d22" stroke-width="1.4" stroke-linejoin="round"/>
<path d="M1854.7 824.1L1856.3 825.4L1858.5 827.2L1861.2 829.4L1864.1 831.8L1867.2 834.2L1870.2 836.4L1873.2 838.5L1876.3 840.6L1879.5 842.6L1882.7 844.5L1885.7 846.5L1888.5 848.4L1891.3 850.4L1894.1 852.5L1896.9 854.6L1899.5 856.6L1901.9 858.5L1904 860.2L1905.7 861.5L1907.2 862.7L1908.6 863.8L1909.7 864.8L1910.6 865.5L1911.4 866.1L1912.8 866.9L1914.3 866.9L1915.6 866.1L1916.4 864.7L1916.4 863.2L1915.6 861.9L1915 861.1L1914.3 860.2L1913.3 859L1912 857.6L1910.6 856.1L1908.8 854.4L1906.8 852.6L1904.5 850.6L1901.9 848.4L1899.2 846.1L1896.3 843.8L1893.5 841.6L1890.5 839.4L1887.4 837.3L1884.3 835.2L1881.2 833.2L1878.2 831.1L1875.4 829.2L1872.6 827.1L1869.7 824.8L1866.9 822.4L1864.2 820.3L1862 818.4L1860.3 817.1L1858.2 816.2L1855.9 816.4L1854 817.8L1853.1 819.9L1853.3 822.2Z" fill="#f3ece7" stroke="#161d22" stroke-width="1.4" stroke-linejoin="round"/>
<path d="M1805.7 487.5L1804.1 488.4L1801.9 489.7L1799.1 491.1L1796.2 492.7L1793.3 494.5L1790.7 496.3L1788.4 498L1786.2 499.8L1784.2 501.6L1782.4 503.5L1780.7 505.4L1779.2 507.4L1777.9 509.4L1776.8 511.5L1775.9 513.4L1775.2 515.3L1774.5 517L1773.8 518.7L1773 520.6L1772.1 522.8L1771.3 524.9L1770.5 526.9L1769.8 528.6L1769.4 529.8L1769.1 531.4L1769.6 532.8L1770.8 533.8L1772.4 534.1L1773.8 533.6L1774.8 532.4L1775.5 531.2L1776.4 529.6L1777.4 527.8L1778.5 525.7L1779.6 523.7L1780.6 521.9L1781.5 520L1782.3 518.2L1783 516.5L1783.8 515L1784.6 513.6L1785.6 512.2L1786.9 510.7L1788.3 509.2L1789.9 507.6L1791.6 506.1L1793.4 504.7L1795.3 503.5L1797.5 502.5L1800.3 501.5L1803.2 500.5L1806 499.7L1808.5 499L1810.3 498.5L1812.8 496.6L1814 493.7L1813.5 490.7L1811.6 488.2L1808.7 487Z" fill="#f3ece7" stroke="#161d22" stroke-width="1.4" stroke-linejoin="round"/>
<path d="M1807.2 505.3L1805.3 505.8L1802.5 506.4L1799.1 507L1795.4 507.8L1791.7 508.9L1788.3 510.2L1785.3 511.7L1782.8 513.4L1780.5 515.3L1778.4 517.2L1776.5 519.2L1774.5 521.2L1772.5 523.3L1770.5 525.7L1768.4 528.1L1766.5 530.7L1764.7 533.2L1763.1 535.7L1761.8 538.4L1760.8 541L1760 543.5L1759.4 545.8L1758.7 547.7L1758.1 549.4L1757.3 551L1756.4 552.6L1755.5 554.1L1754.6 555.5L1753.8 556.8L1753.2 557.7L1752.6 559.4L1752.9 561.2L1754.1 562.6L1755.8 563.2L1757.5 562.9L1758.9 561.7L1759.6 560.9L1760.5 559.8L1761.6 558.4L1762.9 556.8L1764.1 554.9L1765.3 552.9L1766.3 550.7L1767.2 548.5L1768.1 546.3L1768.9 544.1L1769.8 542.2L1770.9 540.3L1772.2 538.2L1773.8 536L1775.5 533.7L1777.3 531.5L1779.2 529.4L1781.1 527.4L1782.9 525.5L1784.7 523.7L1786.4 522.1L1788.1 520.7L1789.9 519.5L1791.7 518.6L1794.1 518L1797.1 517.7L1800.4 517.4L1803.7 517.3L1806.6 517.3L1808.8 517.3L1811.6 516.1L1813.5 513.6L1814 510.5L1812.8 507.7L1810.3 505.8Z" fill="#f3ece7" stroke="#161d22" stroke-width="1.4" stroke-linejoin="round"/>
<path d="M1807.5 533.4L1805.3 533.7L1802.1 534L1798.2 534.4L1793.9 534.9L1789.6 535.6L1785.6 536.6L1782 537.7L1778.6 538.9L1775.3 540.3L1772.1 541.9L1768.9 543.7L1765.7 545.7L1762.4 547.9L1759.1 550.4L1755.8 553L1752.6 555.7L1749.6 558.3L1746.8 560.9L1744.2 563.4L1741.6 565.9L1739.2 568.4L1736.9 571L1734.7 573.7L1732.6 576.6L1730.8 579.7L1729.1 582.9L1727.7 586.1L1726.5 589.1L1725.4 591.8L1724.3 594.1L1723.2 596.1L1722.1 598L1721.1 599.7L1720.1 601.3L1719.3 602.6L1718.7 603.6L1718.1 605.4L1718.4 607.1L1719.6 608.5L1721.3 609.1L1723.1 608.8L1724.5 607.6L1725.2 606.7L1726.1 605.5L1727.3 603.9L1728.6 602.2L1729.9 600.2L1731.3 597.9L1732.8 595.4L1734.2 592.7L1735.7 589.8L1737.1 587L1738.7 584.4L1740.4 582L1742.2 579.8L1744.2 577.6L1746.4 575.4L1748.7 573.2L1751.2 571L1753.8 568.7L1756.6 566.3L1759.5 563.8L1762.5 561.3L1765.6 559L1768.6 556.8L1771.5 554.9L1774.4 553.2L1777.2 551.7L1779.9 550.3L1782.7 549.1L1785.5 548.1L1788.4 547.2L1791.5 546.7L1795.2 546.3L1799.1 546.1L1802.8 546L1806.1 545.9L1808.5 545.8L1811.5 544.8L1813.6 542.3L1814.2 539.1L1813.2 536.1L1810.7 534Z" fill="#f3ece7" stroke="#161d22" stroke-width="1.4" stroke-linejoin="round"/>
<path d="M1805.7 564.1L1803.5 565.1L1800.4 566.4L1796.7 567.9L1792.8 569.5L1788.8 571L1785.2 572.3L1781.8 573.4L1778.4 574.3L1774.8 575.3L1771.2 576.3L1767.6 577.3L1763.9 578.4L1760.2 579.6L1756.5 580.8L1752.7 582.1L1749 583.5L1745.4 584.9L1741.9 586.3L1738.7 587.8L1735.6 589.3L1732.6 590.9L1729.7 592.6L1726.9 594.3L1724.1 596.3L1721.6 598.4L1719.2 600.8L1717 603.1L1714.9 605.5L1713.1 607.9L1711.4 610.3L1710 612.5L1708.6 614.7L1707.5 617L1706.5 619.4L1705.7 621.9L1705.3 624.7L1705.2 627.8L1705.5 631.1L1706 634.3L1706.6 637.3L1707.1 639.7L1707.4 641.4L1708.1 642.9L1709.5 643.9L1711.2 644.1L1712.7 643.4L1713.7 642.1L1713.9 640.4L1713.7 638.6L1713.3 636.1L1712.9 633.3L1712.6 630.4L1712.5 627.8L1712.7 625.7L1713.2 624L1713.9 622.4L1714.8 620.8L1715.9 619.2L1717.1 617.5L1718.6 615.7L1720.2 613.9L1722.1 612L1724.1 610.2L1726.2 608.4L1728.4 606.7L1730.7 605.1L1732.9 603.6L1735.3 602.2L1737.9 600.8L1740.6 599.5L1743.5 598.2L1746.5 596.9L1749.6 595.6L1753 594.3L1756.5 593L1760.1 591.7L1763.8 590.5L1767.3 589.4L1770.8 588.3L1774.3 587.3L1777.8 586.4L1781.4 585.4L1785.1 584.4L1788.8 583.3L1792.7 582.1L1796.8 580.7L1801 579.4L1804.8 578.1L1807.9 577L1810.3 576.3L1813 574.4L1814.4 571.3L1814.1 567.9L1812.2 565.2L1809.1 563.8Z" fill="#f3ece7" stroke="#161d22" stroke-width="1.4" stroke-linejoin="round"/>
<path d="M1807.2 591.3L1804.9 591.6L1801.8 592.1L1798 592.6L1793.9 593.3L1789.7 594L1785.8 594.8L1782.1 595.7L1778.5 596.6L1774.9 597.6L1771.2 598.7L1767.5 599.9L1763.7 601.1L1759.7 602.4L1755.5 603.9L1751.2 605.4L1746.8 607L1742.5 608.7L1738.4 610.6L1734.6 612.5L1730.9 614.6L1727.3 616.7L1723.9 619L1720.6 621.3L1717.5 623.9L1714.8 626.6L1712.4 629.5L1710.2 632.4L1708.3 635.4L1706.6 638.2L1705 641L1703.5 643.7L1702.1 646.5L1700.8 649.3L1699.7 652.1L1698.8 655L1698.1 657.8L1697.6 660.8L1697.4 663.7L1697.5 666.4L1697.5 669L1697.6 671.3L1697.5 673.4L1697.2 675.7L1696.8 678.2L1696.4 680.6L1696 682.9L1695.6 684.8L1695.4 686.3L1695.5 687.8L1696.3 689.1L1697.6 689.8L1699.1 689.7L1700.4 688.9L1701.1 687.6L1701.5 686.2L1702.1 684.3L1702.7 682L1703.3 679.5L1703.9 676.9L1704.4 674.3L1704.7 671.7L1704.9 669L1705 666.5L1705.1 664.1L1705.4 661.9L1705.9 659.8L1706.7 657.6L1707.6 655.3L1708.8 653L1710 650.7L1711.5 648.4L1713 646L1714.8 643.6L1716.6 641.2L1718.5 638.9L1720.6 636.6L1722.7 634.5L1725.1 632.5L1727.6 630.6L1730.4 628.6L1733.4 626.7L1736.7 624.9L1740.1 623.1L1743.6 621.4L1747.2 619.8L1751.1 618.2L1755.2 616.7L1759.4 615.2L1763.5 613.8L1767.5 612.5L1771.2 611.3L1774.7 610.2L1778.2 609.1L1781.6 608.2L1784.9 607.3L1788.2 606.6L1791.8 606L1795.7 605.5L1799.6 605L1803.3 604.7L1806.5 604.4L1808.8 604.1L1811.9 602.9L1814 600.2L1814.4 596.9L1813.2 593.8L1810.5 591.7Z" fill="#f3ece7" stroke="#161d22" stroke-width="1.4" stroke-linejoin="round"/>
<path d="M1806.2 622L1803.9 622.7L1800.8 623.7L1797.1 624.9L1793.1 626.1L1789.1 627.4L1785.3 628.5L1781.9 629.5L1778.4 630.5L1774.9 631.5L1771.3 632.5L1767.6 633.6L1763.8 634.8L1759.9 636L1755.7 637.3L1751.4 638.7L1747.1 640.1L1742.8 641.7L1738.7 643.4L1734.7 645.2L1730.8 647.1L1727 649.1L1723.3 651.2L1719.8 653.3L1716.5 655.6L1713.4 658L1710.5 660.4L1707.7 663L1705.1 665.6L1702.8 668.3L1700.7 671.1L1698.9 674L1697.4 676.9L1696.1 679.9L1695.1 682.9L1694.3 685.8L1693.8 688.8L1693.5 691.8L1693.7 694.8L1694.1 697.6L1694.6 700.1L1695 702.3L1695.1 704.3L1695.2 706.5L1695.2 708.8L1695.1 711.1L1695 713.3L1695 715.1L1695 716.5L1695.2 717.8L1696.1 718.9L1697.4 719.4L1698.7 719.2L1699.8 718.3L1700.3 717L1700.6 715.7L1700.9 713.9L1701.3 711.7L1701.6 709.3L1701.9 706.8L1702.1 704.2L1702 701.5L1701.7 698.9L1701.3 696.5L1701 694.2L1701 692L1701.2 690L1701.9 687.9L1702.8 685.6L1703.9 683.4L1705.1 681.1L1706.6 679L1708.3 676.9L1710.2 674.9L1712.3 672.8L1714.7 670.8L1717.3 668.8L1720.1 666.9L1722.9 665L1725.9 663.1L1729.1 661.3L1732.5 659.5L1736.1 657.7L1739.7 656L1743.3 654.4L1747.1 652.9L1751.1 651.5L1755.2 650.1L1759.3 648.7L1763.4 647.5L1767.4 646.2L1771.1 645.1L1774.7 644L1778.2 643L1781.6 642.1L1785.1 641.1L1788.7 640.1L1792.5 639L1796.5 638L1800.6 636.9L1804.3 635.9L1807.5 635L1809.8 634.4L1812.7 632.7L1814.3 629.8L1814.2 626.4L1812.5 623.5L1809.6 621.9Z" fill="#f3ece7" stroke="#161d22" stroke-width="1.4" stroke-linejoin="round"/>
<path d="M1806.9 651.7L1804.6 652.4L1801.4 653.3L1797.6 654.3L1793.5 655.4L1789.3 656.5L1785.6 657.6L1782.1 658.4L1778.6 659.2L1775.1 660L1771.5 660.9L1767.8 661.9L1763.9 662.9L1759.9 664.2L1755.7 665.5L1751.4 666.9L1747.1 668.3L1742.9 669.9L1738.8 671.4L1734.9 673L1731 674.7L1727.2 676.5L1723.5 678.3L1720 680.1L1716.7 682.1L1713.8 684.2L1711.1 686.3L1708.6 688.4L1706.3 690.7L1704.2 693L1702.3 695.5L1700.6 698.1L1699 700.8L1697.7 703.6L1696.6 706.4L1695.7 709.2L1694.9 711.9L1694.2 714.5L1693.6 717.2L1693.2 719.9L1693 722.8L1693.1 725.7L1693.6 728.8L1694.7 732.1L1696.4 735.5L1698.2 738.8L1700 741.8L1701.6 744.3L1702.7 746.1L1703.7 747.2L1705.2 747.6L1706.6 747.2L1707.7 746.2L1708.2 744.7L1707.8 743.3L1706.8 741.3L1705.4 738.7L1703.8 735.7L1702.3 732.6L1701.1 729.7L1700.4 727.2L1700.1 725.1L1700.1 723L1700.4 720.8L1700.8 718.6L1701.4 716.4L1702.1 714.1L1703 711.9L1704.1 709.6L1705.3 707.5L1706.6 705.3L1708.1 703.3L1709.7 701.5L1711.4 699.7L1713.3 698.1L1715.4 696.5L1717.6 695L1720 693.4L1722.7 691.9L1725.6 690.3L1728.7 688.7L1732.1 687.1L1735.7 685.6L1739.4 684.1L1743.2 682.6L1747 681.1L1751.1 679.7L1755.2 678.2L1759.3 676.9L1763.4 675.6L1767.3 674.5L1770.9 673.4L1774.4 672.5L1777.9 671.7L1781.3 670.9L1784.8 670.1L1788.4 669.2L1792.3 668.3L1796.5 667.4L1800.6 666.4L1804.5 665.5L1807.7 664.8L1810.1 664.3L1813 662.7L1814.8 659.8L1814.8 656.4L1813.2 653.5L1810.3 651.7Z" fill="#f3ece7" stroke="#161d22" stroke-width="1.4" stroke-linejoin="round"/>
<path d="M1807.5 686.7L1805.1 687.3L1801.8 688.2L1797.9 689.2L1793.7 690.3L1789.4 691.4L1785.5 692.5L1781.8 693.5L1778.2 694.5L1774.6 695.5L1771 696.6L1767.5 697.6L1764 698.6L1760.4 699.6L1756.8 700.6L1753 701.6L1749.3 702.6L1745.6 703.7L1742.1 705L1738.8 706.3L1735.8 707.7L1732.8 709.1L1729.9 710.7L1727 712.4L1724.2 714.2L1721.4 716.4L1718.8 718.7L1716.2 721.2L1713.7 723.7L1711.3 726.3L1709.2 729L1707.3 731.7L1705.6 734.5L1704.1 737.4L1702.8 740.3L1701.6 743.1L1700.7 745.9L1699.8 748.6L1699.1 751.3L1698.6 753.9L1698.3 756.6L1698.1 759.2L1698 761.9L1698.1 764.8L1698.4 767.7L1698.8 770.5L1699.2 773.2L1699.6 775.8L1699.9 778.1L1700.1 780.5L1700.4 782.9L1700.6 785.3L1700.8 787.5L1701 789.4L1701.1 790.7L1701.5 791.9L1702.4 792.8L1703.6 793.1L1704.8 792.7L1705.6 791.8L1705.9 790.6L1706 789.2L1706.1 787.4L1706.2 785.2L1706.3 782.7L1706.3 780.2L1706.3 777.6L1706.1 775L1705.8 772.3L1705.4 769.6L1705.2 767L1705 764.5L1705 762.1L1705.2 759.7L1705.4 757.4L1705.8 755.2L1706.3 753L1706.9 750.8L1707.7 748.5L1708.8 746.2L1710.1 743.9L1711.5 741.6L1713.1 739.3L1714.8 737.1L1716.6 735L1718.6 733L1720.8 731L1723.1 729L1725.6 727.1L1728.1 725.3L1730.6 723.8L1733 722.2L1735.5 720.9L1738 719.6L1740.6 718.5L1743.4 717.3L1746.3 716.2L1749.4 715.1L1752.7 714.1L1756.2 713.1L1759.8 712.2L1763.5 711.2L1767.2 710.2L1770.8 709.1L1774.4 708.1L1777.9 707.1L1781.5 706L1785 705.1L1788.5 704.1L1792.4 703.2L1796.6 702.3L1800.8 701.4L1804.7 700.5L1808.1 699.8L1810.5 699.3L1813.5 697.7L1815.2 694.9L1815.3 691.5L1813.7 688.5L1810.9 686.8Z" fill="#f3ece7" stroke="#161d22" stroke-width="1.4" stroke-linejoin="round"/>
<path d="M1807.7 719.7L1805.2 720.7L1801.8 722.1L1797.7 723.7L1793.3 725.4L1789 727.1L1785 728.5L1781.4 729.8L1778 730.9L1774.5 732.1L1771.1 733.2L1767.7 734.2L1764.1 735.2L1760.2 736.2L1756 737.1L1751.8 738.1L1747.5 739L1743.4 739.8L1739.7 740.6L1736.5 741.4L1733.5 742L1730.6 742.7L1727.8 743.3L1725.1 744.1L1722.3 745.1L1719.8 746.2L1717.3 747.4L1714.9 748.8L1712.6 750.3L1710.5 752L1708.5 754L1706.7 756.2L1705.3 758.5L1704.1 760.9L1703.1 763.4L1702.3 765.8L1701.6 768.3L1700.9 770.7L1700.4 773.2L1700 775.9L1699.8 778.6L1699.7 781.3L1699.8 784.2L1700.2 787.3L1700.9 790.4L1701.7 793.4L1702.5 796.3L1703.2 799L1703.6 801.4L1703.9 803.7L1703.9 806.2L1703.9 808.6L1703.8 810.9L1703.8 812.9L1703.8 814.3L1704 815.7L1705 816.8L1706.3 817.2L1707.7 817L1708.8 816L1709.2 814.7L1709.4 813.3L1709.6 811.4L1709.9 809L1710.1 806.3L1710.2 803.5L1710.1 800.6L1709.7 797.7L1709 794.7L1708.2 791.7L1707.5 788.8L1707 786.2L1706.8 783.8L1706.9 781.5L1707.1 779.2L1707.4 777L1707.9 774.9L1708.5 772.8L1709.2 770.7L1710.1 768.8L1711 766.9L1712 765.1L1713.1 763.5L1714.3 762.2L1715.5 761L1716.9 760L1718.4 759.1L1720.1 758.2L1722 757.4L1724.1 756.6L1726.3 755.9L1728.4 755.2L1730.6 754.7L1733.1 754.2L1735.9 753.6L1738.9 753L1742.3 752.4L1745.9 751.5L1750 750.7L1754.3 749.8L1758.7 748.8L1763 747.8L1767.1 746.8L1771 745.7L1774.7 744.6L1778.3 743.5L1781.8 742.3L1785.3 741.1L1789 739.9L1793 738.5L1797.5 737L1802 735.4L1806.2 734L1809.7 732.7L1812.3 731.9L1815 730L1816.4 726.9L1816.1 723.5L1814.2 720.8L1811.1 719.4Z" fill="#f3ece7" stroke="#161d22" stroke-width="1.4" stroke-linejoin="round"/>
<path d="M1808.3 750.5L1805.8 751.7L1802.4 753.3L1798.3 755.3L1793.9 757.4L1789.3 759.5L1784.7 761.5L1780 763.4L1774.8 765.4L1769.5 767.5L1764.2 769.5L1759.2 771.3L1754.6 772.9L1750.5 774L1746.6 775L1742.8 775.7L1739.1 776.5L1735.4 777.3L1731.8 778.2L1728.6 779.4L1725.6 780.4L1722.8 781.6L1720.1 782.9L1717.5 784.3L1715 786L1712.8 787.9L1710.9 790L1709.2 792.2L1707.7 794.4L1706.5 796.7L1705.4 799.1L1704.5 801.5L1703.8 804L1703.3 806.6L1703 809.2L1702.8 811.8L1702.8 814.4L1702.8 817.1L1703 819.8L1703.4 822.6L1703.9 825.3L1704.5 828L1705.2 830.7L1706 833.4L1706.9 836.1L1707.9 838.8L1709 841.5L1710.2 844.1L1711.6 846.6L1713.3 849L1715.2 851.4L1717.1 853.5L1718.9 855.5L1720.5 857L1721.6 858.1L1722.6 858.8L1723.9 858.9L1725 858.4L1725.7 857.4L1725.8 856.1L1725.3 855L1724.4 853.7L1723 851.9L1721.5 849.9L1719.9 847.7L1718.4 845.5L1717.2 843.4L1716.2 841.2L1715.2 838.9L1714.2 836.4L1713.4 833.9L1712.6 831.4L1712 828.9L1711.4 826.5L1711 824L1710.6 821.5L1710.3 819.1L1710.2 816.8L1710.2 814.6L1710.5 812.4L1710.9 810.3L1711.4 808.3L1712 806.4L1712.7 804.6L1713.6 802.9L1714.6 801.4L1715.7 799.9L1717 798.5L1718.3 797.2L1719.8 796L1721.4 795L1723.1 794L1725 793.1L1727.1 792.3L1729.6 791.4L1732.3 790.6L1735.2 789.8L1738.2 788.9L1741.5 788.2L1745.2 787.5L1749.2 786.7L1753.6 785.7L1758.2 784.3L1763.1 782.7L1768.4 780.8L1773.8 778.7L1779.2 776.6L1784.4 774.5L1789.3 772.5L1794 770.6L1798.9 768.6L1803.5 766.7L1807.6 764.9L1811.1 763.4L1813.7 762.3L1816.3 760.2L1817.5 757.1L1816.9 753.7L1814.8 751.1L1811.7 749.9Z" fill="#f3ece7" stroke="#161d22" stroke-width="1.4" stroke-linejoin="round"/>
<path d="M1813 786.5L1809.9 787.7L1805.7 789.5L1800.6 791.5L1795.2 793.7L1789.8 796L1784.9 798.2L1780.3 800.2L1775.8 802.3L1771.3 804.4L1766.8 806.7L1762.5 809L1758.2 811.6L1754.1 814.3L1750.1 817.2L1746.3 820.3L1742.6 823.3L1739.3 826.3L1736.2 829.2L1733.4 832.1L1730.9 834.9L1728.7 837.8L1726.7 840.5L1724.9 843.2L1723.4 845.8L1722.1 848.4L1721.2 851L1720.6 853.5L1720.1 855.6L1719.9 857.5L1719.6 859.2L1719.4 860.8L1719.3 862.3L1719.3 863.5L1719.4 864.5L1719.5 865.3L1719.6 865.8L1719.8 866.8L1720.4 867.6L1721.4 868L1722.4 867.8L1723.2 867.2L1723.6 866.2L1723.8 865.6L1724 864.8L1724.3 864L1724.5 863.1L1724.9 862L1725.4 860.8L1726 859.2L1726.7 857.5L1727.5 855.7L1728.3 853.9L1729.4 852.1L1730.6 850.2L1732.1 848.1L1733.9 845.9L1735.8 843.6L1738 841.3L1740.4 838.9L1743 836.4L1746 833.8L1749.2 831.1L1752.7 828.3L1756.3 825.5L1760 822.9L1763.8 820.4L1767.6 818.2L1771.7 816L1775.9 813.9L1780.2 811.8L1784.7 809.8L1789.1 807.8L1793.9 805.7L1799.2 803.6L1804.6 801.5L1809.7 799.5L1813.9 797.9L1817 796.7L1819.3 795L1820.4 792.4L1820.1 789.6L1818.4 787.3L1815.8 786.2Z" fill="#f3ece7" stroke="#161d22" stroke-width="1.4" stroke-linejoin="round"/>
<path d="M1815.6 818.5L1813.9 819.6L1811.5 821.2L1808.7 823.1L1805.6 825.2L1802.5 827.3L1799.7 829.4L1797 831.4L1794.4 833.5L1791.9 835.6L1789.4 837.7L1786.9 839.7L1784.4 841.6L1781.9 843.5L1779.4 845.4L1776.8 847.3L1774.2 849.1L1771.8 850.8L1769.5 852.4L1767.3 853.9L1765.2 855.4L1763 856.8L1761.1 858.1L1759.5 859.2L1758.3 860L1757.2 861.2L1756.8 862.8L1757.2 864.5L1758.4 865.6L1760 866L1761.7 865.6L1762.9 865L1764.7 864.1L1766.7 863L1769 861.8L1771.5 860.5L1773.9 859L1776.3 857.5L1778.8 855.8L1781.5 854.1L1784.2 852.2L1786.9 850.3L1789.6 848.4L1792.2 846.4L1794.7 844.3L1797.3 842.2L1799.8 840.1L1802.3 838.1L1804.7 836.2L1807.4 834.3L1810.4 832.2L1813.4 830.2L1816.2 828.3L1818.6 826.7L1820.4 825.5L1821.8 823.9L1822.2 821.7L1821.5 819.6L1819.9 818.2L1817.7 817.8Z" fill="#f3ece7" stroke="#161d22" stroke-width="1.4" stroke-linejoin="round"/>
<path d="M607.4 999C608.9 998.9 611 998.5 612.3 997.6C613.6 996.6 615.3 994.8 616 992.9C616.6 991 616.8 987.5 616.9 985.1C617 982.8 616.5 979.8 616.8 977.5C617.2 975.1 618.1 970.7 619.3 969.6C620.4 968.5 623.2 969.2 624.3 970.3C625.5 971.4 626 975.5 626.8 976.7C627.6 978 627.4 979.3 630 978.7C632.5 978.1 640.4 974.2 643.6 972.7C646.8 971.3 649.5 968.9 651.3 968.9C653.1 968.8 654.8 971.1 655.6 972.4C656.3 973.8 656.8 976.4 656.5 977.8C656.1 979.3 654.7 980.7 653.3 981.9C651.8 983.2 649.7 984.3 646.6 986.3C643.4 988.2 634.8 993 632.2 995C629.5 997 629.5 997.9 629 999.6C628.5 1001.3 629.1 1003.9 629 1006.2C628.8 1008.5 628.7 1012.7 628.1 1015.1C627.5 1017.4 626.2 1020.5 625.1 1021.9C624 1023.3 621.9 1024.8 620.8 1024.4C619.6 1024 618.2 1020.4 617.4 1019.2C616.6 1017.9 615.9 1015.5 615.6 1016C615.4 1016.5 615.9 1020.8 615.6 1022.6C615.3 1024.4 614.4 1027.1 613.5 1028.2C612.6 1029.4 610.9 1030.1 609.7 1030.2C608.5 1030.3 606.6 1029.8 605.6 1028.8C604.5 1027.8 603.2 1025.3 602.7 1023.5C602.1 1021.8 602 1017.5 601.7 1017C601.4 1016.6 601 1019 600.4 1020.4C599.9 1021.8 598.9 1025.5 597.8 1026.1C596.8 1026.7 594.5 1025.5 593.2 1024.2C591.9 1023 590.1 1020.2 589.2 1017.9C588.3 1015.7 587.5 1011.6 587.1 1009.3C586.6 1007 586.8 1004.4 586.1 1002.8C585.4 1001.2 585.2 1000.3 582.3 998.7C579.4 997.1 570.2 993.6 566.8 992.1C563.4 990.6 561.2 989.8 559.5 988.8C557.9 987.8 556.3 986.6 555.7 985.2C555.2 983.9 555.3 981.2 555.8 979.7C556.4 978.3 557.8 975.8 559.5 975.6C561.3 975.4 564.4 977.3 567.8 978.3C571.1 979.3 579.5 982 582.1 982.2C584.7 982.4 584.3 981.2 584.9 979.8C585.6 978.4 585.5 974.3 586.4 973.1C587.4 971.9 590.1 970.7 591.3 971.6C592.6 972.5 594.2 976.8 594.9 979.1C595.6 981.3 595.5 984.4 595.9 986.7C596.4 988.9 597.1 992.5 598 994.2C599 996 600.9 997.6 602.3 998.3C603.7 999 605.9 999.1 607.4 999Z" fill="#f3ece7" stroke="#161d22" stroke-width="1.5" stroke-linejoin="round"/>
<path d="M603.9 1005.9C603.8 1007.5 603.3 1012.9 603.6 1015.8C603.9 1018.7 604.7 1021.7 605.7 1023.3C606.6 1024.9 608.1 1025.3 609.3 1025.3C610.5 1025.2 611.9 1024.5 612.6 1022.8C613.3 1021.1 613.7 1018 613.6 1015C613.4 1012.1 612.1 1006.9 611.9 1005.3" fill="none" stroke="#161d22" stroke-width="1.2" stroke-linecap="round"/>
<path d="M605.7 951.9C607.2 951.8 609.4 951.4 610.7 950.5C612 949.7 613.7 948 614.4 946.3C615.1 944.6 615.3 941.4 615.4 939.3C615.6 937.2 615.1 934.5 615.4 932.3C615.8 930.2 616.8 926.2 618 925.2C619.1 924.2 621.9 924.9 623 925.9C624.1 926.8 624.6 930.5 625.4 931.7C626.2 932.8 625 934.1 628.5 933.4C632.1 932.8 644.9 929 649.2 927.6C653.5 926.2 655.2 924.1 657 924C658.8 924 660.4 926 661.2 927.2C662 928.5 662.4 930.9 662 932.1C661.7 933.4 660.3 934.7 658.8 935.8C657.3 937 656.3 937.9 652 939.8C647.8 941.6 634.3 946.3 630.5 948.2C626.8 950.1 627.8 950.9 627.3 952.4C626.8 953.9 627.4 956.3 627.2 958.4C627.1 960.5 626.9 964.2 626.3 966.4C625.7 968.5 624.3 971.3 623.2 972.5C622.1 973.8 620 975.2 618.8 974.8C617.7 974.5 616.3 971.2 615.5 970.1C614.7 968.9 614.1 966.8 613.8 967.2C613.5 967.7 614 971.5 613.7 973.2C613.4 974.8 612.5 977.3 611.6 978.3C610.6 979.3 608.9 980 607.7 980.1C606.5 980.1 604.6 979.7 603.6 978.8C602.5 977.9 601.3 975.7 600.7 974.1C600.2 972.5 600.2 968.6 599.8 968.2C599.5 967.7 599.1 970 598.5 971.2C597.9 972.5 597 975.9 595.9 976.4C594.8 976.9 592.5 975.8 591.3 974.7C590 973.6 588.3 971 587.4 969C586.5 967 585.8 963.3 585.3 961.2C584.9 959.2 585.1 956.8 584.4 955.3C583.7 953.9 584.6 953 580.7 951.6C576.7 950.2 562.7 947.4 558.2 946.2C553.8 944.9 552.7 944.1 551 943.2C549.4 942.3 547.8 941.2 547.3 940C546.8 938.7 546.9 936.3 547.5 935C548 933.7 549.4 931.5 551.2 931.3C553 931.1 555 932.9 559.4 933.7C563.8 934.5 577 936.6 580.7 936.7C584.3 936.8 582.8 935.8 583.5 934.5C584.2 933.3 584.1 929.6 585.1 928.5C586.1 927.3 588.8 926.3 590 927.1C591.3 927.9 592.8 931.8 593.5 933.8C594.2 935.9 594 938.7 594.5 940.7C594.9 942.8 595.5 946 596.4 947.5C597.4 949.1 599.3 950.6 600.7 951.2C602.1 951.9 604.2 952 605.7 951.9Z" fill="#f3ece7" stroke="#161d22" stroke-width="1.5" stroke-linejoin="round"/>
<path d="M602.2 958.1C602.1 959.6 601.5 964.4 601.8 967C602 969.7 602.8 972.4 603.7 973.9C604.7 975.3 606.2 975.7 607.4 975.6C608.5 975.5 610 974.9 610.7 973.4C611.4 971.8 611.8 969 611.7 966.4C611.6 963.7 610.4 959 610.1 957.5" fill="none" stroke="#161d22" stroke-width="1.2" stroke-linecap="round"/>
<path d="M601 904C602.8 903.8 605.5 903.3 606.9 902.5C608.3 901.7 609.8 899.9 610.5 898.4C611.3 896.9 611.4 894.1 612 892.5C612.6 890.9 613.5 888 614.5 887.5C615.6 887 618.2 887.9 619.2 889C620.2 890 620.4 893.4 621.2 894.5C622 895.6 621.9 896.7 624.4 896.1C626.9 895.5 634.7 891.9 637.9 890.6C641.1 889.2 643.8 887.1 645.6 887C647.4 886.9 649.1 888.8 649.9 889.9C650.7 891.1 651.2 893.4 650.8 894.6C650.5 895.9 649.1 897.1 647.7 898.2C646.2 899.4 644.2 900.4 641 902.2C637.9 904 629.3 908.4 626.7 910.2C624.1 912 624 913 623.5 914.3C623.1 915.6 623.6 917.3 623.5 919C623.3 920.8 623.2 924 622.6 925.8C622 927.6 620.7 929.7 619.6 930.8C618.5 931.9 616.4 933.5 615.3 933.1C614.1 932.8 612.6 929.8 611.8 928.7C611.1 927.6 610.4 925.5 610.1 926C609.7 926.5 610 930.2 609.6 931.8C609.2 933.4 608.4 935.8 607.5 936.7C606.7 937.6 605.2 937.9 604.2 938C603.1 938.1 601.6 938.1 600.6 937.4C599.6 936.6 598.3 934.4 597.7 932.9C597 931.4 596.5 927.7 596.1 927.3C595.7 926.9 595.5 929.1 594.9 930.3C594.3 931.5 593.4 934.7 592.4 935.3C591.3 935.8 589 934.7 587.7 933.8C586.4 932.9 584.7 931 583.8 929.4C582.9 927.8 582.1 924.6 581.7 922.9C581.2 921.3 581.4 919.5 580.7 918.3C580 917 579.8 916.1 576.9 914.8C574 913.5 564.8 910.8 561.3 909.6C557.9 908.4 555.7 907.8 554.1 906.9C552.4 906.1 550.8 905.1 550.3 903.9C549.7 902.8 549.8 900.4 550.3 899.2C550.9 897.9 552.2 895.7 554 895.5C555.8 895.3 558.9 896.8 562.2 897.6C565.6 898.4 574 900.4 576.6 900.6C579.1 900.7 578.8 899.6 579.4 898.4C580 897.2 579.6 893.8 580.4 892.6C581.1 891.4 583.5 890 584.7 890.3C585.8 890.6 587.2 893.2 588.1 894.7C589 896.2 589.6 898.9 590.6 900.2C591.6 901.5 593.4 903 594.9 903.6C596.5 904.2 599.2 904.2 601 904Z" fill="#f3ece7" stroke="#161d22" stroke-width="1.5" stroke-linejoin="round"/>
<path d="M591.3 896.3C591.2 898.4 590.5 905 590.9 908.7C591.2 912.5 592.4 916.7 593.4 919C594.3 921.3 596 922.9 596.7 922.5C597.4 922.1 597.2 916.4 597.7 916.7C598.1 917 598.4 922.5 599.4 924.1C600.3 925.8 601.9 926.8 603.1 926.7C604.3 926.5 605.7 925.3 606.3 923.5C606.9 921.7 606.2 916.2 606.6 915.9C607 915.5 607.9 921.1 608.6 921.4C609.4 921.6 610.7 919.8 611.3 917.3C611.8 914.9 612.2 910.6 611.8 906.8C611.5 903 609.6 896.7 609.2 894.7" fill="none" stroke="#161d22" stroke-width="1.2" stroke-linecap="round"/>
<path d="M592.1 859.8C594.1 859.5 597.2 859 598.9 857.8C600.5 856.6 601.5 852.8 603.1 852C604.6 851.1 607.7 851.1 609.2 852.2C610.6 853.2 611.6 857.7 612.7 859C613.7 860.2 615.8 860.8 616.4 860.5C617 860.2 615.8 857.8 616.9 856.8C618 855.8 622 853.8 623.5 853.8C625.1 853.8 626.4 855.7 627 856.9C627.6 858.2 628 860.8 627.7 862.1C627.4 863.3 626.3 864 625.1 865C623.9 866.1 620.5 867.5 619.6 868.9C618.7 870.4 619.9 873.1 619.4 874.7C618.9 876.3 616.9 877.8 616.5 879.3C616.1 880.7 616.9 882.7 616.7 884.5C616.5 886.2 616 889.3 615.1 890.9C614.3 892.5 612.5 895.1 611.2 895.1C609.8 895.2 606.9 891 606.1 891.2C605.2 891.4 605.8 895 605.3 896.5C604.8 898 604 900.1 602.9 901C601.8 901.9 599.6 902.5 598.1 902.7C596.6 902.9 594.3 903 593 902.4C591.7 901.8 590.3 900 589.5 898.7C588.6 897.4 588.2 893.8 587.3 893.8C586.4 893.9 584.8 898.7 583.4 899C582.1 899.4 579.7 897.4 578.5 896.1C577.2 894.8 575.8 891.9 575.1 890.3C574.5 888.7 574.7 886.6 573.9 885.3C573.1 884 570.8 883 569.9 881.7C569 880.3 569.3 877.3 568.1 876.2C566.9 875 563.2 874.6 561.7 873.9C560.3 873.3 559 872.9 558.4 871.8C557.8 870.7 557.4 868.1 557.7 866.7C558 865.3 558.7 863.1 560.2 862.7C561.6 862.3 566.1 863.1 567.4 863.8C568.7 864.4 568.2 867.1 568.9 867.2C569.6 867.3 571.4 866.2 572 864.7C572.7 863.2 572.4 858.6 573.5 857.2C574.6 855.8 577.6 854.9 579.3 855.3C581 855.7 583.1 859.1 585 859.7C586.9 860.4 590 860.1 592.1 859.8Z" fill="#f3ece7" stroke="#161d22" stroke-width="1.5" stroke-linejoin="round"/>
<path d="M583.3 862.1C583.4 864.3 583.1 871.5 583.7 875.6C584.3 879.6 585.6 884.1 586.7 886.6C587.8 889 589.6 890.7 590.3 890.3C591 889.8 590.5 883.6 590.9 883.9C591.4 884.2 592 890.2 593.1 892C594.1 893.7 595.8 894.7 596.9 894.5C598.1 894.4 599.5 893 600 891C600.5 889 599.5 883.1 599.8 882.7C600.2 882.3 601.4 888.4 602.2 888.6C603 888.8 604.2 886.7 604.6 884.1C605 881.4 605 876.7 604.5 872.6C603.9 868.5 601.7 861.7 601.1 859.5" fill="none" stroke="#161d22" stroke-width="1.2" stroke-linecap="round"/>
<path d="M575.8 832.3C577.8 831.7 580.8 830.9 582.3 829.7C583.9 828.5 584.6 825.2 586.1 824.3C587.5 823.3 590.6 822.9 592.1 823.5C593.6 824.2 594.9 827.8 596 828.6C597.2 829.5 599.8 829.6 599.9 829.4C599.9 829.2 595.8 828.1 596.2 827.3C596.6 826.4 601 824 602.5 823.8C604 823.6 605.5 825 606.2 825.9C606.9 826.8 607.5 829 607.3 830C607.1 831.1 606.1 831.8 604.9 832.8C603.8 833.9 600 835.7 599.8 836.9C599.6 838 603.7 839.4 603.9 840.6C604.1 841.8 601.7 843.5 601.4 844.8C601.1 846.1 602.1 847.6 602 849C602 850.5 601.6 853.2 600.9 854.6C600.2 856 598.7 858.4 597.4 858.6C596 858.9 592.9 855.8 592 856.1C591.2 856.4 592 859.3 591.7 860.6C591.3 861.9 590.6 863.7 589.6 864.7C588.7 865.6 586.5 866.4 585 866.8C583.6 867.2 581.3 867.6 580 867.2C578.7 866.9 577.2 865.7 576.2 864.7C575.3 863.8 574.5 860.9 573.7 861C572.8 861.2 571.6 865.4 570.3 865.9C569 866.4 566.5 865.1 565.2 864.2C563.9 863.3 562.3 861.1 561.5 859.9C560.7 858.7 560.7 856.9 559.9 855.9C559 855 556 854.7 555.6 853.5C555.2 852.4 558 849.2 557.3 848.2C556.6 847.3 552.3 847.7 550.8 847.3C549.4 847 548.1 846.9 547.4 846.1C546.7 845.3 546.1 843.1 546.3 842C546.5 840.8 547 838.9 548.4 838.3C549.8 837.7 554.9 837.6 555.6 838.1C556.4 838.7 553.4 841.6 553.5 841.8C553.6 842 555.9 840.6 556.4 839.2C557 837.9 556.3 834.2 557.3 832.8C558.3 831.5 561.2 830.4 562.9 830.5C564.6 830.5 566.9 833 568.8 833.3C570.8 833.6 573.8 832.8 575.8 832.3Z" fill="#f3ece7" stroke="#161d22" stroke-width="1.5" stroke-linejoin="round"/>
<path d="M567.3 835.4C567.6 837.3 567.9 843.2 568.7 846.5C569.6 849.8 571.3 853.3 572.6 855.1C573.9 857 575.7 858.1 576.4 857.7C577 857.2 576 852.2 576.5 852.3C577 852.5 578.1 857.3 579.2 858.6C580.4 860 582.2 860.5 583.3 860.2C584.4 859.9 585.7 858.5 586 856.8C586.3 855.1 584.9 850.4 585.2 850C585.5 849.6 587.2 854.5 588 854.5C588.8 854.6 589.8 852.7 590 850.5C590.2 848.2 589.9 844.4 589 841.1C588.1 837.8 585.4 832.5 584.7 830.8" fill="none" stroke="#161d22" stroke-width="1.2" stroke-linecap="round"/>
<path d="M574.3 810.6C576.7 810.1 579.3 806.2 581.2 804.8C583.2 803.4 585.7 801.6 587.1 801.3C588.6 801 590 801.7 590.8 802.6C591.6 803.5 591.7 806.6 592.4 807.4C593.1 808.3 594.3 808.2 595.3 808.2C596.3 808.1 598.1 807.1 599 807.3C599.9 807.6 600.9 808.9 601.5 809.7C602 810.5 602.5 811.8 602.5 812.8C602.5 813.7 602.2 815.6 601.7 816.3C601.2 817 599.9 817.3 599.1 817.6C598.3 817.9 596.7 817.8 596.4 818.4C596 819.1 596.5 820.7 596.7 821.7C596.9 822.8 597.9 824.5 597.5 825.4C597.2 826.4 595.2 827.3 594.1 828.1C593 828.9 591.4 829.8 590.2 830.8C589.1 831.9 587.5 833.7 586.7 835C585.8 836.3 584.9 837.7 584.8 839.3C584.6 840.9 585.5 844.3 585.6 845.7C585.6 847.2 585.5 848 585.1 848.7C584.8 849.4 583.8 850 583.2 850.2C582.6 850.3 581.4 850.1 580.8 849.7C580.2 849.2 579.7 848.5 579.2 847.2C578.6 845.9 578 842.4 577.2 841C576.3 839.6 574.9 838.7 573.6 837.9C572.3 837.1 570 836.1 568.6 835.7C567.1 835.2 565.2 835.1 563.9 834.8C562.6 834.6 560.4 834.6 559.7 833.9C558.9 833.2 559.1 831.2 558.9 830.2C558.6 829.2 558.3 827.5 557.8 827.1C557.2 826.7 555.8 827.4 555 827.5C554.1 827.5 552.8 827.8 552.1 827.4C551.3 827 550.2 825.5 549.8 824.6C549.4 823.6 549.3 822.3 549.4 821.4C549.6 820.4 549.9 818.8 550.6 818.2C551.4 817.6 553.4 817.8 554.3 817.3C555.2 816.9 556.4 816.5 556.7 815.4C556.9 814.4 555.7 811.6 556.1 810.4C556.4 809.2 557.4 808 558.8 807.6C560.3 807.3 563.3 807.8 565.6 808.3C568 808.7 572 811.1 574.3 810.6Z" fill="#f3ece7" stroke="#161d22" stroke-width="1.5" stroke-linejoin="round"/>
<path d="M564.1 784.1C566.4 783.5 568.9 779.3 570.8 777.8C572.7 776.3 575.1 774.4 576.6 774.1C578 773.7 579.5 774.5 580.3 775.5C581.1 776.5 581.3 779.8 582.1 780.6C582.8 781.5 584.2 781.4 585.3 781.4C586.4 781.3 588.4 780.1 589.4 780.3C590.5 780.6 591.6 782 592.2 782.8C592.8 783.7 593.3 785 593.4 786.1C593.4 787.2 593 789.1 592.5 789.9C591.9 790.7 590.4 791 589.5 791.4C588.6 791.8 586.9 791.7 586.5 792.4C586.1 793.1 586.7 794.8 586.9 795.9C587.1 797.1 588.2 798.9 587.9 799.9C587.5 800.9 585.6 801.9 584.6 802.7C583.5 803.6 581.8 804.6 580.8 805.7C579.7 806.8 578.1 808.8 577.3 810.2C576.5 811.5 575.7 813.1 575.6 814.8C575.5 816.5 576.5 820.2 576.6 821.7C576.7 823.2 576.6 824.2 576.3 824.9C575.9 825.6 575 826.3 574.4 826.4C573.7 826.6 572.6 826.4 572 825.9C571.4 825.4 570.8 824.7 570.2 823.3C569.6 821.9 568.9 818.1 568 816.6C567.1 815.2 565.6 814.2 564.3 813.4C563 812.5 560.7 811.5 559.2 811C557.7 810.5 555.8 810.4 554.4 810.1C553.1 809.8 551 809.8 550.2 809.1C549.4 808.3 549.6 806.2 549.2 805.1C548.9 804 548.6 802.2 548 801.8C547.3 801.4 545.8 802.2 544.8 802.3C543.8 802.4 542.4 802.8 541.5 802.3C540.7 801.9 539.4 800.3 539 799.3C538.5 798.4 538.4 796.9 538.5 795.9C538.7 794.9 539 793.1 539.8 792.4C540.7 791.7 543 791.9 544 791.4C545 790.9 546.3 790.4 546.5 789.3C546.8 788.2 545.4 785.2 545.7 783.9C546 782.6 547 781.3 548.4 780.9C549.8 780.6 552.9 781.1 555.2 781.6C557.6 782.1 561.7 784.7 564.1 784.1Z" fill="#f3ece7" stroke="#161d22" stroke-width="1.5" stroke-linejoin="round"/>
<path d="M553.3 759.7C555.6 759.2 558.2 754.9 560.1 753.5C562 752 564.6 750.1 566 749.8C567.4 749.5 568.9 750.4 569.7 751.5C570.5 752.5 570.6 755.9 571.4 756.9C572.1 757.8 573.6 757.7 574.9 757.7C576.2 757.6 578.9 756.4 580.1 756.6C581.4 756.8 582.7 758.3 583.3 759.2C584 760.1 584.5 761.5 584.5 762.6C584.5 763.7 583.9 765.8 583.1 766.6C582.3 767.5 580.5 767.8 579.4 768.2C578.3 768.6 576.1 768.5 575.6 769.3C575.1 770 575.7 771.8 575.9 773C576 774.1 577.1 776.1 576.7 777.1C576.4 778.2 574.4 779.1 573.3 779.9C572.2 780.8 570.6 781.7 569.5 782.9C568.3 784 566.7 786 565.9 787.4C565.1 788.7 564.2 790.3 564 792.1C563.9 793.9 564.9 797.7 564.9 799.3C565 800.9 564.8 801.8 564.5 802.6C564.1 803.3 563.2 804 562.6 804.1C561.9 804.3 560.8 804 560.2 803.5C559.6 802.9 559 802.1 558.5 800.6C557.9 799.2 557.2 795.3 556.4 793.7C555.5 792.1 554.1 791 552.8 790.1C551.5 789.2 549.2 788 547.7 787.4C546.3 786.8 544.3 786.6 543 786.3C541.6 785.9 539.5 785.9 538.8 785.1C538 784.3 538.2 782.1 537.9 780.9C537.6 779.8 537.4 777.9 536.6 777.4C535.9 777 533.9 777.9 532.7 778C531.5 778 529.7 778.5 528.7 778C527.7 777.6 526.3 775.9 525.8 774.9C525.3 773.9 525.3 772.4 525.5 771.3C525.8 770.2 526.4 768.3 527.4 767.6C528.5 766.9 531.4 767 532.6 766.5C533.8 766.1 535.2 765.5 535.5 764.4C535.9 763.2 534.6 760 534.9 758.8C535.2 757.5 536.2 756.1 537.6 755.8C539.1 755.5 542.1 756.2 544.5 756.7C546.8 757.3 550.9 760.2 553.3 759.7Z" fill="#f3ece7" stroke="#161d22" stroke-width="1.5" stroke-linejoin="round"/>
<path d="M546.1 729.9C548.5 729.6 551.5 725.4 553.5 724C555.6 722.7 558.3 721 559.8 720.8C561.2 720.7 562.6 721.8 563.3 723C564 724.3 563.7 728 564.4 729.1C565.1 730.2 566.7 730.2 568.1 730.3C569.5 730.5 572.5 729.4 573.8 729.8C575.2 730.2 576.4 731.9 577 732.9C577.6 734 578.1 735.5 577.9 736.7C577.8 737.9 576.8 740.1 575.9 740.9C575 741.8 573 741.9 571.7 742.2C570.4 742.5 568.1 742.2 567.4 742.9C566.8 743.6 567.2 745.6 567.3 746.9C567.3 748.2 568.2 750.4 567.7 751.5C567.3 752.6 565.2 753.3 564.1 754.1C562.9 754.9 561.1 755.7 559.9 756.8C558.7 757.8 556.9 759.8 555.9 761.2C555 762.5 553.9 764.1 553.6 766C553.3 767.9 553.9 772.2 553.8 773.9C553.7 775.6 553.4 776.6 553 777.3C552.6 778.1 551.6 778.7 551 778.8C550.3 778.8 549.2 778.4 548.6 777.8C548.1 777.1 547.6 776.2 547.2 774.5C546.8 772.9 546.5 768.6 545.8 766.8C545.1 765 543.8 763.7 542.6 762.5C541.4 761.3 539.2 759.8 537.8 759C536.4 758.2 534.5 757.7 533.2 757.2C531.9 756.6 529.8 756.3 529.1 755.3C528.4 754.4 528.9 752 528.7 750.8C528.5 749.5 528.5 747.4 527.8 746.9C527 746.3 524.7 747 523.4 747C522.1 746.9 520.1 747.2 519 746.6C518 746 516.6 744 516.2 742.9C515.8 741.7 516 740.1 516.4 739C516.8 737.8 517.6 735.9 518.9 735.2C520.1 734.6 523.3 735.1 524.6 734.7C526 734.3 527.5 733.9 528 732.7C528.5 731.5 527.4 727.9 527.9 726.6C528.3 725.2 529.4 723.8 530.9 723.7C532.4 723.6 535.4 724.7 537.6 725.6C539.9 726.5 543.7 730.1 546.1 729.9Z" fill="#f3ece7" stroke="#161d22" stroke-width="1.5" stroke-linejoin="round"/>
<path d="M545.2 698.8C547.6 698.8 551.1 695 553.3 693.8C555.5 692.7 558.4 691.4 559.8 691.4C561.3 691.5 562.5 692.7 563.1 694C563.6 695.4 562.8 699 563.5 700.2C564.1 701.4 565.7 701.6 567.2 701.9C568.7 702.2 572.1 701.5 573.5 702C574.9 702.6 576 704.4 576.5 705.6C577 706.7 577.3 708.3 577 709.4C576.6 710.6 575.4 712.7 574.3 713.4C573.2 714.1 571 714 569.6 714.1C568.1 714.2 565.7 713.7 564.8 714.3C564 714.9 564.3 717 564.2 718.3C564.1 719.6 564.7 721.9 564.1 722.9C563.5 723.9 561.4 724.4 560.2 725.1C558.9 725.7 557.1 726.3 555.7 727.2C554.4 728.1 552.4 729.9 551.2 731.1C550.1 732.4 548.9 733.8 548.4 735.7C547.8 737.5 547.9 741.8 547.6 743.5C547.3 745.2 546.9 746.2 546.4 746.9C545.9 747.6 544.9 748.1 544.2 748.1C543.6 748 542.5 747.5 542 746.8C541.6 746.1 541.2 745.1 541 743.4C540.8 741.7 541 737.4 540.6 735.5C540.1 733.6 538.9 732.2 537.8 730.9C536.8 729.6 534.8 727.8 533.5 726.8C532.2 725.8 530.4 725.2 529.2 724.5C527.9 723.8 525.9 723.2 525.3 722.1C524.8 721.1 525.5 718.8 525.4 717.5C525.3 716.2 525.7 714.2 524.9 713.5C524.1 712.9 521.6 713.3 520.2 713.1C518.8 712.9 516.6 713 515.5 712.2C514.5 711.5 513.3 709.4 513 708.2C512.7 707 513.1 705.4 513.6 704.3C514.2 703.2 515.4 701.4 516.8 700.9C518.2 700.4 521.6 701.2 523.1 701C524.6 700.8 526.2 700.6 526.9 699.5C527.5 698.3 526.9 694.6 527.5 693.3C528.1 692.1 529.4 690.8 530.8 690.9C532.3 690.9 535.1 692.3 537.3 693.5C539.4 694.7 542.8 698.8 545.2 698.8Z" fill="#f3ece7" stroke="#161d22" stroke-width="1.5" stroke-linejoin="round"/>
<path d="M549.9 668.9C552.2 669.2 556 665.6 558.3 664.6C560.6 663.7 563.5 662.6 565 662.7C566.5 662.9 567.6 664.2 568.1 665.6C568.5 666.9 567.4 670.4 568 671.7C568.5 672.9 570.1 673.2 571.7 673.6C573.2 674 576.8 673.6 578.2 674.2C579.6 674.9 580.6 676.8 581.1 678C581.5 679.1 581.7 680.7 581.3 681.9C580.8 683 579.4 684.9 578.2 685.5C577 686.1 574.7 685.9 573.2 685.9C571.8 685.9 569.2 685.2 568.3 685.7C567.5 686.3 567.6 688.3 567.4 689.6C567.2 690.9 567.6 693.2 567 694.1C566.3 695.1 564.2 695.4 562.9 696C561.6 696.5 559.7 697 558.3 697.8C556.9 698.6 554.7 700.1 553.5 701.3C552.3 702.5 551 703.8 550.3 705.6C549.6 707.4 549.4 711.7 549 713.3C548.6 714.9 548.1 715.9 547.6 716.5C547 717.2 545.9 717.6 545.3 717.5C544.6 717.5 543.6 716.8 543.2 716.1C542.8 715.4 542.5 714.4 542.4 712.7C542.3 711 542.9 706.7 542.5 704.9C542.2 703 541.1 701.4 540.2 700.1C539.2 698.7 537.4 696.8 536.2 695.7C535 694.7 533.2 693.9 532 693.1C530.8 692.3 528.8 691.6 528.3 690.5C527.8 689.4 528.7 687.2 528.8 686C528.8 684.7 529.3 682.7 528.5 682C527.8 681.3 525.2 681.5 523.7 681.2C522.3 680.9 520 680.8 518.9 679.9C517.8 679.1 516.8 676.9 516.6 675.7C516.4 674.6 516.8 673 517.5 672C518.2 670.9 519.5 669.2 521 668.8C522.6 668.5 526 669.6 527.6 669.5C529.1 669.4 530.8 669.3 531.5 668.2C532.3 667.1 531.9 663.4 532.6 662.2C533.3 661 534.7 659.9 536.1 660C537.6 660.1 540.3 661.8 542.4 663.1C544.4 664.5 547.5 668.7 549.9 668.9Z" fill="#f3ece7" stroke="#161d22" stroke-width="1.5" stroke-linejoin="round"/>
<path d="M555.9 639.5C558.3 639.9 562.3 636.8 564.6 636.1C566.9 635.4 569.9 634.6 571.4 634.8C572.8 635 573.9 636.4 574.3 637.7C574.6 639 573.3 642.3 573.8 643.4C574.3 644.6 575.8 645.1 577.3 645.6C578.8 646.1 582.4 645.9 583.8 646.7C585.2 647.4 586.1 649.3 586.5 650.4C586.8 651.5 586.9 653.1 586.4 654.1C585.9 655.1 584.4 656.8 583.1 657.3C581.9 657.8 579.6 657.4 578.2 657.3C576.7 657.2 574.2 656.3 573.3 656.8C572.4 657.2 572.4 659.2 572.1 660.3C571.8 661.5 572.1 663.7 571.4 664.6C570.7 665.4 568.5 665.6 567.2 666C565.9 666.4 564 666.7 562.5 667.4C561.1 668 558.8 669.3 557.6 670.3C556.3 671.4 554.9 672.5 554.1 674.1C553.3 675.8 552.8 679.8 552.3 681.3C551.8 682.8 551.3 683.7 550.7 684.2C550.1 684.8 549 685.1 548.3 685C547.7 684.9 546.7 684.2 546.4 683.5C546 682.8 545.8 681.8 545.8 680.2C545.8 678.6 546.6 674.7 546.4 672.9C546.2 671 545.2 669.5 544.4 668.1C543.5 666.8 541.8 664.8 540.6 663.7C539.5 662.7 537.8 661.8 536.6 660.9C535.5 660.1 533.6 659.3 533.1 658.2C532.7 657.2 533.7 655.2 533.8 654C534 652.8 534.6 650.9 533.9 650.2C533.2 649.5 530.5 649.5 529.1 649.1C527.7 648.7 525.4 648.4 524.4 647.6C523.4 646.7 522.5 644.6 522.3 643.4C522.2 642.3 522.8 640.9 523.5 639.9C524.2 639 525.7 637.5 527.2 637.3C528.7 637 532.1 638.3 533.7 638.3C535.2 638.4 536.9 638.4 537.7 637.4C538.5 636.5 538.4 633 539.1 631.9C539.9 630.8 541.3 629.8 542.8 630C544.2 630.3 546.8 632.1 548.8 633.5C550.8 634.9 553.5 639.1 555.9 639.5Z" fill="#f3ece7" stroke="#161d22" stroke-width="1.5" stroke-linejoin="round"/>
<path d="M566.4 614.7C568.7 615.2 572.9 612.4 575.2 611.8C577.6 611.3 580.6 610.6 582.1 610.9C583.5 611.3 584.5 612.7 584.8 614C585.1 615.3 583.6 618.4 584 619.6C584.4 620.8 586 621.4 587.4 621.9C588.9 622.5 592.5 622.6 593.8 623.4C595.1 624.2 595.9 626.1 596.3 627.2C596.6 628.4 596.6 629.9 596 630.9C595.5 631.9 593.8 633.5 592.6 633.9C591.3 634.3 589.1 633.7 587.6 633.5C586.2 633.4 583.7 632.3 582.8 632.7C581.9 633.2 581.8 635.1 581.4 636.2C581.1 637.4 581.3 639.6 580.5 640.4C579.7 641.2 577.6 641.2 576.2 641.6C574.9 641.9 572.9 642.1 571.5 642.6C570 643.2 567.7 644.3 566.4 645.3C565 646.2 563.6 647.2 562.7 648.8C561.8 650.4 561.1 654.3 560.5 655.8C559.9 657.3 559.4 658.1 558.7 658.6C558.1 659.1 557 659.4 556.3 659.2C555.7 659.1 554.8 658.4 554.4 657.6C554.1 656.9 554 655.9 554.1 654.3C554.2 652.8 555.2 648.9 555.1 647.1C555 645.3 554.1 643.7 553.3 642.3C552.5 640.9 550.9 638.9 549.8 637.7C548.7 636.6 547 635.6 546 634.7C544.9 633.9 543 632.9 542.6 631.9C542.3 630.8 543.4 628.9 543.6 627.7C543.7 626.5 544.5 624.7 543.8 624C543.1 623.2 540.5 623.1 539.1 622.6C537.7 622.1 535.5 621.7 534.5 620.8C533.5 619.9 532.7 617.7 532.6 616.6C532.6 615.5 533.2 614.1 534 613.2C534.8 612.3 536.3 610.9 537.8 610.8C539.4 610.6 542.7 612.1 544.2 612.2C545.8 612.3 547.4 612.5 548.3 611.6C549.2 610.7 549.2 607.2 550 606.2C550.9 605.1 552.4 604.2 553.8 604.6C555.2 604.9 557.7 606.8 559.6 608.3C561.5 609.8 564 614.2 566.4 614.7Z" fill="#f3ece7" stroke="#161d22" stroke-width="1.5" stroke-linejoin="round"/>
<path d="M578.1 582.2C582.1 583.2 587.8 583.7 591.7 584.5C595.6 585.4 601.4 587.1 604 588C606.7 588.8 608.8 588.6 609.6 590.3C610.3 592 609.4 596.6 608.9 599.3C608.4 602 607.6 606.9 606.3 608.3C604.9 609.7 602.2 608.6 600.1 608.7C597.9 608.9 594.2 608.8 591.9 609.2C589.5 609.5 586.4 610.8 584.3 611.2C582.1 611.6 579 611.6 577.5 612C576 612.4 575.2 612.4 574.4 613.7C573.6 614.9 572.8 619 572.2 620.4C571.6 621.7 570.9 622.4 570.4 622.8C569.8 623.3 568.8 623.4 568.2 623.3C567.6 623.2 566.9 622.6 566.5 621.9C566.2 621.3 565.9 620.4 566 618.9C566.1 617.4 567.2 613.4 567.1 611.9C566.9 610.4 566.2 610 565.1 609C563.9 608 561.1 606.6 559.4 605.2C557.6 603.9 555.5 601.4 553.5 600C551.6 598.6 548.3 597 546.4 595.9C544.6 594.8 541.6 594.5 541.1 592.7C540.6 590.8 542 586.1 542.8 583.4C543.6 580.8 544.9 576.3 546.3 575.1C547.7 573.9 549.5 575.1 552.3 575.6C555.1 576 561 577.1 564.9 578.1C568.7 579.1 574 581.3 578.1 582.2Z" fill="#f3ece7" stroke="#161d22" stroke-width="1.5" stroke-linejoin="round"/>
<path d="M552.2 576C551.9 577.7 551.1 582.9 550.3 586.2C549.4 589.4 547.5 594 547 595.5" fill="none" stroke="#161d22" stroke-width="1.2"/>
<path d="M603.9 588.4C603.5 590.1 601.8 595.1 601.1 598.3C600.3 601.6 599.9 606.5 599.7 608.2" fill="none" stroke="#161d22" stroke-width="1.2"/>
<path d="M588.4 560.2C592.3 561.1 597.9 561.6 601.7 562.4C605.5 563.2 611.1 564.7 613.7 565.5C616.3 566.3 618.4 566.1 619.1 567.5C619.9 569 619.3 572.9 618.9 575.2C618.5 577.4 617.9 581.6 616.7 582.7C615.5 583.9 612.8 582.9 610.7 583C608.7 583.1 605.1 583 602.8 583.3C600.6 583.5 597.7 584.6 595.6 584.9C593.6 585.2 590.5 585.1 589.1 585.4C587.7 585.7 586.9 585.7 586.2 586.8C585.5 587.8 584.8 591.3 584.3 592.4C583.8 593.6 583.2 594.1 582.7 594.5C582.1 594.8 581.2 595 580.6 594.8C580.1 594.7 579.3 594.2 578.9 593.6C578.6 593.1 578.3 592.4 578.3 591.1C578.4 589.8 579.3 586.5 579.1 585.2C578.9 583.9 578.2 583.6 577 582.7C575.8 581.8 573.1 580.6 571.4 579.4C569.6 578.2 567.5 576.1 565.5 574.9C563.6 573.7 560.3 572.2 558.5 571.3C556.6 570.3 553.8 570.1 553.2 568.5C552.6 566.9 553.9 562.9 554.5 560.7C555.1 558.5 556.2 554.7 557.5 553.7C558.9 552.7 560.6 553.8 563.3 554.2C566 554.6 571.8 555.6 575.5 556.5C579.3 557.4 584.5 559.4 588.4 560.2Z" fill="#f3ece7" stroke="#161d22" stroke-width="1.5" stroke-linejoin="round"/>
<path d="M563.2 554.6C563 556 562.5 560.4 561.8 563.1C561.1 565.9 559.5 569.7 559 571" fill="none" stroke="#161d22" stroke-width="1.2"/>
<path d="M613.6 565.9C613.2 567.3 611.8 571.5 611.2 574.3C610.7 577 610.5 581.2 610.4 582.5" fill="none" stroke="#161d22" stroke-width="1.2"/>
<path d="M593.1 542.2C597.1 542.7 602.6 542.8 606.5 543.3C610.3 543.7 616.1 544.7 618.8 545.2C621.5 545.7 623.5 545.4 624.4 546.5C625.3 547.7 625.1 550.8 625.1 552.7C625 554.5 624.8 557.9 623.8 558.9C622.7 559.9 620 559.3 617.9 559.4C615.9 559.6 612.3 559.7 610.1 560C607.9 560.4 605.2 561.3 603.2 561.7C601.2 562.1 598.2 562.2 596.8 562.5C595.4 562.8 594.6 562.8 594 563.7C593.4 564.6 593.2 567.4 592.9 568.3C592.5 569.3 592 569.8 591.5 570.1C591 570.4 590.1 570.5 589.5 570.5C588.9 570.4 588.1 570 587.7 569.6C587.3 569.2 586.9 568.6 586.8 567.6C586.7 566.5 587.2 563.8 586.8 562.8C586.5 561.8 585.7 561.5 584.5 560.9C583.2 560.2 580.3 559.4 578.5 558.5C576.7 557.7 574.2 556 572.2 555.2C570.1 554.3 566.7 553.3 564.8 552.6C562.9 551.9 560 551.9 559.3 550.6C558.5 549.4 559.2 546.1 559.6 544.3C560 542.5 560.6 539.4 561.8 538.5C563 537.6 564.8 538.4 567.6 538.6C570.3 538.8 576.1 539.3 579.9 539.9C583.8 540.4 589.1 541.7 593.1 542.2Z" fill="#f3ece7" stroke="#161d22" stroke-width="1.5" stroke-linejoin="round"/>
<path d="M567.5 538.9C567.4 540.1 567.5 543.6 567.1 545.9C566.7 548.1 565.6 551.3 565.3 552.4" fill="none" stroke="#161d22" stroke-width="1.2"/>
<path d="M618.7 545.5C618.5 546.6 617.6 550.1 617.4 552.3C617.2 554.6 617.5 557.9 617.5 559.1" fill="none" stroke="#161d22" stroke-width="1.2"/>
<path d="M594.6 526C598.6 526.3 604.1 526.2 608 526.4C611.8 526.6 617.6 527.2 620.3 527.6C623.1 527.9 625 527.6 626 528.5C627 529.5 627.1 532.4 627.1 534C627.1 535.7 627.2 538.7 626.2 539.7C625.2 540.7 622.4 540.2 620.4 540.4C618.4 540.7 614.8 540.9 612.7 541.3C610.5 541.7 607.8 542.7 605.8 543.1C603.9 543.5 600.9 543.8 599.5 544.1C598.2 544.4 597.4 544.5 596.8 545.4C596.3 546.2 596.3 548.7 596 549.6C595.7 550.5 595.2 550.9 594.7 551.2C594.2 551.5 593.3 551.7 592.8 551.6C592.2 551.6 591.3 551.3 590.9 550.9C590.5 550.6 590.1 550.1 589.9 549.2C589.7 548.2 590 545.7 589.6 544.8C589.2 544 588.4 543.8 587.1 543.2C585.8 542.7 582.9 542.1 581 541.4C579.1 540.7 576.6 539.3 574.5 538.6C572.4 537.9 568.9 537.2 567 536.7C565 536.1 562.2 536.2 561.3 535.1C560.5 534 561 531.1 561.2 529.4C561.5 527.8 561.9 524.9 563.1 524.1C564.2 523.3 566.1 523.9 568.8 523.9C571.5 524 577.4 524.2 581.2 524.5C585.1 524.8 590.6 525.7 594.6 526Z" fill="#f3ece7" stroke="#161d22" stroke-width="1.5" stroke-linejoin="round"/>
<path d="M568.8 524.2C568.8 525.3 569.1 528.5 568.8 530.5C568.6 532.5 567.7 535.4 567.5 536.4" fill="none" stroke="#161d22" stroke-width="1.2"/>
<path d="M620.3 527.8C620.2 528.9 619.5 532 619.4 534.1C619.3 536.1 619.9 539.1 619.9 540.1" fill="none" stroke="#161d22" stroke-width="1.2"/>
<path d="M572.4 515.5C577.7 514.6 591.8 516.5 601.4 517.5C611 518.6 625.1 519.6 630.1 521.6C635.1 523.5 629.7 527.1 631.3 529.2C632.9 531.4 638 533 639.8 534.7C641.7 536.3 642.8 537.8 642.4 538.9C641.9 540.1 639.4 541.5 637.1 541.4C634.8 541.3 632.3 538.6 628.3 538.5C624.4 538.4 618.3 541.4 613.5 540.9C608.7 540.4 604.3 536 599.5 535.4C594.7 534.9 589.5 538.4 584.7 537.9C579.9 537.4 574.5 533.2 570.7 532.4C566.8 531.7 563.8 533.9 561.5 533.5C559.2 533.1 557.1 531.2 556.8 530C556.6 528.8 558.1 527.5 560.2 526.3C562.4 525.1 567.6 524.6 569.7 522.8C571.7 521 567.2 516.4 572.4 515.5Z" fill="#f3ece7" stroke="#3b4a55" stroke-width="1.3" stroke-linejoin="round"/>
<path d="M573.5 499.5C578.8 497.9 593.5 498.5 603.5 498.5C613.5 498.5 628.2 497.9 633.5 499.5C638.8 501.1 635 505.2 635 508C635 510.8 636 514.6 633.5 516.5C631 518.4 623.8 519.8 620 519.5C616.2 519.2 613.8 514.8 611 514.5C608.2 514.2 606 517.5 603.5 517.5C601 517.5 598.8 514.2 596 514.5C593.2 514.8 590.8 519.2 587 519.5C583.2 519.8 576 518.4 573.5 516.5C571 514.6 572 510.8 572 508C572 505.2 568.2 501.1 573.5 499.5Z" fill="#f3ece7" stroke="#3b4a55" stroke-width="1.3" stroke-linejoin="round"/>
<path d="M574 482.5C579.2 480.9 594 481.5 604 481.5C614 481.5 628.8 480.9 634 482.5C639.2 484.1 635.5 488.2 635.5 491C635.5 493.8 636.5 497.6 634 499.5C631.5 501.4 624.2 502.8 620.5 502.5C616.8 502.2 614.2 497.8 611.5 497.5C608.8 497.2 606.5 500.5 604 500.5C601.5 500.5 599.2 497.2 596.5 497.5C593.8 497.8 591.2 502.2 587.5 502.5C583.8 502.8 576.5 501.4 574 499.5C571.5 497.6 572.5 493.8 572.5 491C572.5 488.2 568.8 484.1 574 482.5Z" fill="#f3ece7" stroke="#3b4a55" stroke-width="1.3" stroke-linejoin="round"/>
<path d="M574 465.5C579.2 463.9 594 464.5 604 464.5C614 464.5 628.8 463.9 634 465.5C639.2 467.1 635.5 471.2 635.5 474C635.5 476.8 636.5 480.6 634 482.5C631.5 484.4 624.2 485.8 620.5 485.5C616.8 485.2 614.2 480.8 611.5 480.5C608.8 480.2 606.5 483.5 604 483.5C601.5 483.5 599.2 480.2 596.5 480.5C593.8 480.8 591.2 485.2 587.5 485.5C583.8 485.8 576.5 484.4 574 482.5C571.5 480.6 572.5 476.8 572.5 474C572.5 471.2 568.8 467.1 574 465.5Z" fill="#f3ece7" stroke="#3b4a55" stroke-width="1.3" stroke-linejoin="round"/>
<path d="M1836 1015.8C1837.5 1015.8 1839.7 1015.6 1841 1014.8C1842.3 1014.1 1844.2 1012.5 1845 1010.9C1845.8 1009.3 1846.2 1006.1 1846.5 1004C1846.8 1002 1846.5 999.2 1847 997.1C1847.5 995.1 1848.8 991.1 1850 990.2C1851.2 989.4 1854 990.2 1855 991.2C1856 992.3 1856.2 996 1857 997.1C1857.8 998.3 1858.5 999.5 1860 999.1C1861.5 998.7 1864.8 995.8 1867 994.7C1869.2 993.6 1873.2 991.6 1875 991.7C1876.8 991.8 1878.3 993.9 1879 995.2C1879.7 996.4 1880 998.8 1879.5 1000.1C1879 1001.3 1877.6 1002.5 1876 1003.5C1874.4 1004.6 1871.2 1005.4 1869 1007C1866.8 1008.5 1862.7 1012.2 1861 1013.9C1859.3 1015.5 1858.1 1016.3 1857.5 1017.8C1856.9 1019.3 1857.3 1021.6 1857 1023.7C1856.7 1025.8 1856.2 1029.5 1855.5 1031.6C1854.8 1033.6 1853.2 1036.3 1852 1037.5C1850.8 1038.6 1848.6 1039.9 1847.5 1039.4C1846.4 1039 1845.2 1035.7 1844.5 1034.5C1843.8 1033.3 1843.3 1031.1 1843 1031.6C1842.7 1032 1843 1035.8 1842.5 1037.5C1842 1039.1 1841 1041.4 1840 1042.4C1839 1043.3 1837.2 1043.9 1836 1043.9C1834.8 1043.9 1833 1043.3 1832 1042.4C1831 1041.4 1830 1039.1 1829.5 1037.5C1829 1035.8 1829.3 1032 1829 1031.6C1828.7 1031.1 1828.2 1033.3 1827.5 1034.5C1826.8 1035.7 1825.6 1039 1824.5 1039.4C1823.4 1039.9 1821.2 1038.6 1820 1037.5C1818.8 1036.3 1817.2 1033.6 1816.5 1031.6C1815.8 1029.5 1815.3 1025.8 1815 1023.7C1814.7 1021.6 1815.1 1019.3 1814.5 1017.8C1813.9 1016.3 1812.7 1015.5 1811 1013.9C1809.3 1012.2 1805.2 1008.5 1803 1007C1800.8 1005.4 1797.6 1004.6 1796 1003.5C1794.4 1002.5 1793 1001.3 1792.5 1000.1C1792 998.8 1792.3 996.4 1793 995.2C1793.7 993.9 1795.2 991.8 1797 991.7C1798.8 991.6 1802.8 993.6 1805 994.7C1807.2 995.8 1810.5 998.7 1812 999.1C1813.5 999.5 1814.2 998.3 1815 997.1C1815.8 996 1816 992.3 1817 991.2C1818 990.2 1820.8 989.4 1822 990.2C1823.2 991.1 1824.5 995.1 1825 997.1C1825.5 999.2 1825.2 1002 1825.5 1004C1825.8 1006.1 1826.2 1009.3 1827 1010.9C1827.8 1012.5 1829.7 1014.1 1831 1014.8C1832.3 1015.6 1834.5 1015.8 1836 1015.8Z" fill="#f3ece7" stroke="#161d22" stroke-width="1.5" stroke-linejoin="round"/>
<path d="M1832 1021.7C1831.8 1023.2 1830.9 1027.9 1831 1030.6C1831.1 1033.2 1831.7 1036 1832.5 1037.5C1833.3 1038.9 1834.8 1039.4 1836 1039.4C1837.2 1039.4 1838.7 1038.9 1839.5 1037.5C1840.3 1036 1840.9 1033.2 1841 1030.6C1841.1 1027.9 1840.2 1023.2 1840 1021.7" fill="none" stroke="#161d22" stroke-width="1.2" stroke-linecap="round"/>
<path d="M1836.9 974.2C1838.4 974.2 1840.6 973.9 1841.9 973.2C1843.2 972.5 1845.1 971 1845.9 969.4C1846.7 967.8 1847.1 964.7 1847.4 962.7C1847.7 960.7 1847.4 958.1 1847.9 956.1C1848.4 954.1 1849.7 950.3 1850.9 949.4C1852.1 948.6 1854.9 949.4 1855.9 950.4C1857 951.4 1857.2 954.9 1857.9 956.1C1858.7 957.2 1858.2 958.3 1860.9 958C1863.6 957.6 1872.5 954.8 1875.9 953.7C1879.4 952.6 1882.1 950.8 1883.9 950.8C1885.7 950.9 1887.2 953 1887.9 954.2C1888.6 955.4 1888.9 957.7 1888.4 958.9C1888 960.2 1886.5 961.3 1884.9 962.3C1883.3 963.3 1881.4 964.1 1877.9 965.6C1874.5 967.1 1864.8 970.7 1861.9 972.3C1859 973.8 1859 974.7 1858.4 976.1C1857.8 977.5 1858.2 979.8 1857.9 981.8C1857.6 983.8 1857.2 987.4 1856.4 989.4C1855.7 991.4 1854.1 994 1852.9 995.1C1851.7 996.3 1849.5 997.5 1848.4 997C1847.3 996.6 1846.1 993.4 1845.4 992.3C1844.7 991.1 1844.2 989 1843.9 989.4C1843.6 989.8 1843.9 993.6 1843.4 995.1C1843 996.7 1841.9 999 1840.9 999.9C1839.9 1000.8 1838.1 1001.3 1836.9 1001.3C1835.7 1001.3 1833.9 1000.8 1832.9 999.9C1831.9 999 1830.9 996.7 1830.4 995.1C1830 993.6 1830.2 989.8 1829.9 989.4C1829.6 989 1829.1 991.1 1828.4 992.3C1827.7 993.4 1826.5 996.6 1825.4 997C1824.3 997.5 1822.1 996.3 1820.9 995.1C1819.7 994 1818.2 991.4 1817.4 989.4C1816.7 987.4 1816.2 983.8 1815.9 981.8C1815.6 979.8 1816 977.5 1815.4 976.1C1814.8 974.7 1814.8 973.8 1811.9 972.3C1809 970.7 1799.4 967.1 1795.9 965.6C1792.5 964.1 1790.5 963.3 1788.9 962.3C1787.3 961.3 1785.9 960.2 1785.4 958.9C1785 957.7 1785.2 955.4 1785.9 954.2C1786.6 953 1788.1 950.9 1789.9 950.8C1791.7 950.8 1794.5 952.6 1797.9 953.7C1801.4 954.8 1810.2 957.6 1812.9 958C1815.6 958.3 1815.2 957.2 1815.9 956.1C1816.7 954.9 1816.9 951.4 1817.9 950.4C1819 949.4 1821.7 948.6 1822.9 949.4C1824.1 950.3 1825.4 954.1 1825.9 956.1C1826.4 958.1 1826.1 960.7 1826.4 962.7C1826.7 964.7 1827.1 967.8 1827.9 969.4C1828.7 971 1830.6 972.5 1831.9 973.2C1833.2 973.9 1835.4 974.2 1836.9 974.2Z" fill="#f3ece7" stroke="#161d22" stroke-width="1.5" stroke-linejoin="round"/>
<path d="M1832.9 979.9C1832.7 981.3 1831.8 985.9 1831.9 988.5C1832 991 1832.6 993.7 1833.4 995.1C1834.2 996.6 1835.7 997 1836.9 997C1838.1 997 1839.6 996.6 1840.4 995.1C1841.2 993.7 1841.8 991 1841.9 988.5C1842 985.9 1841.1 981.3 1840.9 979.9" fill="none" stroke="#161d22" stroke-width="1.2" stroke-linecap="round"/>
<path d="M1837.3 925C1839.1 925 1841.8 924.7 1843.3 923.9C1844.8 923.2 1846.3 921.5 1847.2 920C1848.1 918.5 1848.4 915.8 1849.1 914.2C1849.8 912.6 1850.9 909.7 1852 909.3C1853.1 908.8 1855.6 910 1856.6 911.1C1857.5 912.3 1857.5 915.8 1858.2 916.9C1858.9 918.1 1859.6 919.2 1861.2 918.8C1862.8 918.4 1866.7 915.4 1869.1 914.3C1871.5 913.2 1875.3 911.2 1877.1 911.3C1878.9 911.3 1880.4 913.4 1881.1 914.6C1881.8 915.8 1882.1 918.2 1881.7 919.4C1881.3 920.6 1879.8 921.8 1878.3 922.8C1876.7 923.9 1873.7 924.8 1871.3 926.3C1869 927.9 1864.3 931.6 1862.4 933.3C1860.6 934.9 1859.6 935.9 1859 937.2C1858.4 938.5 1858.9 940.3 1858.6 942C1858.3 943.8 1857.9 947 1857.2 948.8C1856.5 950.6 1855 952.7 1853.8 953.7C1852.6 954.7 1850.5 956.1 1849.3 955.7C1848.2 955.3 1846.9 952.1 1846.3 950.9C1845.6 949.8 1845.1 947.6 1844.7 948.1C1844.3 948.5 1844.3 952.3 1843.8 953.9C1843.3 955.5 1842.3 957.9 1841.4 958.7C1840.5 959.6 1839 959.7 1837.9 959.8C1836.9 959.8 1835.3 959.7 1834.4 958.9C1833.5 958 1832.4 955.7 1831.8 954.1C1831.3 952.5 1831.1 948.7 1830.7 948.3C1830.3 947.9 1829.9 950.1 1829.3 951.2C1828.6 952.4 1827.5 955.6 1826.3 956.1C1825.2 956.6 1823 955.2 1821.8 954.2C1820.6 953.3 1819 951.2 1818.2 949.5C1817.4 947.8 1816.9 944.5 1816.6 942.7C1816.3 941 1816.6 939.2 1816 937.9C1815.4 936.6 1814.4 935.7 1812.5 934.1C1810.6 932.6 1805.8 929 1803.3 927.5C1800.9 926 1797.9 925.3 1796.3 924.3C1794.7 923.3 1793.2 922.2 1792.7 920.9C1792.3 919.7 1792.5 917.4 1793.1 916.1C1793.8 914.9 1795.3 912.8 1797.1 912.7C1798.9 912.6 1802.7 914.4 1805.1 915.4C1807.5 916.5 1811.5 919.3 1813.2 919.6C1814.9 920 1815.5 918.8 1816.2 917.6C1816.8 916.5 1816.7 913 1817.6 911.8C1818.4 910.6 1820.9 909.4 1822 909.8C1823.2 910.2 1824.3 913 1825.1 914.6C1825.9 916.2 1826.3 918.9 1827.2 920.3C1828.1 921.8 1829.8 923.4 1831.3 924.1C1832.8 924.8 1835.5 925 1837.3 925Z" fill="#f3ece7" stroke="#161d22" stroke-width="1.5" stroke-linejoin="round"/>
<path d="M1828.1 916.5C1827.9 918.6 1826.8 925.2 1826.9 929C1826.9 932.9 1827.8 937.2 1828.6 939.6C1829.3 942 1830.9 943.8 1831.6 943.5C1832.4 943.1 1832.6 937.3 1833 937.6C1833.4 937.9 1833.4 943.6 1834.2 945.3C1834.9 947.1 1836.5 948.2 1837.7 948.2C1838.9 948.2 1840.4 947 1841.2 945.2C1841.9 943.4 1841.6 937.8 1842 937.5C1842.4 937.1 1842.9 942.9 1843.6 943.2C1844.4 943.6 1845.8 941.8 1846.6 939.3C1847.3 936.9 1847.9 932.5 1847.9 928.7C1847.8 924.8 1846.4 918.2 1846.1 916.2" fill="none" stroke="#161d22" stroke-width="1.2" stroke-linecap="round"/>
<path d="M1833.6 880.5C1835.7 880.5 1838.8 880.4 1840.6 879.5C1842.4 878.6 1843.9 875.1 1845.6 874.5C1847.2 873.9 1850.3 874.3 1851.6 875.5C1852.9 876.7 1853.2 881.2 1854.1 882.5C1855 883.9 1858.1 884.7 1857.6 884.5C1857.1 884.3 1850.6 881.8 1850.6 881C1850.6 880.2 1856.1 878.8 1857.6 879C1859.1 879.2 1860.1 881.2 1860.6 882.5C1861 883.8 1861 886.4 1860.6 887.5C1860.1 888.6 1858.9 889.2 1857.6 890C1856.2 890.8 1851.4 891.7 1851.6 893C1851.8 894.3 1858.1 897.1 1858.6 898.5C1859.1 899.9 1855.7 901.1 1855.1 902.5C1854.5 903.8 1855 905.8 1854.6 907.5C1854.1 909.1 1853.1 912 1852.1 913.5C1851 914.9 1848.9 917.1 1847.6 917C1846.2 916.8 1844 912.4 1843.1 912.5C1842.2 912.5 1842.3 916.1 1841.6 917.5C1840.9 918.8 1839.8 920.7 1838.6 921.5C1837.4 922.2 1835.1 922.5 1833.6 922.5C1832.1 922.5 1829.8 922.2 1828.6 921.5C1827.4 920.7 1826.3 918.8 1825.6 917.5C1824.9 916.1 1825 912.5 1824.1 912.5C1823.2 912.4 1820.9 916.8 1819.6 917C1818.2 917.1 1816.1 914.9 1815.1 913.5C1814 912 1813 909.1 1812.6 907.5C1812.1 905.8 1812.7 903.8 1812.1 902.5C1811.5 901.1 1808.1 899.9 1808.6 898.5C1809.1 897.1 1815.4 894.3 1815.6 893C1815.8 891.7 1810.9 890.8 1809.6 890C1808.2 889.2 1807 888.6 1806.6 887.5C1806.1 886.4 1806.1 883.8 1806.6 882.5C1807 881.2 1808.1 879.2 1809.6 879C1811.1 878.8 1816.6 880.2 1816.6 881C1816.6 881.8 1810.1 884.3 1809.6 884.5C1809.1 884.7 1812.2 883.9 1813.1 882.5C1814 881.2 1814.3 876.7 1815.6 875.5C1816.9 874.3 1819.9 873.9 1821.6 874.5C1823.2 875.1 1824.8 878.6 1826.6 879.5C1828.4 880.4 1831.5 880.5 1833.6 880.5Z" fill="#f3ece7" stroke="#161d22" stroke-width="1.5" stroke-linejoin="round"/>
<path d="M1824.6 881.5C1824.3 883.7 1823.1 890.5 1823.1 894.5C1823.1 898.5 1823.8 903 1824.6 905.5C1825.3 908 1826.8 909.8 1827.6 909.5C1828.3 909.1 1828.7 903.2 1829.1 903.5C1829.5 903.8 1829.3 909.6 1830.1 911.5C1830.8 913.3 1832.4 914.5 1833.6 914.5C1834.8 914.5 1836.3 913.3 1837.1 911.5C1837.8 909.6 1837.7 903.8 1838.1 903.5C1838.5 903.2 1838.8 909.1 1839.6 909.5C1840.3 909.8 1841.8 908 1842.6 905.5C1843.3 903 1844.1 898.5 1844.1 894.5C1844.1 890.5 1842.8 883.7 1842.6 881.5" fill="none" stroke="#161d22" stroke-width="1.2" stroke-linecap="round"/>
<path d="M1834.7 849.7C1836.8 849.7 1839.9 849.6 1841.7 848.7C1843.5 847.8 1845 844.5 1846.7 843.9C1848.4 843.3 1851.4 843.7 1852.7 844.8C1854 846 1854.3 850.3 1855.2 851.6C1856.1 852.9 1859.1 853.7 1858.7 853.5C1858.3 853.3 1852.5 850.9 1852.7 850.1C1852.9 849.4 1858.2 848 1859.7 848.2C1861.2 848.4 1862.2 850.4 1862.7 851.6C1863.2 852.8 1863.2 855.3 1862.7 856.4C1862.2 857.5 1861 858 1859.7 858.8C1858.4 859.6 1853.7 860.5 1853.7 861.7C1853.7 862.9 1859.3 865.6 1859.7 867C1860.1 868.4 1856.8 869.6 1856.2 870.9C1855.6 872.2 1856.2 874.1 1855.7 875.7C1855.2 877.3 1854.2 880.1 1853.2 881.5C1852.2 882.8 1850 885 1848.7 884.8C1847.4 884.7 1845.1 880.4 1844.2 880.5C1843.3 880.6 1843.4 884 1842.7 885.3C1842 886.6 1840.9 888.5 1839.7 889.2C1838.5 889.9 1836.2 890.1 1834.7 890.1C1833.2 890.1 1830.9 889.9 1829.7 889.2C1828.5 888.5 1827.4 886.6 1826.7 885.3C1826 884 1826.1 880.6 1825.2 880.5C1824.3 880.4 1822 884.7 1820.7 884.8C1819.4 885 1817.2 882.8 1816.2 881.5C1815.2 880.1 1814.2 877.3 1813.7 875.7C1813.2 874.1 1813.8 872.2 1813.2 870.9C1812.6 869.6 1809.3 868.4 1809.7 867C1810.1 865.6 1815.7 862.9 1815.7 861.7C1815.7 860.5 1811 859.6 1809.7 858.8C1808.4 858 1807.2 857.5 1806.7 856.4C1806.2 855.3 1806.2 852.8 1806.7 851.6C1807.2 850.4 1808.2 848.4 1809.7 848.2C1811.2 848 1816.5 849.4 1816.7 850.1C1816.9 850.9 1811.1 853.3 1810.7 853.5C1810.3 853.7 1813.3 852.9 1814.2 851.6C1815.1 850.3 1815.4 846 1816.7 844.8C1818 843.7 1821 843.3 1822.7 843.9C1824.4 844.5 1825.9 847.8 1827.7 848.7C1829.5 849.6 1832.6 849.7 1834.7 849.7Z" fill="#f3ece7" stroke="#161d22" stroke-width="1.5" stroke-linejoin="round"/>
<path d="M1825.7 850.6C1825.5 852.7 1824.2 859.3 1824.2 863.2C1824.2 867 1825 871.3 1825.7 873.8C1826.5 876.2 1828 877.9 1828.7 877.6C1829.5 877.3 1829.8 871.5 1830.2 871.8C1830.6 872.1 1830.5 877.8 1831.2 879.5C1832 881.3 1833.5 882.4 1834.7 882.4C1835.9 882.4 1837.5 881.3 1838.2 879.5C1839 877.8 1838.8 872.1 1839.2 871.8C1839.6 871.5 1840 877.3 1840.7 877.6C1841.5 877.9 1843 876.2 1843.7 873.8C1844.5 871.3 1845.2 867 1845.2 863.2C1845.2 859.3 1844 852.7 1843.7 850.6" fill="none" stroke="#161d22" stroke-width="1.2" stroke-linecap="round"/>
<path d="M1837.1 816.9C1839.5 816.9 1842.9 812.6 1845.1 811.3C1847.3 810.1 1850.2 808.6 1851.7 808.6C1853.1 808.6 1854.4 810 1854.9 811.4C1855.5 812.9 1855 816.9 1855.4 818.2C1855.8 819.5 1856.8 819.7 1857.5 820C1858.1 820.3 1859.2 819.4 1859.7 820C1860.2 820.6 1860.6 822.6 1860.8 823.8C1861 825 1861.1 826.8 1861 828.1C1860.9 829.4 1860.4 831.7 1860 832.5C1859.6 833.3 1858.8 833.2 1858.3 833.4C1857.8 833.5 1856.9 833 1856.6 833.7C1856.3 834.4 1856.4 836.6 1856.3 838.1C1856.3 839.5 1856.9 842 1856.3 843.1C1855.7 844.2 1853.6 844.8 1852.3 845.6C1851.1 846.3 1849.2 847 1847.9 848C1846.6 849 1844.6 850.9 1843.5 852.3C1842.4 853.7 1841.2 855.3 1840.6 857.4C1840.1 859.4 1840.2 864.1 1840 866C1839.7 867.8 1839.3 868.9 1838.8 869.7C1838.3 870.4 1837.3 871 1836.6 871C1836 871 1834.9 870.4 1834.4 869.7C1833.9 868.9 1833.6 867.8 1833.4 865.9C1833.1 864.1 1833.3 859.3 1832.8 857.3C1832.3 855.2 1831.2 853.6 1830.1 852.2C1829 850.8 1827 848.8 1825.7 847.8C1824.4 846.8 1822.6 846 1821.3 845.3C1820.1 844.5 1818 843.9 1817.5 842.8C1816.9 841.6 1817.5 839.1 1817.5 837.7C1817.5 836.3 1817.6 834.1 1817.3 833.3C1817 832.6 1816.1 833.2 1815.6 833C1815.1 832.8 1814.3 832.9 1813.9 832.1C1813.5 831.3 1813.1 829 1813 827.7C1812.9 826.4 1813 824.6 1813.2 823.4C1813.4 822.2 1813.9 820.2 1814.4 819.6C1814.9 819 1816 819.9 1816.6 819.6C1817.3 819.4 1818.4 819.1 1818.8 817.9C1819.2 816.6 1818.8 812.6 1819.3 811.1C1819.9 809.7 1821.2 808.3 1822.7 808.3C1824.1 808.4 1827 809.9 1829.1 811.2C1831.3 812.5 1834.7 816.9 1837.1 816.9Z" fill="#f3ece7" stroke="#161d22" stroke-width="1.5" stroke-linejoin="round"/>
<path d="M1837.6 781.5C1840 781.5 1843.5 777 1845.6 775.7C1847.8 774.4 1850.7 772.9 1852.2 772.9C1853.6 772.9 1854.9 774.3 1855.4 775.8C1856 777.3 1855.4 781.5 1855.9 782.8C1856.3 784.2 1857.6 784.4 1858.5 784.7C1859.4 785 1861.2 784.1 1862 784.7C1862.8 785.3 1863.4 787.5 1863.7 788.7C1864 790 1864.2 791.8 1864 793.2C1863.8 794.5 1863.1 796.9 1862.5 797.7C1861.9 798.5 1860.6 798.4 1859.8 798.6C1859 798.8 1857.7 798.2 1857.2 798.9C1856.7 799.7 1856.9 802 1856.8 803.5C1856.7 805 1857.4 807.6 1856.8 808.7C1856.2 809.9 1854.1 810.5 1852.8 811.3C1851.6 812 1849.7 812.7 1848.4 813.8C1847.1 814.9 1845.1 816.8 1844 818.3C1842.9 819.8 1841.7 821.4 1841.1 823.5C1840.6 825.7 1840.7 830.6 1840.5 832.5C1840.2 834.4 1839.8 835.6 1839.3 836.4C1838.8 837.1 1837.8 837.7 1837.1 837.7C1836.4 837.7 1835.4 837.1 1834.9 836.3C1834.4 835.5 1834.1 834.4 1833.9 832.5C1833.6 830.5 1833.8 825.6 1833.3 823.5C1832.8 821.3 1831.6 819.7 1830.6 818.2C1829.5 816.7 1827.5 814.7 1826.2 813.6C1824.9 812.5 1823.1 811.8 1821.8 811C1820.6 810.2 1818.5 809.6 1818 808.4C1817.4 807.2 1818 804.6 1818 803.2C1818 801.7 1818.1 799.3 1817.7 798.6C1817.2 797.9 1815.8 798.4 1815.1 798.2C1814.3 798 1813 798.1 1812.4 797.3C1811.8 796.4 1811.2 794.1 1811 792.7C1810.8 791.4 1811 789.5 1811.3 788.3C1811.7 787 1812.3 784.9 1813.1 784.3C1813.9 783.7 1815.7 784.6 1816.6 784.4C1817.6 784.1 1818.8 783.8 1819.3 782.5C1819.8 781.2 1819.3 777 1819.8 775.5C1820.4 774 1821.7 772.6 1823.2 772.6C1824.6 772.6 1827.5 774.3 1829.6 775.6C1831.8 776.9 1835.2 781.5 1837.6 781.5Z" fill="#f3ece7" stroke="#161d22" stroke-width="1.5" stroke-linejoin="round"/>
<path d="M1838 746.5C1840.4 746.5 1843.9 742 1846.1 740.7C1848.3 739.4 1851.1 737.8 1852.6 737.8C1854.1 737.8 1855.3 739.3 1855.9 740.7C1856.4 742.2 1855.8 746.4 1856.3 747.7C1856.9 749.1 1858.3 749.3 1859.6 749.6C1860.8 749.9 1863.5 749 1864.6 749.6C1865.7 750.2 1866.6 752.4 1867.1 753.6C1867.5 754.9 1867.7 756.7 1867.5 758.1C1867.2 759.4 1866.3 761.8 1865.4 762.6C1864.5 763.4 1862.7 763.3 1861.6 763.5C1860.5 763.7 1858.5 763.1 1857.8 763.9C1857.2 764.6 1857.4 766.9 1857.4 768.4C1857.3 769.9 1857.9 772.5 1857.3 773.7C1856.7 774.8 1854.7 775.4 1853.4 776.2C1852.2 777 1850.3 777.7 1849 778.7C1847.7 779.8 1845.7 781.8 1844.6 783.3C1843.5 784.7 1842.3 786.4 1841.8 788.5C1841.2 790.7 1841.4 795.6 1841.1 797.5C1840.9 799.4 1840.5 800.6 1840 801.3C1839.5 802.1 1838.5 802.7 1837.8 802.7C1837.1 802.7 1836.1 802.1 1835.6 801.3C1835.1 800.5 1834.8 799.4 1834.5 797.5C1834.3 795.5 1834.5 790.6 1834 788.5C1833.5 786.3 1832.3 784.7 1831.2 783.2C1830.1 781.7 1828.1 779.7 1826.8 778.7C1825.5 777.6 1823.7 776.8 1822.4 776.1C1821.2 775.3 1819.1 774.7 1818.5 773.5C1817.9 772.3 1818.6 769.7 1818.6 768.2C1818.5 766.8 1818.7 764.4 1818.1 763.7C1817.5 762.9 1815.5 763.5 1814.3 763.3C1813.2 763.1 1811.5 763.2 1810.6 762.4C1809.7 761.5 1808.7 759.2 1808.5 757.8C1808.3 756.5 1808.5 754.6 1809 753.4C1809.4 752.1 1810.3 750 1811.5 749.4C1812.6 748.8 1815.3 749.7 1816.5 749.4C1817.7 749.2 1819.2 748.9 1819.7 747.6C1820.3 746.3 1819.7 742.1 1820.3 740.6C1820.8 739.1 1822.1 737.7 1823.6 737.7C1825.1 737.7 1827.9 739.3 1830.1 740.6C1832.2 742 1835.6 746.5 1838 746.5Z" fill="#f3ece7" stroke="#161d22" stroke-width="1.5" stroke-linejoin="round"/>
<path d="M1838 711.6C1840.4 711.7 1843.9 707.2 1846.1 705.9C1848.3 704.6 1851.1 703.1 1852.6 703.1C1854.1 703.1 1855.3 704.5 1855.9 706C1856.4 707.4 1855.7 711.6 1856.3 712.9C1857 714.2 1858.6 714.5 1860.2 714.7C1861.7 715 1865.3 714.2 1866.7 714.8C1868.2 715.4 1869.4 717.4 1869.9 718.7C1870.5 719.9 1870.8 721.7 1870.5 723.1C1870.2 724.4 1868.9 726.7 1867.7 727.5C1866.6 728.3 1864.3 728.3 1862.8 728.4C1861.4 728.6 1858.8 728 1858 728.8C1857.1 729.5 1857.4 731.8 1857.4 733.2C1857.3 734.7 1857.9 737.3 1857.3 738.4C1856.7 739.6 1854.7 740.2 1853.4 740.9C1852.2 741.7 1850.3 742.4 1849 743.4C1847.7 744.5 1845.7 746.5 1844.6 747.9C1843.5 749.3 1842.3 751 1841.8 753.1C1841.2 755.2 1841.4 760 1841.1 761.9C1840.9 763.8 1840.5 764.9 1840 765.7C1839.5 766.5 1838.5 767.1 1837.8 767.1C1837.1 767.1 1836.1 766.5 1835.6 765.7C1835.1 764.9 1834.8 763.8 1834.5 761.9C1834.3 760 1834.5 755.1 1834 753C1833.5 750.9 1832.3 749.3 1831.2 747.8C1830.1 746.4 1828.1 744.4 1826.8 743.3C1825.5 742.3 1823.7 741.6 1822.4 740.8C1821.2 740 1819.1 739.4 1818.5 738.2C1817.9 737.1 1818.6 734.5 1818.6 733.1C1818.5 731.6 1818.8 729.3 1818 728.6C1817.2 727.9 1814.6 728.4 1813.1 728.2C1811.6 728 1809.4 728.1 1808.2 727.3C1807.1 726.5 1805.8 724.1 1805.5 722.8C1805.2 721.4 1805.5 719.7 1806.1 718.4C1806.7 717.2 1807.9 715.1 1809.3 714.5C1810.8 713.9 1814.3 714.8 1815.9 714.5C1817.5 714.3 1819.1 714 1819.7 712.7C1820.4 711.4 1819.7 707.3 1820.3 705.8C1820.8 704.4 1822.1 703 1823.6 703C1825.1 703 1827.9 704.6 1830.1 705.9C1832.2 707.2 1835.6 711.6 1838 711.6Z" fill="#f3ece7" stroke="#161d22" stroke-width="1.5" stroke-linejoin="round"/>
<path d="M1838.5 677.9C1840.9 678 1844.4 673.6 1846.6 672.4C1848.8 671.2 1851.6 669.6 1853.1 669.6C1854.6 669.6 1855.8 671 1856.4 672.4C1856.9 673.9 1856.2 677.9 1856.8 679.1C1857.5 680.4 1859.2 680.7 1860.8 681C1862.4 681.2 1866.1 680.4 1867.6 681C1869.1 681.6 1870.3 683.6 1870.9 684.8C1871.5 686 1871.8 687.8 1871.5 689C1871.2 690.3 1869.8 692.6 1868.6 693.4C1867.4 694.2 1865.1 694.1 1863.6 694.3C1862 694.4 1859.3 693.9 1858.5 694.6C1857.6 695.3 1857.9 697.5 1857.9 698.9C1857.8 700.3 1858.4 702.8 1857.8 703.9C1857.2 705.1 1855.2 705.7 1853.9 706.4C1852.7 707.1 1850.8 707.8 1849.5 708.8C1848.2 709.8 1846.2 711.8 1845.1 713.2C1844 714.6 1842.8 716.1 1842.3 718.2C1841.7 720.2 1841.9 724.9 1841.6 726.8C1841.4 728.6 1841 729.7 1840.5 730.4C1840 731.2 1839 731.8 1838.3 731.8C1837.6 731.8 1836.6 731.2 1836.1 730.4C1835.6 729.7 1835.3 728.6 1835 726.7C1834.8 724.9 1835 720.2 1834.5 718.1C1834 716.1 1832.8 714.5 1831.7 713.1C1830.6 711.7 1828.6 709.7 1827.3 708.7C1826 707.7 1824.2 707 1822.9 706.2C1821.7 705.5 1819.6 704.9 1819 703.8C1818.4 702.6 1819.1 700.2 1819.1 698.7C1819 697.3 1819.3 695.1 1818.5 694.4C1817.6 693.7 1814.9 694.2 1813.4 694C1811.9 693.8 1809.5 693.9 1808.3 693.1C1807.1 692.3 1805.8 690 1805.5 688.7C1805.2 687.5 1805.5 685.7 1806.1 684.5C1806.7 683.3 1808 681.3 1809.5 680.7C1811 680.2 1814.7 681 1816.3 680.8C1817.9 680.5 1819.6 680.3 1820.2 679C1820.9 677.7 1820.2 673.7 1820.8 672.3C1821.3 670.9 1822.6 669.5 1824.1 669.5C1825.6 669.5 1828.4 671.1 1830.6 672.3C1832.7 673.6 1836.1 677.9 1838.5 677.9Z" fill="#f3ece7" stroke="#161d22" stroke-width="1.5" stroke-linejoin="round"/>
<path d="M1838.5 645.4C1840.9 645.4 1844.3 641.3 1846.5 640.1C1848.7 638.9 1851.5 637.4 1853 637.4C1854.5 637.4 1855.7 638.7 1856.3 640.1C1856.9 641.4 1856.1 645.3 1856.8 646.5C1857.5 647.7 1859.1 647.9 1860.7 648.2C1862.4 648.4 1866 647.6 1867.5 648.2C1869.1 648.7 1870.3 650.6 1870.9 651.8C1871.5 653 1871.8 654.6 1871.5 655.9C1871.2 657.1 1869.8 659.3 1868.7 660C1867.5 660.8 1865.1 660.7 1863.6 660.9C1862.1 661 1859.4 660.5 1858.5 661.2C1857.7 661.9 1858 664 1857.9 665.3C1857.8 666.7 1858.5 669.1 1857.9 670.1C1857.3 671.2 1855.2 671.8 1854 672.5C1852.8 673.2 1850.9 673.9 1849.6 674.8C1848.3 675.8 1846.3 677.7 1845.2 679C1844.1 680.3 1842.9 681.8 1842.4 683.8C1841.9 685.8 1842.1 690.3 1841.8 692C1841.5 693.8 1841.2 694.8 1840.7 695.5C1840.2 696.3 1839.2 696.8 1838.5 696.8C1837.8 696.8 1836.8 696.3 1836.3 695.5C1835.8 694.8 1835.5 693.8 1835.2 692C1834.9 690.3 1835.1 685.8 1834.6 683.8C1834.1 681.8 1832.9 680.3 1831.8 679C1830.7 677.7 1828.7 675.8 1827.4 674.8C1826.1 673.9 1824.2 673.2 1823 672.5C1821.8 671.8 1819.7 671.2 1819.1 670.1C1818.5 669.1 1819.2 666.7 1819.1 665.3C1819 664 1819.3 661.9 1818.5 661.2C1817.6 660.5 1814.9 661 1813.4 660.9C1811.9 660.7 1809.5 660.8 1808.3 660C1807.2 659.3 1805.8 657.1 1805.5 655.9C1805.2 654.6 1805.5 653 1806.1 651.8C1806.7 650.6 1807.9 648.7 1809.5 648.2C1811 647.6 1814.6 648.4 1816.3 648.2C1817.9 647.9 1819.5 647.7 1820.2 646.5C1820.9 645.3 1820.1 641.4 1820.7 640.1C1821.3 638.7 1822.5 637.4 1824 637.4C1825.5 637.4 1828.3 638.9 1830.5 640.1C1832.7 641.3 1836.1 645.4 1838.5 645.4Z" fill="#f3ece7" stroke="#161d22" stroke-width="1.5" stroke-linejoin="round"/>
<path d="M1838.5 615.3C1840.9 615.3 1844.3 611.6 1846.5 610.5C1848.7 609.4 1851.5 608 1853 608C1854.5 608 1855.7 609.2 1856.3 610.5C1856.9 611.7 1856.1 615.2 1856.8 616.3C1857.5 617.4 1859.1 617.6 1860.7 617.8C1862.4 618 1866 617.3 1867.5 617.8C1869.1 618.3 1870.3 620.1 1870.9 621.1C1871.5 622.1 1871.8 623.7 1871.5 624.8C1871.2 625.9 1869.8 627.9 1868.7 628.5C1867.5 629.2 1865.1 629.2 1863.6 629.3C1862.1 629.5 1859.4 629 1858.5 629.6C1857.7 630.2 1858 632.2 1857.9 633.4C1857.8 634.6 1858.5 636.8 1857.9 637.7C1857.3 638.7 1855.2 639.2 1854 639.9C1852.8 640.5 1850.9 641.1 1849.6 642C1848.3 642.9 1846.3 644.5 1845.2 645.8C1844.1 647 1842.9 648.3 1842.4 650.1C1841.9 651.9 1842.1 655.9 1841.8 657.5C1841.5 659.1 1841.2 660.1 1840.7 660.7C1840.2 661.4 1839.2 661.9 1838.5 661.9C1837.8 661.9 1836.8 661.4 1836.3 660.7C1835.8 660.1 1835.5 659.1 1835.2 657.5C1834.9 655.9 1835.1 651.9 1834.6 650.1C1834.1 648.3 1832.9 647 1831.8 645.8C1830.7 644.5 1828.7 642.9 1827.4 642C1826.1 641.1 1824.2 640.5 1823 639.9C1821.8 639.2 1819.7 638.7 1819.1 637.7C1818.5 636.8 1819.2 634.6 1819.1 633.4C1819 632.2 1819.3 630.2 1818.5 629.6C1817.6 629 1814.9 629.5 1813.4 629.3C1811.9 629.2 1809.5 629.2 1808.3 628.5C1807.2 627.9 1805.8 625.9 1805.5 624.8C1805.2 623.7 1805.5 622.1 1806.1 621.1C1806.7 620.1 1807.9 618.3 1809.5 617.8C1811 617.3 1814.6 618 1816.3 617.8C1817.9 617.6 1819.5 617.4 1820.2 616.3C1820.9 615.2 1820.1 611.7 1820.7 610.5C1821.3 609.2 1822.5 608 1824 608C1825.5 608 1828.3 609.4 1830.5 610.5C1832.7 611.6 1836.1 615.3 1838.5 615.3Z" fill="#f3ece7" stroke="#161d22" stroke-width="1.5" stroke-linejoin="round"/>
<path d="M1838.5 588.6C1840.9 588.6 1844.3 585 1846.5 583.9C1848.7 582.9 1851.5 581.6 1853 581.6C1854.5 581.6 1855.7 582.7 1856.3 583.9C1856.9 585.1 1856.1 588.5 1856.8 589.5C1857.5 590.6 1859.1 590.8 1860.7 591C1862.4 591.3 1866 590.6 1867.5 591C1869.1 591.5 1870.3 593.2 1870.9 594.2C1871.5 595.2 1871.8 596.7 1871.5 597.7C1871.2 598.8 1869.8 600.7 1868.7 601.4C1867.5 602 1865.1 602 1863.6 602.1C1862.1 602.3 1859.4 601.8 1858.5 602.4C1857.7 603 1858 604.9 1857.9 606.1C1857.8 607.2 1858.5 609.3 1857.9 610.3C1857.3 611.2 1855.2 611.7 1854 612.3C1852.8 612.9 1850.9 613.5 1849.6 614.4C1848.3 615.2 1846.3 616.8 1845.2 618C1844.1 619.2 1842.9 620.5 1842.4 622.2C1841.9 623.9 1842.1 627.8 1841.8 629.4C1841.5 630.9 1841.2 631.8 1840.7 632.5C1840.2 633.1 1839.2 633.6 1838.5 633.6C1837.8 633.6 1836.8 633.1 1836.3 632.5C1835.8 631.8 1835.5 630.9 1835.2 629.4C1834.9 627.8 1835.1 623.9 1834.6 622.2C1834.1 620.5 1832.9 619.2 1831.8 618C1830.7 616.8 1828.7 615.2 1827.4 614.4C1826.1 613.5 1824.2 612.9 1823 612.3C1821.8 611.7 1819.7 611.2 1819.1 610.3C1818.5 609.3 1819.2 607.2 1819.1 606.1C1819 604.9 1819.3 603 1818.5 602.4C1817.6 601.8 1814.9 602.3 1813.4 602.1C1811.9 602 1809.5 602 1808.3 601.4C1807.2 600.7 1805.8 598.8 1805.5 597.7C1805.2 596.7 1805.5 595.2 1806.1 594.2C1806.7 593.2 1807.9 591.5 1809.5 591C1811 590.6 1814.6 591.3 1816.3 591C1817.9 590.8 1819.5 590.6 1820.2 589.5C1820.9 588.5 1820.1 585.1 1820.7 583.9C1821.3 582.7 1822.5 581.6 1824 581.6C1825.5 581.6 1828.3 582.9 1830.5 583.9C1832.7 585 1836.1 588.6 1838.5 588.6Z" fill="#f3ece7" stroke="#161d22" stroke-width="1.5" stroke-linejoin="round"/>
<path d="M1838.5 554C1842.8 554 1848.6 553.1 1852.7 553C1856.8 552.9 1863 553.3 1865.9 553.5C1868.8 553.7 1870.8 552.9 1872 554.5C1873.1 556.1 1873.3 561.1 1873.5 564C1873.7 566.9 1874 572.2 1873 574C1872 575.8 1869 575.3 1866.9 576C1864.8 576.7 1861.1 577.5 1858.8 578.5C1856.5 579.5 1853.7 581.5 1851.7 582.5C1849.6 583.5 1846.5 584.2 1845.1 585C1843.7 585.8 1842.9 586 1842.4 587.5C1841.9 589 1842 593.4 1841.7 595C1841.5 596.6 1841 597.4 1840.5 598C1840 598.6 1839.1 599 1838.5 599C1837.9 599 1837 598.6 1836.5 598C1836 597.4 1835.5 596.6 1835.3 595C1835 593.4 1835.1 589 1834.6 587.5C1834.1 586 1833.3 585.8 1831.9 585C1830.5 584.2 1827.4 583.5 1825.3 582.5C1823.3 581.5 1820.5 579.5 1818.2 578.5C1815.9 577.5 1812.2 576.7 1810.1 576C1808 575.3 1805 575.8 1804 574C1803 572.2 1803.3 566.9 1803.5 564C1803.7 561.1 1803.9 556.1 1805 554.5C1806.2 552.9 1808.2 553.7 1811.1 553.5C1814 553.3 1820.2 552.9 1824.3 553C1828.4 553.1 1834.2 554 1838.5 554Z" fill="#f3ece7" stroke="#161d22" stroke-width="1.5" stroke-linejoin="round"/>
<path d="M1811.1 554C1811.2 555.8 1811.7 561.4 1811.6 565C1811.5 568.6 1810.8 573.8 1810.6 575.5" fill="none" stroke="#161d22" stroke-width="1.2"/>
<path d="M1865.9 554C1865.8 555.8 1865.3 561.4 1865.4 565C1865.5 568.6 1866.2 573.8 1866.4 575.5" fill="none" stroke="#161d22" stroke-width="1.2"/>
<path d="M1838.5 523.5C1842.6 523.5 1848.3 522.6 1852.3 522.5C1856.3 522.4 1862.3 522.8 1865.1 523C1867.9 523.2 1869.9 522.4 1871 524C1872.1 525.5 1872.4 530.3 1872.5 533.1C1872.6 536 1873 541.1 1872 542.8C1871 544.5 1868.2 544.1 1866.1 544.7C1864 545.4 1860.4 546.2 1858.2 547.1C1856 548.1 1853.3 550.1 1851.3 551C1849.3 552 1846.3 552.7 1844.9 553.4C1843.5 554.2 1842.7 554.4 1842.2 555.9C1841.8 557.3 1841.9 561.6 1841.7 563.1C1841.4 564.6 1840.9 565.4 1840.5 566C1840 566.6 1839.1 567 1838.5 567C1837.9 567 1837 566.6 1836.5 566C1836.1 565.4 1835.6 564.6 1835.3 563.1C1835.1 561.6 1835.2 557.3 1834.8 555.9C1834.3 554.4 1833.5 554.2 1832.1 553.4C1830.7 552.7 1827.7 552 1825.7 551C1823.7 550.1 1821 548.1 1818.8 547.1C1816.6 546.2 1813 545.4 1810.9 544.7C1808.8 544.1 1806 544.5 1805 542.8C1804 541.1 1804.4 536 1804.5 533.1C1804.6 530.3 1804.9 525.5 1806 524C1807.1 522.4 1809.1 523.2 1811.9 523C1814.7 522.8 1820.7 522.4 1824.7 522.5C1828.7 522.6 1834.4 523.5 1838.5 523.5Z" fill="#f3ece7" stroke="#161d22" stroke-width="1.5" stroke-linejoin="round"/>
<path d="M1811.9 523.5C1812 525.2 1812.5 530.6 1812.4 534.1C1812.3 537.6 1811.6 542.6 1811.4 544.2" fill="none" stroke="#161d22" stroke-width="1.2"/>
<path d="M1865.1 523.5C1865 525.2 1864.5 530.6 1864.6 534.1C1864.7 537.6 1865.4 542.6 1865.6 544.2" fill="none" stroke="#161d22" stroke-width="1.2"/>
<path d="M1838.5 499.5C1842.5 499.5 1848 498.8 1851.9 498.8C1855.8 498.7 1861.6 499 1864.3 499.1C1867.1 499.3 1869 498.7 1870.1 499.9C1871.1 501.1 1871.4 504.8 1871.5 507C1871.6 509.2 1872 513.1 1871 514.5C1870.1 515.9 1867.3 515.5 1865.3 516C1863.3 516.5 1859.8 517.1 1857.6 517.9C1855.5 518.6 1852.9 520.1 1850.9 520.9C1849 521.6 1846 522.2 1844.7 522.8C1843.4 523.3 1842.6 523.5 1842.1 524.6C1841.7 525.8 1841.8 529.1 1841.6 530.2C1841.3 531.4 1840.9 532 1840.4 532.5C1840 533 1839.1 533.2 1838.5 533.2C1837.9 533.2 1837 533 1836.6 532.5C1836.1 532 1835.7 531.4 1835.4 530.2C1835.2 529.1 1835.3 525.8 1834.9 524.6C1834.4 523.5 1833.6 523.3 1832.3 522.8C1831 522.2 1828 521.6 1826.1 520.9C1824.1 520.1 1821.5 518.6 1819.4 517.9C1817.2 517.1 1813.7 516.5 1811.7 516C1809.7 515.5 1806.9 515.9 1806 514.5C1805 513.1 1805.4 509.2 1805.5 507C1805.6 504.8 1805.9 501.1 1806.9 499.9C1808 498.7 1809.9 499.3 1812.7 499.1C1815.4 499 1821.2 498.7 1825.1 498.8C1829 498.8 1834.5 499.5 1838.5 499.5Z" fill="#f3ece7" stroke="#161d22" stroke-width="1.5" stroke-linejoin="round"/>
<path d="M1812.7 499.5C1812.8 500.9 1813.2 505.1 1813.2 507.8C1813.1 510.4 1812.4 514.3 1812.2 515.6" fill="none" stroke="#161d22" stroke-width="1.2"/>
<path d="M1864.3 499.5C1864.2 500.9 1863.8 505.1 1863.8 507.8C1863.9 510.4 1864.6 514.3 1864.8 515.6" fill="none" stroke="#161d22" stroke-width="1.2"/>
<path d="M1838.5 483.6C1842.4 483.6 1847.7 483 1851.5 483C1855.2 483 1860.9 483.2 1863.5 483.3C1866.2 483.4 1868.1 483 1869.1 483.9C1870.2 484.8 1870.4 487.8 1870.5 489.6C1870.6 491.4 1870.9 494.5 1870 495.6C1869.1 496.7 1866.4 496.4 1864.5 496.8C1862.5 497.2 1859.1 497.7 1857.1 498.3C1855 498.9 1852.4 500.1 1850.6 500.7C1848.7 501.3 1845.8 501.8 1844.5 502.2C1843.2 502.6 1842.5 502.8 1842 503.7C1841.6 504.6 1841.7 507.3 1841.5 508.2C1841.2 509.1 1840.8 509.6 1840.4 510C1839.9 510.4 1839.1 510.6 1838.5 510.6C1837.9 510.6 1837.1 510.4 1836.6 510C1836.2 509.6 1835.8 509.1 1835.5 508.2C1835.3 507.3 1835.4 504.6 1835 503.7C1834.5 502.8 1833.8 502.6 1832.5 502.2C1831.2 501.8 1828.3 501.3 1826.4 500.7C1824.6 500.1 1822 498.9 1819.9 498.3C1817.9 497.7 1814.5 497.2 1812.5 496.8C1810.6 496.4 1807.9 496.7 1807 495.6C1806.1 494.5 1806.4 491.4 1806.5 489.6C1806.6 487.8 1806.8 484.8 1807.9 483.9C1808.9 483 1810.8 483.4 1813.5 483.3C1816.1 483.2 1821.8 483 1825.5 483C1829.3 483 1834.6 483.6 1838.5 483.6Z" fill="#f3ece7" stroke="#161d22" stroke-width="1.5" stroke-linejoin="round"/>
<path d="M1813.5 483.6C1813.5 484.7 1814 488.1 1813.9 490.2C1813.8 492.3 1813.1 495.4 1813 496.5" fill="none" stroke="#161d22" stroke-width="1.2"/>
<path d="M1863.5 483.6C1863.5 484.7 1863 488.1 1863.1 490.2C1863.2 492.3 1863.9 495.4 1864 496.5" fill="none" stroke="#161d22" stroke-width="1.2"/>
<path d="M1811 474C1815.8 472.7 1829 473 1838 473C1847 473 1860.2 472.7 1865 474C1869.8 475.3 1865.3 479.2 1867 481C1868.7 482.8 1873.2 483.7 1875 485C1876.8 486.3 1878.3 487.8 1878 489C1877.7 490.2 1875.2 491.8 1873 492C1870.8 492.2 1868.6 489.7 1865 490C1861.4 490.3 1856 494 1851.5 494C1847 494 1842.5 490 1838 490C1833.5 490 1829 494 1824.5 494C1820 494 1814.6 490.3 1811 490C1807.4 489.7 1805.2 492.2 1803 492C1800.8 491.8 1798.3 490.2 1798 489C1797.7 487.8 1799.2 486.3 1801 485C1802.8 483.7 1807.3 482.8 1809 481C1810.7 479.2 1806.2 475.3 1811 474Z" fill="#f3ece7" stroke="#3b4a55" stroke-width="1.3" stroke-linejoin="round"/>
<path d="M1810.5 458C1815.3 456.5 1828.8 457 1838 457C1847.2 457 1860.7 456.5 1865.5 458C1870.3 459.5 1867 463.3 1867 466C1867 468.7 1867.8 472.2 1865.5 474C1863.2 475.8 1856.6 477.3 1853.1 477C1849.7 476.7 1847.4 472.3 1844.9 472C1842.4 471.7 1840.3 475 1838 475C1835.7 475 1833.6 471.7 1831.1 472C1828.6 472.3 1826.3 476.7 1822.9 477C1819.4 477.3 1812.8 475.8 1810.5 474C1808.2 472.2 1809 468.7 1809 466C1809 463.3 1805.7 459.5 1810.5 458Z" fill="#f3ece7" stroke="#3b4a55" stroke-width="1.3" stroke-linejoin="round"/>
<path d="M1811 442C1815.8 440.5 1829 441 1838 441C1847 441 1860.2 440.5 1865 442C1869.8 443.5 1866.5 447.3 1866.5 450C1866.5 452.7 1867.3 456.2 1865 458C1862.7 459.8 1856.2 461.3 1852.8 461C1849.5 460.7 1847.2 456.3 1844.8 456C1842.3 455.7 1840.2 459 1838 459C1835.8 459 1833.7 455.7 1831.2 456C1828.8 456.3 1826.5 460.7 1823.2 461C1819.8 461.3 1813.3 459.8 1811 458C1808.7 456.2 1809.5 452.7 1809.5 450C1809.5 447.3 1806.2 443.5 1811 442Z" fill="#f3ece7" stroke="#3b4a55" stroke-width="1.3" stroke-linejoin="round"/>
<path d="M1811 426C1815.8 424.5 1829 425 1838 425C1847 425 1860.2 424.5 1865 426C1869.8 427.5 1866.5 431.3 1866.5 434C1866.5 436.7 1867.3 440.2 1865 442C1862.7 443.8 1856.2 445.3 1852.8 445C1849.5 444.7 1847.2 440.3 1844.8 440C1842.3 439.7 1840.2 443 1838 443C1835.8 443 1833.7 439.7 1831.2 440C1828.8 440.3 1826.5 444.7 1823.2 445C1819.8 445.3 1813.3 443.8 1811 442C1808.7 440.2 1809.5 436.7 1809.5 434C1809.5 431.3 1806.2 427.5 1811 426Z" fill="#f3ece7" stroke="#3b4a55" stroke-width="1.3" stroke-linejoin="round"/>
<linearGradient id="rg1" gradientUnits="userSpaceOnUse" x1="677.8" y1="705.9" x2="694.7" y2="707.6"><stop offset="0" stop-color="#bdbdbd"/><stop offset="0.12" stop-color="#d2d2d2"/><stop offset="0.32" stop-color="#c2c2c2"/><stop offset="0.48" stop-color="#a3a3a3"/><stop offset="0.75" stop-color="#9c9c9c"/><stop offset="0.88" stop-color="#767676"/><stop offset="1" stop-color="#5c5c5c"/></linearGradient>
<path d="M692.5 645.5C693.8 645.5 697.2 647.3 698.2 648.5C699.2 649.7 700.8 652.8 701 655.5C701.2 658.2 701 665.1 700.3 672C699.6 678.9 696.2 705.1 695 715C693.8 724.9 690.9 750.9 690 756.7C689.1 762.5 688.2 763.7 687 765C685.8 766.3 681.6 768 680 768C678.4 768 674 766.3 673 765C672 763.7 670.5 762.5 671 756.7C671.5 750.9 675.6 724.9 677 715C678.4 705.1 682.3 678.8 683.3 672C684.3 665.2 684.8 659.7 685.3 657C685.8 654.3 686.5 649.8 687.3 648.5C688.1 647.2 691.2 645.5 692.5 645.5Z" fill="url(#rg1)" stroke="#1e1e1e" stroke-width="1.8" stroke-linejoin="round"/>
<circle cx="685.5" cy="740" r="2.7" fill="#8a8a8a" stroke="#1e1e1e" stroke-width="1.2"/>
<circle cx="683.3" cy="750.5" r="2.7" fill="#8a8a8a" stroke="#1e1e1e" stroke-width="1.2"/>
<clipPath id="cl7416"><path d="M665.5 768.9L672.2 766L683.3 768.9L686 772.2L685 783.3L674.4 787.2L666.7 785.5L665 781L670.5 777.8L670.5 772.2Z"/></clipPath>
<path d="M665.5 768.9L672.2 766L683.3 768.9L686 772.2L685 783.3L674.4 787.2L666.7 785.5L665 781L670.5 777.8L670.5 772.2Z" fill="#a9a9a9"/>
<g clip-path="url(#cl7416)">
<rect x="665" y="766" width="8.8" height="21.2" fill="#c4c4c4"/>
<line x1="673.8" y1="766" x2="673.8" y2="787.2" stroke="#1e1e1e" stroke-width="0.9"/>
<rect x="665" y="782.1" width="21" height="5.1" fill="#868686"/>
<line x1="665" y1="782.1" x2="686" y2="782.1" stroke="#1e1e1e" stroke-width="1"/>
</g>
<path d="M665.5 768.9L672.2 766L683.3 768.9L686 772.2L685 783.3L674.4 787.2L666.7 785.5L665 781L670.5 777.8L670.5 772.2Z" fill="none" stroke="#1e1e1e" stroke-width="1.7" stroke-linejoin="round"/>
<circle cx="682.2" cy="776" r="2.9" fill="#bdbdbd" stroke="#1e1e1e" stroke-width="1.2"/><circle cx="682.2" cy="776" r="1.8" fill="#c9c9c9" stroke="#1e1e1e" stroke-width="1"/><circle cx="682.2" cy="776" r="0.7" fill="#e6e6e6"/>
<clipPath id="cl7432"><path d="M685.5 627.8L693.3 622.2L700 624.4L704.4 628.9L704.4 644.4L698.9 646.7L687.8 646L681 643.3L681 638.9L686.7 635.5Z"/></clipPath>
<path d="M685.5 627.8L693.3 622.2L700 624.4L704.4 628.9L704.4 644.4L698.9 646.7L687.8 646L681 643.3L681 638.9L686.7 635.5Z" fill="#a9a9a9"/>
<g clip-path="url(#cl7432)">
<rect x="681" y="622.2" width="9.8" height="24.5" fill="#c4c4c4"/>
<line x1="690.8" y1="622.2" x2="690.8" y2="646.7" stroke="#1e1e1e" stroke-width="0.9"/>
<rect x="681" y="640.8" width="23.4" height="5.9" fill="#868686"/>
<line x1="681" y1="640.8" x2="704.4" y2="640.8" stroke="#1e1e1e" stroke-width="1"/>
</g>
<path d="M685.5 627.8L693.3 622.2L700 624.4L704.4 628.9L704.4 644.4L698.9 646.7L687.8 646L681 643.3L681 638.9L686.7 635.5Z" fill="none" stroke="#1e1e1e" stroke-width="1.7" stroke-linejoin="round"/>
<circle cx="701.7" cy="635" r="2.9" fill="#bdbdbd" stroke="#1e1e1e" stroke-width="1.2"/><circle cx="701.7" cy="635" r="1.8" fill="#c9c9c9" stroke="#1e1e1e" stroke-width="1"/><circle cx="701.7" cy="635" r="0.7" fill="#e6e6e6"/>
<linearGradient id="rg2" gradientUnits="userSpaceOnUse" x1="624.7" y1="892.8" x2="632.2" y2="893.2"><stop offset="0" stop-color="#cdcdcd"/><stop offset="0.1" stop-color="#dbdbdb"/><stop offset="0.3" stop-color="#cecece"/><stop offset="0.45" stop-color="#ababab"/><stop offset="0.72" stop-color="#a7a7a7"/><stop offset="0.8" stop-color="#b3b3b3"/><stop offset="0.87" stop-color="#6c6c6c"/><stop offset="1" stop-color="#505050"/></linearGradient>
<path d="M630.6 797.8L618.7 987.8L626.3 988.2L638.2 798.2Z" fill="url(#rg2)" stroke="#1e1e1e" stroke-width="1.8" stroke-linejoin="round"/>
<circle cx="622.5" cy="988" r="3.6" fill="#8d8d8d" stroke="#1e1e1e" stroke-width="1.5"/>
<linearGradient id="rg3" gradientUnits="userSpaceOnUse" x1="624.8" y1="890.3" x2="632.4" y2="890.7"><stop offset="0" stop-color="#cdcdcd"/><stop offset="0.1" stop-color="#dbdbdb"/><stop offset="0.3" stop-color="#cecece"/><stop offset="0.45" stop-color="#ababab"/><stop offset="0.72" stop-color="#a7a7a7"/><stop offset="0.8" stop-color="#b3b3b3"/><stop offset="0.87" stop-color="#6c6c6c"/><stop offset="1" stop-color="#505050"/></linearGradient>
<path d="M630.6 797.8L619.1 982.8L626.6 983.2L638.2 798.2Z" fill="url(#rg3)" stroke="#1e1e1e" stroke-width="1.8" stroke-linejoin="round"/>
<g transform="translate(629 971) rotate(-1)">
<rect x="-11.5" y="-7.8" width="23" height="15.5" rx="2" fill="#9e9e9e" stroke="#1e1e1e" stroke-width="1.7"/>
<rect x="-9.9" y="-6.5" width="6.4" height="13.1" fill="#cfcfcf"/>
<rect x="5.3" y="-6.5" width="4.6" height="13.1" fill="#7d7d7d"/>
</g>
<line x1="628" y1="964" x2="627" y2="978" stroke="#1e1e1e" stroke-width="1.3"/>
<circle cx="634.7" cy="972" r="2.6" fill="#bdbdbd" stroke="#1e1e1e" stroke-width="1.2"/><circle cx="634.7" cy="972" r="1.6" fill="#c9c9c9" stroke="#1e1e1e" stroke-width="1"/><circle cx="634.7" cy="972" r="0.7" fill="#e6e6e6"/>
<linearGradient id="rg4" gradientUnits="userSpaceOnUse" x1="632.8" y1="692.9" x2="646.8" y2="693.7"><stop offset="0" stop-color="#cdcdcd"/><stop offset="0.1" stop-color="#dbdbdb"/><stop offset="0.3" stop-color="#cecece"/><stop offset="0.45" stop-color="#ababab"/><stop offset="0.72" stop-color="#a7a7a7"/><stop offset="0.8" stop-color="#b3b3b3"/><stop offset="0.87" stop-color="#6c6c6c"/><stop offset="1" stop-color="#505050"/></linearGradient>
<path d="M638 607.6L627.6 778.2L641.6 779L652 608.4Z" fill="url(#rg4)" stroke="#1e1e1e" stroke-width="1.8" stroke-linejoin="round"/>
<circle cx="635.7" cy="767.8" r="2.4" fill="#8a8a8a" stroke="#1e1e1e" stroke-width="1.2"/>
<circle cx="635.2" cy="775.3" r="2.4" fill="#8a8a8a" stroke="#1e1e1e" stroke-width="1.2"/>
<g transform="translate(633.9 794.6) rotate(3.4)">
<rect x="-5.9" y="-4.8" width="11.8" height="9.5" rx="1" fill="#a2a2a2" stroke="#1e1e1e" stroke-width="1.7"/>
<rect x="-4.3" y="-3.5" width="3.3" height="7.1" fill="#cfcfcf"/>
<rect x="1.9" y="-3.5" width="2.4" height="7.1" fill="#7d7d7d"/>
</g>
<g transform="translate(634.6 783.6) rotate(3.4)">
<rect x="-8.5" y="-6.2" width="17" height="12.5" rx="1.2" fill="#a6a6a6" stroke="#1e1e1e" stroke-width="1.7"/>
<rect x="-6.9" y="-5" width="4.8" height="10.1" fill="#cfcfcf"/>
<rect x="3.5" y="-5" width="3.4" height="10.1" fill="#7d7d7d"/>
</g>
<ellipse cx="645.1" cy="605.5" rx="4" ry="3" fill="#b0b0b0" stroke="#1e1e1e" stroke-width="1.5"/>
<g transform="translate(646.3 594) rotate(1.7)">
<rect x="-9" y="-11.4" width="18" height="22.8" rx="2.5" fill="#adadad" stroke="#1e1e1e" stroke-width="1.7"/>
<rect x="-7.4" y="-10.2" width="5" height="20.4" fill="#cfcfcf"/>
<rect x="3.8" y="-10.2" width="3.6" height="20.4" fill="#7d7d7d"/>
</g>
<circle cx="644.7" cy="593.2" r="4.3" fill="#bdbdbd" stroke="#1e1e1e" stroke-width="1.2"/><circle cx="644.7" cy="593.2" r="2.7" fill="#c9c9c9" stroke="#1e1e1e" stroke-width="1"/><circle cx="644.7" cy="593.2" r="1.1" fill="#e6e6e6"/>
<g transform="translate(646.8 577.4) rotate(1.4)">
<rect x="-8" y="-4.8" width="16" height="9.6" rx="1.2" fill="#b2b2b2" stroke="#1e1e1e" stroke-width="1.7"/>
<rect x="-6.4" y="-3.6" width="4.5" height="7.2" fill="#cfcfcf"/>
<rect x="3.2" y="-3.6" width="3.2" height="7.2" fill="#7d7d7d"/>
</g>
<g transform="translate(647.4 568.4) rotate(1.4)">
<rect x="-6" y="-4.2" width="12" height="8.4" rx="1" fill="#b6b6b6" stroke="#1e1e1e" stroke-width="1.7"/>
<rect x="-4.4" y="-3" width="3.4" height="6" fill="#cfcfcf"/>
<rect x="2" y="-3" width="2.4" height="6" fill="#7d7d7d"/>
</g>
<linearGradient id="rg5" gradientUnits="userSpaceOnUse" x1="1935.3" y1="677.5" x2="1952.2" y2="679.5"><stop offset="0" stop-color="#bdbdbd"/><stop offset="0.12" stop-color="#d2d2d2"/><stop offset="0.32" stop-color="#c2c2c2"/><stop offset="0.48" stop-color="#a3a3a3"/><stop offset="0.75" stop-color="#9c9c9c"/><stop offset="0.88" stop-color="#767676"/><stop offset="1" stop-color="#5c5c5c"/></linearGradient>
<path d="M1953.5 598.5C1954.8 598.5 1958.5 600.8 1959.5 602C1960.5 603.2 1962.1 605.7 1962.2 609C1962.3 612.3 1961.4 621.7 1960.3 630C1959.2 638.3 1954.9 666.3 1953 680C1951.1 693.7 1945.2 738.3 1943.8 747.2C1942.4 756.1 1942.1 754.7 1941 756C1939.9 757.3 1935.6 758.6 1934 758.5C1932.4 758.4 1928.4 756.3 1927.5 755C1926.6 753.7 1925.1 756 1926 747.2C1926.9 738.5 1933.2 693.9 1935.4 680C1937.6 666.1 1943.2 636.2 1944.5 628C1945.8 619.8 1946.2 613 1946.6 610C1947 607 1947.4 603.3 1948.2 602C1949 600.7 1952.2 598.5 1953.5 598.5Z" fill="url(#rg5)" stroke="#1e1e1e" stroke-width="1.8" stroke-linejoin="round"/>
<circle cx="1939.7" cy="734.7" r="2.7" fill="#8a8a8a" stroke="#1e1e1e" stroke-width="1.2"/>
<circle cx="1937.7" cy="745" r="2.7" fill="#8a8a8a" stroke="#1e1e1e" stroke-width="1.2"/>
<clipPath id="cl19960"><path d="M1920.2 763.3L1926.3 761L1937 763.3L1940.3 767.9L1939.3 777.8L1929.3 782L1921.7 780L1919.9 775.5L1925.5 771.7L1925.5 766.3Z"/></clipPath>
<path d="M1920.2 763.3L1926.3 761L1937 763.3L1940.3 767.9L1939.3 777.8L1929.3 782L1921.7 780L1919.9 775.5L1925.5 771.7L1925.5 766.3Z" fill="#a9a9a9"/>
<g clip-path="url(#cl19960)">
<rect x="1919.9" y="761" width="8.6" height="21" fill="#c4c4c4"/>
<line x1="1928.5" y1="761" x2="1928.5" y2="782" stroke="#1e1e1e" stroke-width="0.9"/>
<rect x="1919.9" y="777" width="20.4" height="5" fill="#868686"/>
<line x1="1919.9" y1="777" x2="1940.3" y2="777" stroke="#1e1e1e" stroke-width="1"/>
</g>
<path d="M1920.2 763.3L1926.3 761L1937 763.3L1940.3 767.9L1939.3 777.8L1929.3 782L1921.7 780L1919.9 775.5L1925.5 771.7L1925.5 766.3Z" fill="none" stroke="#1e1e1e" stroke-width="1.7" stroke-linejoin="round"/>
<circle cx="1936.2" cy="770.9" r="2.9" fill="#bdbdbd" stroke="#1e1e1e" stroke-width="1.2"/><circle cx="1936.2" cy="770.9" r="1.8" fill="#c9c9c9" stroke="#1e1e1e" stroke-width="1"/><circle cx="1936.2" cy="770.9" r="0.7" fill="#e6e6e6"/>
<clipPath id="cl19998"><path d="M1946.1 581.6L1954.5 575.5L1961.4 577.8L1966 583.9L1965.2 597.7L1959.9 600L1947.7 599.2L1942.3 596.1L1942.3 591.6L1946.9 587.7Z"/></clipPath>
<path d="M1946.1 581.6L1954.5 575.5L1961.4 577.8L1966 583.9L1965.2 597.7L1959.9 600L1947.7 599.2L1942.3 596.1L1942.3 591.6L1946.9 587.7Z" fill="#a9a9a9"/>
<g clip-path="url(#cl19998)">
<rect x="1942.3" y="575.5" width="10" height="24.5" fill="#c4c4c4"/>
<line x1="1952.3" y1="575.5" x2="1952.3" y2="600" stroke="#1e1e1e" stroke-width="0.9"/>
<rect x="1942.3" y="594.1" width="23.7" height="5.9" fill="#868686"/>
<line x1="1942.3" y1="594.1" x2="1966" y2="594.1" stroke="#1e1e1e" stroke-width="1"/>
</g>
<path d="M1946.1 581.6L1954.5 575.5L1961.4 577.8L1966 583.9L1965.2 597.7L1959.9 600L1947.7 599.2L1942.3 596.1L1942.3 591.6L1946.9 587.7Z" fill="none" stroke="#1e1e1e" stroke-width="1.7" stroke-linejoin="round"/>
<circle cx="1962.6" cy="588.5" r="2.9" fill="#bdbdbd" stroke="#1e1e1e" stroke-width="1.2"/><circle cx="1962.6" cy="588.5" r="1.8" fill="#c9c9c9" stroke="#1e1e1e" stroke-width="1"/><circle cx="1962.6" cy="588.5" r="0.7" fill="#e6e6e6"/>
<linearGradient id="rg6" gradientUnits="userSpaceOnUse" x1="1856" y1="909.5" x2="1863.5" y2="910.3"><stop offset="0" stop-color="#cdcdcd"/><stop offset="0.1" stop-color="#dbdbdb"/><stop offset="0.3" stop-color="#cecece"/><stop offset="0.45" stop-color="#ababab"/><stop offset="0.72" stop-color="#a7a7a7"/><stop offset="0.8" stop-color="#b3b3b3"/><stop offset="0.87" stop-color="#6c6c6c"/><stop offset="1" stop-color="#505050"/></linearGradient>
<path d="M1866.7 806.4L1845.2 1012.6L1852.8 1013.4L1874.3 807.2Z" fill="url(#rg6)" stroke="#1e1e1e" stroke-width="1.8" stroke-linejoin="round"/>
<circle cx="1849" cy="1013" r="3.6" fill="#8d8d8d" stroke="#1e1e1e" stroke-width="1.5"/>
<linearGradient id="rg7" gradientUnits="userSpaceOnUse" x1="1856.3" y1="907" x2="1863.9" y2="907.8"><stop offset="0" stop-color="#cdcdcd"/><stop offset="0.1" stop-color="#dbdbdb"/><stop offset="0.3" stop-color="#cecece"/><stop offset="0.45" stop-color="#ababab"/><stop offset="0.72" stop-color="#a7a7a7"/><stop offset="0.8" stop-color="#b3b3b3"/><stop offset="0.87" stop-color="#6c6c6c"/><stop offset="1" stop-color="#505050"/></linearGradient>
<path d="M1866.7 806.4L1845.9 1007.6L1853.4 1008.4L1874.3 807.2Z" fill="url(#rg7)" stroke="#1e1e1e" stroke-width="1.8" stroke-linejoin="round"/>
<g transform="translate(1857 993) rotate(0.4)">
<rect x="-11.5" y="-7.8" width="23" height="15.5" rx="2" fill="#9e9e9e" stroke="#1e1e1e" stroke-width="1.7"/>
<rect x="-9.9" y="-6.5" width="6.4" height="13.1" fill="#cfcfcf"/>
<rect x="5.3" y="-6.5" width="4.6" height="13.1" fill="#7d7d7d"/>
</g>
<line x1="1856" y1="986" x2="1855" y2="1000" stroke="#1e1e1e" stroke-width="1.3"/>
<circle cx="1862.5" cy="994" r="2.6" fill="#bdbdbd" stroke="#1e1e1e" stroke-width="1.2"/><circle cx="1862.5" cy="994" r="1.6" fill="#c9c9c9" stroke="#1e1e1e" stroke-width="1"/><circle cx="1862.5" cy="994" r="0.7" fill="#e6e6e6"/>
<linearGradient id="rg8" gradientUnits="userSpaceOnUse" x1="1875.7" y1="672.7" x2="1889.7" y2="674.1"><stop offset="0" stop-color="#cdcdcd"/><stop offset="0.1" stop-color="#dbdbdb"/><stop offset="0.3" stop-color="#cecece"/><stop offset="0.45" stop-color="#ababab"/><stop offset="0.72" stop-color="#a7a7a7"/><stop offset="0.8" stop-color="#b3b3b3"/><stop offset="0.87" stop-color="#6c6c6c"/><stop offset="1" stop-color="#505050"/></linearGradient>
<path d="M1887.2 560.3L1864.2 785.1L1878.2 786.5L1901.2 561.7Z" fill="url(#rg8)" stroke="#1e1e1e" stroke-width="1.8" stroke-linejoin="round"/>
<circle cx="1872.8" cy="773" r="2.4" fill="#8a8a8a" stroke="#1e1e1e" stroke-width="1.2"/>
<circle cx="1872" cy="781.5" r="2.4" fill="#8a8a8a" stroke="#1e1e1e" stroke-width="1.2"/>
<g transform="translate(1870.1 801.8) rotate(5.7)">
<rect x="-5.9" y="-4.8" width="11.8" height="9.5" rx="1" fill="#a2a2a2" stroke="#1e1e1e" stroke-width="1.7"/>
<rect x="-4.3" y="-3.5" width="3.3" height="7.1" fill="#cfcfcf"/>
<rect x="1.9" y="-3.5" width="2.4" height="7.1" fill="#7d7d7d"/>
</g>
<g transform="translate(1871.2 790.8) rotate(5.7)">
<rect x="-8.5" y="-6.2" width="17" height="12.5" rx="1.2" fill="#a6a6a6" stroke="#1e1e1e" stroke-width="1.7"/>
<rect x="-6.9" y="-5" width="4.8" height="10.1" fill="#cfcfcf"/>
<rect x="3.5" y="-5" width="3.4" height="10.1" fill="#7d7d7d"/>
</g>
<ellipse cx="1894.5" cy="558.5" rx="4" ry="3" fill="#b0b0b0" stroke="#1e1e1e" stroke-width="1.5"/>
<g transform="translate(1895.4 546.5) rotate(2.9)">
<rect x="-9" y="-11.4" width="18" height="22.8" rx="2.5" fill="#adadad" stroke="#1e1e1e" stroke-width="1.7"/>
<rect x="-7.4" y="-10.2" width="5" height="20.4" fill="#cfcfcf"/>
<rect x="3.8" y="-10.2" width="3.6" height="20.4" fill="#7d7d7d"/>
</g>
<circle cx="1893.8" cy="545.7" r="4.3" fill="#bdbdbd" stroke="#1e1e1e" stroke-width="1.2"/><circle cx="1893.8" cy="545.7" r="2.7" fill="#c9c9c9" stroke="#1e1e1e" stroke-width="1"/><circle cx="1893.8" cy="545.7" r="1.1" fill="#e6e6e6"/>
<g transform="translate(1896.1 529.9) rotate(2.3)">
<rect x="-8" y="-4.8" width="16" height="9.6" rx="1.2" fill="#b2b2b2" stroke="#1e1e1e" stroke-width="1.7"/>
<rect x="-6.4" y="-3.6" width="4.5" height="7.2" fill="#cfcfcf"/>
<rect x="3.2" y="-3.6" width="3.2" height="7.2" fill="#7d7d7d"/>
</g>
<g transform="translate(1896.8 520.9) rotate(2.3)">
<rect x="-6" y="-4.2" width="12" height="8.4" rx="1" fill="#b6b6b6" stroke="#1e1e1e" stroke-width="1.7"/>
<rect x="-4.4" y="-3" width="3.4" height="6" fill="#cfcfcf"/>
<rect x="2" y="-3" width="2.4" height="6" fill="#7d7d7d"/>
</g>
<defs><linearGradient id="nfL" x1="0" y1="462" x2="0" y2="562" gradientUnits="userSpaceOnUse"><stop offset="0" stop-color="#ccdee9" stop-opacity="0.97"/><stop offset="0.3" stop-color="#ccdee9" stop-opacity="0.8"/><stop offset="0.55" stop-color="#ccdee9" stop-opacity="0.55"/><stop offset="0.75" stop-color="#ccdee9" stop-opacity="0.3"/><stop offset="0.92" stop-color="#ccdee9" stop-opacity="0.08"/><stop offset="1" stop-color="#ccdee9" stop-opacity="0"/></linearGradient>
<linearGradient id="nfR" x1="0" y1="425" x2="0" y2="525" gradientUnits="userSpaceOnUse"><stop offset="0" stop-color="#ccdee9" stop-opacity="0.97"/><stop offset="0.3" stop-color="#ccdee9" stop-opacity="0.8"/><stop offset="0.55" stop-color="#ccdee9" stop-opacity="0.55"/><stop offset="0.75" stop-color="#ccdee9" stop-opacity="0.3"/><stop offset="0.92" stop-color="#ccdee9" stop-opacity="0.08"/><stop offset="1" stop-color="#ccdee9" stop-opacity="0"/></linearGradient></defs>
<rect x="552" y="455" width="100" height="107" fill="url(#nfL)"/>
<rect x="1790" y="418" width="100" height="107" fill="url(#nfR)"/>
<g fill="none" stroke="#000" stroke-width="4.2" stroke-linecap="round" stroke-linejoin="round">
<path d="M392.7 668.3C393.8 671.8 397.1 681.2 399 689C400.9 696.8 402.7 705 404 715C405.3 725 405.2 737.8 407 749C408.8 760.2 413.2 771 414.8 782C416.4 793 416.2 805.9 416.5 815C416.8 824.1 417 826.6 416.7 836.7C416.4 846.8 415.8 862.6 414.8 875.6C413.9 888.6 412.6 901.5 411 914.5C409.4 927.5 407.4 939.2 405 953.5C402.6 967.8 399.7 987.8 396.3 1000C392.9 1012.2 388.1 1015.4 384.5 1027C380.9 1038.6 378.1 1054.7 375 1069.7C371.9 1084.7 368 1105.2 365.6 1117C363.2 1128.8 361.4 1133.5 360.8 1140.6C360.2 1147.7 360.5 1151.6 362 1159.5C363.5 1167.4 366.8 1178.8 370 1187.8C373.2 1196.8 378 1207.8 381 1213.8C384 1219.8 387.1 1221.3 388 1224C388.9 1226.7 387.3 1228.7 386.5 1230C385.7 1231.3 385.3 1231.4 383 1232C380.7 1232.6 375.9 1234.7 372.6 1233.8C369.3 1232.9 365.9 1230 363 1226.7C360.1 1223.4 357.7 1217.6 355 1213.8C352.3 1210 348.9 1203.2 346.7 1204C344.5 1204.8 342 1213.3 342 1218.5C342 1223.7 343.6 1228.8 346.7 1235C349.8 1241.2 355.7 1250.5 360.8 1256C365.9 1261.5 373.1 1264.7 377.4 1268C381.7 1271.3 385.4 1274 386.8 1276C388.2 1278 386.6 1279 386 1280C385.4 1281 385.7 1281 383 1281.8C380.3 1282.6 374.5 1285.1 370 1284.6C365.5 1284.1 361.5 1282.6 356 1278.7C350.5 1274.8 343.1 1268.3 337 1261C330.9 1253.7 323.4 1243.3 319.5 1235C315.6 1226.7 313.6 1222 313.6 1211C313.6 1200 317.3 1183.9 319.5 1169C321.7 1154.1 325.4 1141.4 326.6 1121.7C327.8 1102 326.2 1071.1 326.6 1050.8C327 1030.5 328.5 1013 329.2 1000C329.9 987 330 984 331 973C332 962 333.5 948.6 335 934C336.5 919.4 338.4 901.6 339.9 885.4C341.4 869.2 343.1 854.5 343.8 836.7C344.5 818.9 344.1 797 343.8 778.4C343.5 759.8 342 743.4 342.2 725C342.4 706.6 343.7 684.7 344.8 668.3C345.9 651.9 347.1 640.6 349 626.7C350.9 612.8 353 596.8 356.2 585C359.5 573.2 363.5 564.1 368.8 555.8C374 547.5 380.9 540.4 387.5 535C394.1 529.6 400.3 526.3 408.3 523.5C416.3 520.7 423.9 519.8 435.4 518.3C446.8 516.8 464.9 516 477 514.6C489.1 513.2 500.6 511.9 508.3 510C516 508.1 517.5 508.3 523 503C528.5 497.7 537.6 485.8 541 478C544.4 470.2 543.9 462.3 543.6 456.3C543.3 450.3 540.8 446.5 539 442C537.2 437.5 535.1 434 532.6 429.5C530.1 425 526.4 419.2 524 415C521.6 410.8 519.8 405.2 518 404C516.2 402.8 514.6 407.1 513 407.5C511.4 407.9 509.9 407.5 508.3 406.4C506.7 405.3 504.7 402.8 503.5 401C502.3 399.2 502.2 399.3 501 395.5C499.8 391.7 497.8 383.2 496 378C494.2 372.8 491.9 368 490.5 364C489.1 360 487.6 357.1 487.5 354.2C487.4 351.3 487.9 348.1 490 346.5C492.1 344.9 498.4 348.9 499.8 344.5C501.2 340.1 498.4 328.1 498.2 320C498 311.9 497.7 305.3 498.6 295.8C499.5 286.3 501.1 272.7 503.5 263C505.9 253.3 509 244.5 513.2 237.5C517.5 230.5 522.9 225.2 529 221C535.1 216.8 546.9 214.7 549.7 212C552.5 209.3 546.4 207.2 546 205C545.6 202.8 546 201.8 547.2 198.6C548.4 195.4 550 189.6 553 186C556 182.4 560.7 179.2 565 177C569.3 174.8 573.8 173.5 578.8 173.1C583.8 172.7 590.1 173.8 595 174.5C599.9 175.2 603.8 176.9 608 177.5C612.2 178.1 615.8 177.5 620.1 178C624.4 178.5 629.7 178.8 634 180.5C638.3 182.2 642.8 184.6 646 188C649.2 191.4 652.2 197.4 653 201C653.8 204.6 647.3 206.8 650.5 209.6C653.7 212.4 664.9 214.6 672 218C679.1 221.4 687 224.4 693 230.2C699 236 704.2 244.1 708 253C711.8 261.9 714.7 273.9 716 283.7C717.3 293.5 717 302.9 716 312C715 321.1 709.8 333.4 710 338.4C710.2 343.4 715.3 340.6 717.4 342C719.5 343.4 721.5 345.2 722.5 347C723.5 348.8 724.1 349.8 723.5 353C722.9 356.2 720.8 361.5 719 366C717.2 370.5 714.9 375.1 713 380C711.1 384.9 708.9 392.2 707.7 395.5C706.5 398.8 706.8 398.5 706 399.5C705.2 400.5 704.3 401.4 702.8 401.6C701.3 401.9 698.8 401.6 697 401C695.2 400.4 693.9 395.7 691.9 398C689.9 400.3 687.6 409.8 685 415C682.4 420.2 679.3 424.7 676 429.5C672.7 434.3 667.8 438.8 665 444C662.2 449.2 660.2 455 659 461C657.8 467 656.9 473.5 657.5 480C658.1 486.5 660.6 495 662.7 500C664.8 505 665.3 504.9 670 510C674.7 515.1 682.5 524.2 690.8 530.8C699.1 537.4 710.3 544.1 720 549.6C729.7 555.1 739.3 558.8 749 564C758.7 569.2 770 574.5 778.3 580.8C786.6 587.1 792.8 593.7 799 601.7C805.2 609.7 811.6 619 815.8 628.8C820 638.5 822.5 649.8 824.3 660C826 670.2 826 680 826.3 690C826.6 700 826 710.8 826 720C826 729.2 826.2 738 826.6 745C827 752 826.7 751.6 828.5 762C830.3 772.4 834.5 791.8 837.6 807.5C840.7 823.2 843.7 839.8 847.3 856C850.9 872.2 855.4 890.2 859 904.8C862.6 919.4 866.1 932.3 868.7 943.7C871.3 955.1 872.9 963.6 874.5 973C876.1 982.4 877 983.1 878.4 1000C879.8 1016.9 882.5 1054.2 883 1074.5C883.5 1094.8 881.7 1108 881.7 1121.7C881.7 1135.5 881.8 1145.2 883 1157C884.2 1168.8 886.9 1180.7 888.8 1192.5C890.7 1204.3 893.7 1219 894.3 1228C894.9 1237 895.1 1239 892.4 1246.8C889.7 1254.6 884.1 1266.5 878.2 1275C872.3 1283.5 863.7 1292.5 857 1297.6C850.3 1302.7 843.5 1304.7 838 1305.4C832.5 1306.1 826.6 1303.2 823.9 1302C821.2 1300.8 822.2 1299.2 822 1298C821.8 1296.8 820.4 1296.7 822.7 1295C825 1293.3 831.2 1290.9 835.7 1288C840.2 1285.1 845.6 1282.4 849.9 1277.5C854.2 1272.6 859 1264.9 861.7 1258.6C864.5 1252.3 866.6 1245.2 866.4 1239.7C866.2 1234.2 862.5 1226.8 860.5 1225.6C858.5 1224.4 857.2 1229.2 854.6 1232.7C852 1236.2 848.5 1243.1 845 1246.8C841.5 1250.5 837 1254 833.3 1255C829.6 1256 825 1253.9 822.7 1252.7C820.4 1251.5 819.9 1249.4 819.5 1248C819.1 1246.6 819.3 1246.7 820.4 1244.5C821.5 1242.3 823.4 1240.5 826.3 1235C829.2 1229.5 834.7 1220.5 838 1211.4C841.3 1202.4 844.9 1189.4 846.3 1180.7C847.7 1172 847.7 1169.3 846.3 1159.5C844.9 1149.7 841 1135.9 838 1121.7C835 1107.5 832.5 1090.3 828.6 1074.5C824.7 1058.7 818.5 1039.4 814.5 1027C810.5 1014.6 808.3 1012.2 804.5 1000C800.7 987.8 795.1 966.1 791.9 953.5C788.6 940.9 788.1 935.6 785 924.3C781.9 912.9 777.9 898.4 773.4 885.4C768.9 872.4 763 859.5 757.8 846.5C752.6 833.5 746.2 818.9 742.3 807.5C738.4 796.1 736.3 788.1 734.5 778.4C732.7 768.6 731.5 757.1 731.6 749C731.7 740.9 734.4 733.2 735 730"/>
<path d="M404 715C404.5 720.7 405.2 737.8 407 749C408.8 760.2 411.9 772.2 414.8 782C417.7 791.8 421 798.4 424.5 807.5C428 816.6 431.8 826.3 436 836.7C440.2 847.1 445.9 860.1 449.8 869.8C453.7 879.5 457.4 887.5 459.5 895C461.6 902.5 462.8 907.4 462.5 914.5C462.2 921.6 460.7 929.5 457.6 937.9C454.5 946.3 447.9 958 444 965C440.1 972 437.7 972.8 434 980C430.3 987.2 425.3 996.2 422 1008C418.7 1019.8 416.2 1035.8 414 1050.8C411.8 1065.8 410.2 1082.3 409 1098C407.8 1113.7 407.6 1129.2 407 1145C406.4 1160.8 405.9 1176.7 405.7 1192.5C405.5 1208.3 405.3 1224 405.7 1239.7C406.1 1255.5 407 1273.6 408 1287C409 1300.4 409.9 1307.8 411.6 1320C413.3 1332.2 414.9 1344.2 418 1360C421.1 1375.8 426.3 1398.3 430 1415C433.7 1431.7 438.3 1452.5 440 1460"/>
<path d="M760 1460C763.8 1452.6 777 1432.3 782.8 1415.6C788.6 1398.9 792.3 1375.9 795 1360C797.7 1344.1 797.7 1332.2 799 1320C800.3 1307.8 801.4 1300.4 802.6 1287C803.8 1273.6 805.6 1255.5 806.2 1239.7C806.8 1224 806 1212.2 806.2 1192.5C806.4 1172.8 807.6 1143.4 807.4 1121.7C807.2 1100 806.6 1080.3 805 1062.6C803.4 1044.9 801.5 1029.2 798 1015.4C794.5 1001.6 787.9 988.4 783.8 980C779.6 971.6 778.4 973.3 773.4 965C768.4 956.7 760.5 941.7 754 930C747.5 918.3 740.3 905.7 734.5 895C728.7 884.3 722.4 875.7 719 866C715.6 856.3 714 846.5 714 836.7C714 827 716.6 816.6 719 807.5C721.4 798.4 726.5 791.8 728.6 782C730.7 772.2 730.5 757.7 731.6 749C732.7 740.3 734.4 733.2 735 730"/>
<path d="M570 1460C571.3 1447.1 576.1 1407.8 577.9 1382.8C579.7 1357.8 580 1333.6 581 1310C582 1286.4 583.5 1252.5 584 1241"/>
<path d="M623 1237C623.5 1247.5 624.3 1275.7 626 1300C627.7 1324.3 630.7 1356.1 633 1382.8C635.3 1409.5 638.8 1447.1 640 1460"/>
</g>
<g fill="#000" stroke="none">
<path d="M388.4 645.4L388.4 646.4L388.5 647.8L388.6 649.4L388.8 651.3L389 653.2L389.3 655.1L389.5 657.1L389.7 659.1L389.9 661.2L390.3 663.4L390.7 665.9L391.3 668.7L392 671.7L393 675L394 678.4L395.1 682L396.1 685.7L397.1 689.5L398 693.7L399 698.6L400 703.6L400.9 708.4L401.7 712.4L402.2 715.3L405.8 714.7L405.3 711.8L404.6 707.7L403.8 703L402.8 697.9L401.9 692.9L400.9 688.5L399.8 684.6L398.6 680.9L397.4 677.3L396.2 673.9L395.1 670.8L394.1 667.9L393.4 665.3L392.7 662.9L392.2 660.7L391.7 658.7L391.2 656.8L390.7 654.9L390.3 653L389.9 651.1L389.5 649.3L389.2 647.7L388.9 646.4L388.6 645.4Z"/>
<path d="M399.9 700.6L400.4 701.4L401.1 702.7L401.9 704.1L402.8 705.7L403.6 707.1L404.3 708.3L405 709.4L405.5 710.3L406.1 711.2L406.6 712L407 712.6L407.4 713.1L407.6 712.9L407.5 712.4L407.2 711.7L406.9 710.8L406.5 709.8L406.1 708.8L405.7 707.7L405.1 706.4L404.4 704.8L403.7 703.2L403.1 701.7L402.5 700.4L402.1 699.4Z"/>
<path d="M740.3 715.2L739.7 716.4L739 718L738.3 720L737.5 722.1L736.6 724.4L735.8 726.7L735 728.9L734.1 731.2L733.2 733.6L732.3 736.2L731.5 738.8L730.8 741.6L730.4 744.6L730 747.6L729.8 750.7L729.6 753.8L729.5 756.9L729.4 759.9L729.3 763.2L729.4 766.7L729.5 770.1L729.6 773.4L729.7 776.1L729.8 778L733.4 778L733.5 776L733.5 773.3L733.5 770.1L733.6 766.7L733.7 763.2L733.8 760.1L734 757.1L734.1 754L734.3 751L734.5 748L734.8 745.1L735.2 742.4L735.6 739.7L736 737.1L736.6 734.6L737.1 732.1L737.7 729.7L738.2 727.3L738.7 725L739.2 722.6L739.6 720.4L740 718.3L740.4 716.5L740.5 715.2Z"/>
<path d="M695 550.3L696.2 550.6L697.8 550.8L699.7 551.1L701.8 551.4L703.9 551.7L705.9 552.1L707.8 552.5L709.8 552.9L711.9 553.4L713.9 553.9L715.9 554.5L717.8 555L719.6 555.5L721.3 556L723 556.5L724.6 557L726.3 557.5L727.9 558.1L729.6 558.8L731.4 559.6L733.2 560.4L734.9 561.2L736.4 561.9L737.4 562.4L738.6 559.6L737.5 559.2L736.1 558.6L734.4 557.8L732.5 557.1L730.6 556.3L728.7 555.7L727 555.2L725.3 554.7L723.6 554.2L721.9 553.8L720.1 553.4L718.2 553L716.3 552.6L714.3 552.2L712.2 551.9L710.1 551.5L708.1 551.2L706.1 550.9L704.1 550.7L701.9 550.5L699.8 550.3L697.8 550.2L696.2 550.1L695 550.1Z"/>
<path d="M466.9 1221.2L468.2 1222.2L470 1223.7L472.2 1225.5L474.6 1227.3L477.1 1229.1L479.6 1230.7L482 1232.1L484.5 1233.4L487.1 1234.6L489.8 1235.8L492.6 1237L495.6 1238.1L498.9 1239.2L502.3 1240.2L505.9 1241.2L509.6 1242.2L513.2 1243.1L516.7 1243.9L520.1 1244.6L523.4 1245.2L526.6 1245.8L530 1246.3L533.4 1246.7L536.9 1247L540.7 1247.1L544.5 1247.1L548.5 1247L552.4 1246.7L556.3 1246.4L560.2 1246.1L564 1245.7L567.8 1245.1L571.6 1244.5L575.3 1243.9L578.9 1243.3L582.3 1242.7L585.5 1242.1L588.6 1241.5L591.5 1240.9L594.4 1240.3L597.3 1239.7L600.3 1239.2L603.3 1238.7L606.4 1238.2L609.5 1237.8L612.6 1237.4L615.8 1237L619 1236.7L622.4 1236.4L625.9 1236.2L629.5 1236.1L633 1235.9L636.6 1235.8L640.1 1235.6L643.4 1235.4L646.8 1235.3L650 1235.1L653.3 1234.9L656.6 1234.7L659.9 1234.5L663.2 1234.3L666.6 1234L669.9 1233.8L673.3 1233.5L676.7 1233.2L680.1 1232.9L683.6 1232.5L687.2 1232.2L690.7 1231.8L694.3 1231.3L697.7 1230.8L701 1230.2L704.2 1229.5L707.2 1228.7L710 1227.9L712.9 1227L715.6 1226L718.4 1224.9L721.1 1223.8L723.9 1222.6L726.7 1221.3L729.3 1220L731.8 1218.7L734 1217.4L735.8 1216.2L737.4 1215L738.8 1213.9L740 1212.7L741.2 1211.5L742.3 1210.3L743.5 1209L744.7 1207.5L745.8 1206L746.7 1204.6L747.5 1203.4L748.1 1202.6L747.9 1202.4L747.2 1203.2L746.3 1204.3L745.3 1205.6L744.1 1207.1L742.9 1208.4L741.7 1209.7L740.5 1210.8L739.3 1211.9L738 1213L736.7 1214L735.1 1215.1L733.2 1216.2L731.1 1217.3L728.6 1218.5L726 1219.7L723.2 1220.9L720.4 1222L717.6 1223.1L714.9 1224L712.2 1224.9L709.4 1225.7L706.6 1226.5L703.6 1227.2L700.6 1227.8L697.3 1228.3L693.9 1228.8L690.4 1229.2L686.9 1229.5L683.3 1229.8L679.9 1230.1L676.5 1230.4L673.1 1230.7L669.7 1230.9L666.4 1231.1L663 1231.3L659.7 1231.5L656.4 1231.7L653.1 1231.8L649.9 1232L646.6 1232.1L643.3 1232.3L639.9 1232.4L636.5 1232.5L632.9 1232.6L629.3 1232.8L625.7 1232.9L622.2 1233.1L618.8 1233.3L615.4 1233.6L612.2 1234L609 1234.4L605.9 1234.9L602.8 1235.3L599.7 1235.8L596.7 1236.4L593.7 1236.9L590.8 1237.5L587.9 1238.1L584.9 1238.7L581.7 1239.3L578.3 1240L574.7 1240.6L571 1241.3L567.3 1241.9L563.6 1242.5L559.8 1242.9L556.1 1243.3L552.2 1243.6L548.3 1243.9L544.4 1244L540.7 1244.1L537.1 1244L533.6 1243.8L530.3 1243.4L527.1 1243L523.9 1242.4L520.6 1241.8L517.3 1241.1L513.8 1240.4L510.2 1239.6L506.6 1238.8L503 1237.8L499.6 1236.9L496.4 1235.9L493.4 1234.9L490.6 1233.9L487.9 1232.8L485.3 1231.7L482.8 1230.5L480.4 1229.3L477.9 1227.9L475.3 1226.3L472.8 1224.7L470.5 1223.1L468.6 1221.8L467.1 1220.8Z"/>
</g>
<g fill="none" stroke="#000" stroke-width="4.2" stroke-linecap="round" stroke-linejoin="round">
<path d="M1666.6 715C1666.7 718.3 1666.9 729 1667 735C1667.1 741 1668 737.5 1667 750.7C1666 763.9 1663 792 1661 814.4C1659 836.8 1656.8 865.3 1655 885C1653.2 904.7 1652.7 916.7 1650.4 932.5C1648.1 948.3 1644.9 964 1641 979.7C1637.1 995.5 1630.5 1015.3 1626.8 1027C1623.1 1038.7 1622.2 1037.5 1619 1050C1615.8 1062.5 1611.2 1085.3 1607.5 1102C1603.8 1118.7 1598.9 1137.8 1597 1150C1595.1 1162.2 1595 1165.7 1596 1175C1597 1184.3 1600 1196.3 1603 1206C1606 1215.7 1610.8 1226.4 1613.8 1233C1616.8 1239.6 1620 1242.5 1621 1245.8C1622 1249.1 1621.9 1251.1 1620 1253C1618.1 1254.9 1613.1 1257.2 1609.6 1257C1606.1 1256.8 1602.5 1255.2 1599 1252C1595.5 1248.8 1591.9 1241.7 1588.8 1237.5C1585.6 1233.3 1582.3 1227 1580 1227C1577.7 1227 1575 1232.3 1575 1237.5C1575 1242.7 1576.7 1250.8 1580 1258C1583.3 1265.2 1589.7 1275 1595 1281C1600.3 1287 1607.7 1290.4 1611.7 1293.8C1615.7 1297.1 1618.7 1298.8 1619 1301C1619.3 1303.2 1617.1 1305.8 1613.8 1307C1610.4 1308.2 1605 1309.9 1599 1308C1593 1306.1 1584.9 1302 1578 1295.8C1571.1 1289.6 1562.7 1279.8 1557.5 1270.8C1552.3 1261.8 1548.4 1250.7 1547 1241.7C1545.6 1232.7 1547.1 1234.8 1549 1216.7C1550.9 1198.6 1556.6 1160.8 1558.5 1133C1560.4 1105.2 1559.6 1073.6 1560.6 1050C1561.5 1026.4 1562.6 1009.1 1564.2 991.5C1565.8 973.9 1567.2 960 1570 944.3C1572.8 928.5 1577.4 914.7 1580.8 897C1584.2 879.3 1587.5 859.6 1590.2 838C1593 816.4 1596 787.7 1597.3 767.2C1598.6 746.7 1598 733 1598.3 715C1598.6 697 1598.2 675.2 1599 659C1599.8 642.8 1601.2 629.3 1603.3 617.5C1605.4 605.7 1607.9 597.3 1611.7 588.3C1615.5 579.3 1620.1 570.9 1626 563.3C1631.9 555.7 1640 548 1647 542.5C1654 537 1660 533.5 1668 530C1676 526.5 1685 524.8 1695 521.7C1705 518.6 1717.9 515.4 1728.3 511.2C1738.7 507.1 1750 502.2 1757.5 496.7C1765 491.2 1769.5 484.9 1773 478C1776.5 471.1 1778.2 462.1 1778.3 455C1778.4 447.9 1775 440.9 1773.4 435.2C1771.8 429.5 1770.6 425.2 1768.8 420.7C1766.9 416.1 1764.8 412.5 1762.3 408C1759.8 403.4 1756.1 397.5 1753.7 393.2C1751.2 388.9 1749.5 383.3 1747.6 382C1745.8 380.8 1744.2 385.2 1742.6 385.6C1741 386 1739.5 385.6 1737.9 384.5C1736.3 383.4 1734.3 380.8 1733 379C1731.8 377.1 1731.8 377.3 1730.5 373.4C1729.3 369.5 1727.3 360.9 1725.5 355.6C1723.7 350.2 1721.4 345.4 1720 341.3C1718.5 337.3 1717 334.3 1717 331.4C1716.9 328.4 1717.4 325.2 1719.5 323.5C1721.5 321.9 1728 326 1729.3 321.5C1730.7 317 1727.9 304.9 1727.7 296.6C1727.5 288.3 1727.2 281.6 1728.1 272C1729 262.3 1730.6 248.5 1733 238.6C1735.5 228.7 1738.5 219.8 1742.8 212.7C1747.1 205.6 1752.6 200.2 1758.7 195.9C1764.8 191.6 1776.7 189.5 1779.5 186.8C1782.4 184 1776.2 181.9 1775.8 179.6C1775.4 177.4 1775.8 176.4 1777 173.1C1778.2 169.9 1779.9 164 1782.8 160.3C1785.8 156.7 1790.6 153.4 1794.9 151.2C1799.2 149 1803.8 147.6 1808.8 147.2C1813.8 146.8 1820.2 147.9 1825.1 148.6C1830 149.4 1834 151.1 1838.2 151.7C1842.4 152.3 1846 151.7 1850.3 152.2C1854.7 152.7 1860 153 1864.3 154.7C1868.7 156.4 1873.2 158.9 1876.4 162.4C1879.6 165.8 1882.7 171.9 1883.4 175.6C1884.2 179.2 1877.7 181.4 1880.9 184.3C1884.1 187.2 1895.4 189.4 1902.6 192.9C1909.7 196.4 1917.6 199.3 1923.7 205.3C1929.7 211.2 1934.9 219.4 1938.8 228.5C1942.6 237.5 1945.5 249.7 1946.8 259.7C1948.2 269.7 1947.8 279.2 1946.8 288.5C1945.8 297.7 1940.6 310.2 1940.8 315.3C1941 320.4 1946.1 317.5 1948.2 319C1950.3 320.4 1952.3 322.2 1953.4 324.1C1954.4 325.9 1955 326.9 1954.4 330.2C1953.8 333.4 1951.6 338.8 1949.8 343.4C1948.1 348 1945.7 352.6 1943.8 357.6C1941.9 362.6 1939.6 370.1 1938.5 373.4C1937.3 376.7 1937.6 376.4 1936.8 377.4C1935.9 378.5 1935.1 379.3 1933.5 379.6C1932 379.8 1929.5 379.6 1927.7 379C1925.9 378.4 1924.6 373.6 1922.6 375.9C1920.6 378.3 1918.3 387.9 1915.6 393.2C1913 398.6 1909.4 403.7 1906.6 408C1903.8 412.3 1900.8 415 1898.8 419C1896.8 423 1895.5 427.7 1894.5 432C1893.5 436.3 1892.9 440.7 1892.7 445C1892.5 449.3 1893 453.9 1893.5 458C1894 462.1 1894.1 466.2 1896 469.5C1897.9 472.8 1900.4 473.5 1905 478C1909.6 482.5 1915.4 491.2 1923.8 496.7C1932.1 502.2 1944.2 507.4 1955 511.2C1965.8 515.1 1978.6 516.6 1988.3 519.6C1998 522.6 2005.3 524.5 2013.3 529C2021.3 533.5 2029.6 539.9 2036.2 546.7C2042.9 553.5 2048.2 561.3 2053 569.6C2057.8 577.9 2061.9 587 2065 596.7C2068.1 606.4 2070 617.1 2071.5 628C2073 638.9 2073.8 650 2074.2 662C2074.5 674 2073.7 688.7 2073.6 700C2073.5 711.3 2073.1 718.7 2073.4 730C2073.7 741.3 2074.4 756.8 2075.6 768C2076.8 779.2 2078.7 782.9 2080.3 797C2081.9 811.1 2084 839 2085.3 852.8C2086.6 866.6 2086.6 871.3 2087.9 880C2089.2 888.7 2091.3 896.7 2093.3 905C2095.3 913.3 2098.2 921.7 2100 930C2101.8 938.3 2103.1 946.7 2104.2 955C2105.3 963.3 2105.9 972 2106.7 980C2107.5 988 2107.9 992.5 2108.8 1003.3C2109.7 1014.1 2111.2 1031.4 2112 1045C2112.8 1058.6 2113.1 1072.5 2113.4 1085C2113.7 1097.5 2113.6 1107.8 2114 1120C2114.4 1132.2 2114.5 1145.8 2115.8 1158C2117.1 1170.2 2120.1 1181.7 2121.7 1193.5C2123.3 1205.3 2125.5 1219.2 2125.3 1229C2125.1 1238.8 2123.8 1244.7 2120.6 1252.5C2117.4 1260.3 2112.3 1268.5 2106.4 1276C2100.5 1283.5 2091.7 1292.7 2085 1297.4C2078.3 1302.1 2071.1 1303.6 2066 1304C2060.9 1304.4 2056.8 1301.1 2054.5 1299.7C2052.2 1298.3 2052.5 1296.9 2052.5 1295.5C2052.5 1294.1 2052.2 1293.3 2054.5 1291.5C2056.8 1289.7 2061.7 1287.6 2066 1284.4C2070.3 1281.2 2076.1 1277.5 2080.4 1272.6C2084.7 1267.7 2089.3 1261 2092 1254.9C2094.7 1248.8 2096.7 1241.4 2096.5 1236C2096.3 1230.6 2092.9 1223.5 2091 1222.3C2089.1 1221.1 2087.6 1225.4 2085 1229C2082.4 1232.6 2079.2 1240.2 2075.7 1244C2072.2 1247.8 2067.6 1251 2063.9 1251.8C2060.2 1252.6 2055.5 1250.3 2053.3 1249C2051.1 1247.7 2050.7 1245.6 2050.5 1244C2050.3 1242.4 2050.2 1242.8 2052 1239.5C2053.8 1236.2 2058.2 1231.7 2061.5 1224C2064.8 1216.3 2069.4 1203.3 2072 1193.5C2074.6 1183.7 2076.5 1174 2076.9 1165C2077.3 1156 2076.7 1152.2 2074.5 1139.2C2072.3 1126.2 2067.4 1103.7 2063.9 1087.2C2060.4 1070.7 2055.8 1050 2053.3 1040C2050.8 1030 2051.7 1037 2049 1027C2046.3 1017 2041.2 995.5 2037.3 979.7C2033.4 964 2028.6 950.2 2025.5 932.5C2022.4 914.8 2020.8 895 2018.5 873.4C2016.2 851.8 2013.6 823 2011.4 802.6C2009.2 782.2 2006.7 762 2005.5 750.7C2004.3 739.4 2004.6 741 2004.5 735C2004.4 729 2004.9 718.3 2005 715"/>
<path d="M1667 735C1667.4 737.6 1667 741.4 1669.3 750.7C1671.6 760 1677.8 776.2 1681 790.8C1684.2 805.3 1686.4 822.3 1688.2 838C1690 853.7 1691.3 871.2 1691.7 885C1692.1 898.8 1692.3 908.9 1690.5 920.7C1688.7 932.5 1684.9 944.2 1681 956C1677.1 967.8 1671.7 979.7 1667 991.5C1662.3 1003.3 1656.1 1017.2 1652.8 1027C1649.5 1036.8 1649.2 1035.8 1647 1050C1644.8 1064.2 1641.5 1091.7 1639.8 1112.5C1638.1 1133.3 1637.4 1154.2 1636.7 1175C1636 1195.8 1635.4 1218.4 1635.6 1237.5C1635.8 1256.6 1636.5 1274 1637.7 1289.6C1638.9 1305.2 1641 1317.6 1643 1331C1645 1344.4 1646.5 1355.2 1650 1370C1653.5 1384.8 1659.8 1405 1664 1420C1668.2 1435 1673.2 1453.3 1675 1460"/>
<path d="M1995 1460C1997.2 1452.5 2004 1429.9 2008 1415C2012 1400.1 2015.6 1385.9 2019 1370.6C2022.4 1355.3 2025.9 1339.2 2028.5 1323.4C2031.1 1307.6 2033.2 1295.7 2034.4 1276C2035.6 1256.3 2035.6 1228.9 2035.6 1205.3C2035.6 1181.7 2035.2 1156.2 2034.4 1134.5C2033.6 1112.8 2032.7 1091.4 2030.8 1075.4C2028.9 1059.4 2026.4 1050.7 2023.2 1038.7C2020 1026.7 2015.7 1015.1 2011.4 1003.3C2007.1 991.5 2001.5 979.7 1997.2 967.9C1992.9 956.1 1988.2 944.3 1985.4 932.5C1982.7 920.7 1980.9 912.8 1980.7 897C1980.5 881.2 1982.7 855.7 1984.2 838C1985.8 820.3 1987.4 805.8 1990 790.8C1992.6 775.8 1997.2 757.6 1999.6 748.3C2002 739 2003.7 737.2 2004.5 735"/>
<path d="M1800 1460C1801.1 1447.8 1804.8 1409.5 1806.7 1387C1808.6 1364.5 1810.3 1349.3 1811.5 1325C1812.7 1300.7 1813.4 1255 1813.8 1241"/>
<path d="M1857 1239.7C1857.5 1253.9 1858.4 1300.5 1860 1325C1861.6 1349.5 1864.2 1364.5 1866.5 1387C1868.8 1409.5 1872.8 1447.8 1874 1460"/>
</g>
<g fill="#000" stroke="none">
<path d="M1666.1 699.8L1665.9 700.6L1665.7 701.8L1665.6 703.1L1665.4 704.7L1665.2 706.3L1665 708L1664.8 709.7L1664.5 711.5L1664.3 713.4L1664.1 715.4L1663.9 717.6L1663.8 720.1L1663.8 722.8L1663.9 725.9L1664.1 729.1L1664.2 732.4L1664.4 735.4L1664.5 738.2L1664.8 740.7L1665 743.1L1665.3 745.3L1665.6 747.3L1665.8 749L1666 750.2L1670 749.8L1670 748.6L1669.9 746.9L1669.8 744.9L1669.7 742.7L1669.6 740.3L1669.5 737.8L1669.3 735.1L1669 732.1L1668.8 728.9L1668.6 725.7L1668.4 722.6L1668.2 719.9L1668 717.6L1667.7 715.4L1667.5 713.4L1667.4 711.5L1667.2 709.7L1667 708L1666.9 706.3L1666.8 704.7L1666.7 703.2L1666.6 701.8L1666.5 700.7L1666.4 699.8Z"/>
<path d="M2004.9 697.7L2004.7 698.8L2004.7 700.3L2004.6 702.1L2004.5 704.1L2004.4 706.1L2004.3 708L2004.1 709.8L2003.9 711.7L2003.7 713.5L2003.5 715.5L2003.3 717.6L2003.1 719.9L2002.9 722.7L2002.8 725.8L2002.6 729L2002.4 732.3L2002.2 735.3L2002 737.8L2001.9 740L2001.8 742.1L2001.7 743.9L2001.6 745.5L2001.5 746.8L2001.5 747.8L2005.5 748.2L2005.7 747.2L2005.9 746L2006.2 744.4L2006.5 742.5L2006.7 740.4L2007 738.2L2007.1 735.5L2007.2 732.5L2007.3 729.2L2007.4 725.9L2007.5 722.8L2007.5 720.1L2007.4 717.7L2007.2 715.5L2007 713.5L2006.8 711.6L2006.5 709.8L2006.3 708L2006.1 706L2005.9 704L2005.7 702.1L2005.5 700.3L2005.3 698.8L2005.1 697.7Z"/>
<path d="M1679.5 1181.1L1680.6 1182.6L1682.1 1184.7L1683.8 1187.1L1685.7 1189.7L1687.6 1192.2L1689.5 1194.5L1691.2 1196.4L1692.8 1198.3L1694.4 1200.1L1696.2 1201.9L1698.1 1203.8L1700.4 1205.8L1702.9 1207.9L1705.7 1210.1L1708.7 1212.4L1711.9 1214.7L1715.1 1217L1718.3 1219.1L1721.6 1221.1L1724.9 1223.1L1728.3 1225L1731.8 1226.9L1735.4 1228.7L1739 1230.4L1742.8 1232L1746.6 1233.5L1750.6 1234.9L1754.5 1236.2L1758.6 1237.5L1762.6 1238.6L1766.7 1239.5L1770.7 1240.4L1774.8 1241.1L1778.9 1241.7L1783.1 1242.3L1787.4 1242.7L1791.7 1243.1L1796.2 1243.3L1800.8 1243.5L1805.3 1243.6L1809.7 1243.6L1813.9 1243.5L1817.9 1243.2L1821.6 1242.8L1825.2 1242.3L1828.7 1241.8L1832.1 1241.4L1835.5 1241.2L1838.9 1241.1L1842.4 1241.2L1845.8 1241.4L1849.4 1241.7L1853.1 1241.9L1856.9 1242L1860.9 1242L1865.1 1242L1869.3 1242L1873.5 1241.9L1877.8 1241.8L1882 1241.7L1886.3 1241.6L1890.7 1241.4L1895.1 1241.2L1899.4 1241L1903.5 1240.7L1907.5 1240.3L1911.1 1239.8L1914.6 1239.2L1917.9 1238.6L1921 1237.9L1924.2 1237.2L1927.3 1236.4L1930.6 1235.4L1933.9 1234.4L1937.1 1233.4L1940.2 1232.3L1943.2 1231.2L1946 1230.1L1948.6 1229.1L1951 1228L1953.2 1227L1955.4 1225.9L1957.4 1224.9L1959.4 1223.8L1961.4 1222.8L1963.2 1221.7L1965 1220.7L1966.8 1219.7L1968.4 1218.6L1970 1217.5L1971.4 1216.2L1972.8 1214.8L1974.2 1213.4L1975.3 1212.1L1976.3 1211L1976.9 1210.1L1976.7 1209.9L1975.9 1210.6L1974.8 1211.6L1973.6 1212.8L1972.2 1214.1L1970.7 1215.4L1969.2 1216.5L1967.7 1217.5L1966.1 1218.5L1964.3 1219.4L1962.5 1220.3L1960.6 1221.3L1958.6 1222.2L1956.6 1223.1L1954.5 1224.1L1952.4 1225L1950.1 1226L1947.7 1226.9L1945.2 1227.9L1942.4 1228.9L1939.4 1229.9L1936.3 1230.9L1933.1 1231.9L1929.9 1232.8L1926.7 1233.6L1923.5 1234.4L1920.4 1235.1L1917.3 1235.7L1914.1 1236.2L1910.7 1236.7L1907.1 1237.1L1903.3 1237.5L1899.2 1237.7L1894.9 1237.9L1890.6 1238.1L1886.2 1238.2L1882 1238.3L1877.7 1238.3L1873.5 1238.3L1869.3 1238.3L1865.1 1238.2L1861 1238.1L1857.1 1238L1853.3 1237.8L1849.7 1237.5L1846.1 1237.2L1842.6 1237L1839 1236.8L1835.3 1236.8L1831.6 1237.1L1828.1 1237.6L1824.6 1238.1L1821.1 1238.7L1817.5 1239.2L1813.7 1239.5L1809.6 1239.7L1805.3 1239.8L1800.9 1239.8L1796.4 1239.7L1791.9 1239.6L1787.6 1239.3L1783.5 1238.9L1779.4 1238.4L1775.3 1237.8L1771.3 1237.2L1767.3 1236.4L1763.4 1235.4L1759.4 1234.4L1755.5 1233.2L1751.6 1232L1747.7 1230.6L1743.9 1229.1L1740.2 1227.6L1736.6 1226L1733.1 1224.4L1729.6 1222.6L1726.2 1220.7L1722.9 1218.8L1719.7 1216.9L1716.5 1214.9L1713.2 1212.8L1710.1 1210.6L1707 1208.4L1704.2 1206.3L1701.6 1204.2L1699.4 1202.4L1697.4 1200.6L1695.6 1198.9L1693.9 1197.2L1692.3 1195.4L1690.5 1193.5L1688.6 1191.4L1686.6 1189L1684.5 1186.5L1682.6 1184.2L1681 1182.3L1679.9 1180.9Z"/>
</g>
<rect x="250" y="1255" width="1900" height="185" fill="url(#fade)"/>
<polygon fill="#000" points="2149.5,596 2172.5,635 2157.1,635 2157.1,805.6 2172.5,805.6 2149.5,844.5 2127,805.6 2141.9,805.6 2141.9,635 2127,635"/>
<text y="139.2" font-size="77.5" stroke="#111" stroke-width="0.7" style="white-space:pre"><tspan x="902.5" textLength="246.5" lengthAdjust="spacingAndGlyphs">VEPTR </tspan><tspan x="1148.5" textLength="353.5" lengthAdjust="spacingAndGlyphs">Treatment</tspan></text>
<text x="1202.8" y="637.5" font-size="66" text-anchor="middle" stroke="#fff" stroke-width="1.2" textLength="637.6" lengthAdjust="spacingAndGlyphs">A device is implanted</text>
<text x="1203.2" y="717" font-size="66" text-anchor="middle" stroke="#fff" stroke-width="1.2" textLength="553.7" lengthAdjust="spacingAndGlyphs">and lengthened to</text>
<text x="1202.7" y="797.2" font-size="66" text-anchor="middle" stroke="#fff" stroke-width="1.2" textLength="667.4" lengthAdjust="spacingAndGlyphs">expand and straighten</text>
<text x="1204" y="876.2" font-size="66" text-anchor="middle" stroke="#fff" stroke-width="1.2" textLength="354" lengthAdjust="spacingAndGlyphs">the rib cage</text>
</svg></body></html>
